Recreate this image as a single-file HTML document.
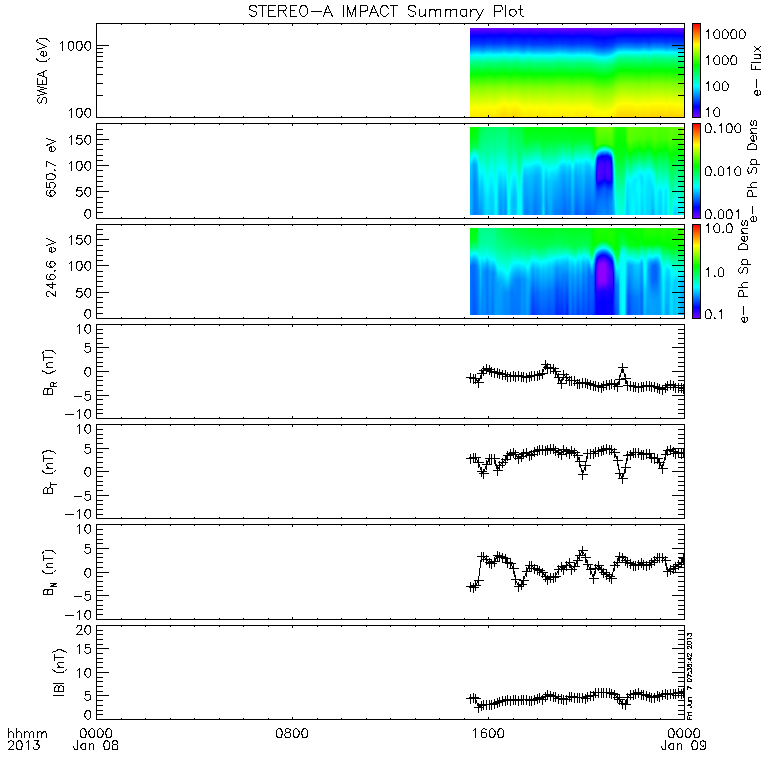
<!DOCTYPE html>
<html><head><meta charset="utf-8"><title>STEREO-A IMPACT Summary Plot</title>
<style>
html,body{margin:0;padding:0;background:#fff}
body{font-family:"Liberation Sans",sans-serif}
#c{position:relative;width:780px;height:780px;background:#fff;overflow:hidden}
#c div{position:absolute}
.cb{left:693px;width:7px;background:linear-gradient(to top,#8000ff,#0000ff 11.11%,#00ffff 33.33%,#00ff00 55.56%,#ffff00 77.78%,#ff0000)}
.h{width:1px}
svg{position:absolute;left:0;top:0}
</style></head><body><div id="c">
<div style="left:470px;width:1px;top:28px;height:89px;background:linear-gradient(#6a00ff 0.5px,#0001ff 8.5px,#0038ff 16.5px,#0093ff 22.5px,#00f9ff 27.5px,#00fff3 28.5px,#00ff7d 35.5px,#00ff05 46.5px,#10ff00 48.5px,#80ff00 59.5px,#fdff00 79.5px,#ffeb00 88.5px)"></div><div style="left:471px;width:1px;top:28px;height:89px;background:linear-gradient(#6900ff 0.5px,#0900ff 7.5px,#0003ff 8.5px,#003bff 16.5px,#0098ff 22.5px,#00feff 27.5px,#00ff79 35.5px,#00ff02 46.5px,#82ff00 59.5px,#ffff00 79.5px,#ffea00 88.5px)"></div><div style="left:472px;width:1px;top:28px;height:89px;background:linear-gradient(#6900ff 0.5px,#0600ff 7.5px,#0005ff 8.5px,#0040ff 16.5px,#009eff 22.5px,#00f0ff 26.5px,#00fffb 27.5px,#00ff82 34.5px,#02ff00 46.5px,#84ff00 59.5px,#fffe00 79.5px,#ffea00 88.5px)"></div><div style="left:473px;width:1px;top:28px;height:89px;background:linear-gradient(#6900ff 0.5px,#0500ff 7.5px,#000cff 9.5px,#0037ff 15.5px,#008fff 21.5px,#00f4ff 26.5px,#00fff7 27.5px,#00ff7f 34.5px,#00ff07 45.5px,#04ff00 46.5px,#86ff00 59.5px,#fffd00 79.5px,#ffea00 88.5px)"></div><div style="left:474px;width:1px;top:28px;height:89px;background:linear-gradient(#6a00ff 0.5px,#0500ff 7.5px,#000cff 9.5px,#0037ff 15.5px,#0090ff 21.5px,#00f6ff 26.5px,#00fff6 27.5px,#00ff7e 34.5px,#00ff06 45.5px,#04ff00 46.5px,#86ff00 59.5px,#fffe00 79.5px,#ffeb00 88.5px)"></div><div style="left:475px;width:1px;top:28px;height:89px;background:linear-gradient(#6b00ff 0.5px,#0600ff 7.5px,#000bff 9.5px,#0036ff 15.5px,#0090ff 21.5px,#00f6ff 26.5px,#00fff6 27.5px,#00ff7f 34.5px,#00ff07 45.5px,#04ff00 46.5px,#7eff00 58.5px,#ffff00 79.5px,#ffec00 88.5px)"></div><div style="left:476px;width:1px;top:28px;height:89px;background:linear-gradient(#6b00ff 0.5px,#0600ff 7.5px,#0004ff 8.5px,#0036ff 15.5px,#0090ff 21.5px,#00f5ff 26.5px,#00fff6 27.5px,#00ff7f 34.5px,#00ff07 45.5px,#03ff00 46.5px,#84ff00 59.5px,#ffff00 79.5px,#ffec00 88.5px)"></div><div style="left:477px;width:1px;top:28px;height:89px;background:linear-gradient(#6b00ff 0.5px,#0600ff 7.5px,#000bff 9.5px,#0036ff 15.5px,#0090ff 21.5px,#00f5ff 26.5px,#00fff6 27.5px,#00ff7f 34.5px,#00ff07 45.5px,#04ff00 46.5px,#85ff00 59.5px,#ffff00 79.5px,#ffec00 88.5px)"></div><div style="left:478px;width:1px;top:28px;height:89px;background:linear-gradient(#6a00ff 0.5px,#0500ff 7.5px,#000cff 9.5px,#0037ff 15.5px,#0090ff 21.5px,#00f5ff 26.5px,#00fff6 27.5px,#00ff7f 34.5px,#00ff07 45.5px,#04ff00 46.5px,#85ff00 59.5px,#fffe00 79.5px,#ffeb00 88.5px)"></div><div style="left:479px;width:1px;top:28px;height:89px;background:linear-gradient(#6900ff 0.5px,#0500ff 7.5px,#000dff 9.5px,#0037ff 15.5px,#0090ff 21.5px,#00f4ff 26.5px,#00fff7 27.5px,#00ff7f 34.5px,#00ff06 45.5px,#04ff00 46.5px,#86ff00 59.5px,#fffd00 79.5px,#ffea00 88.5px)"></div><div style="left:480px;width:1px;top:28px;height:89px;background:linear-gradient(#6900ff 0.5px,#0600ff 7.5px,#000cff 9.5px,#0036ff 15.5px,#0060ff 18.5px,#00a0ff 22.5px,#00f2ff 26.5px,#00fff9 27.5px,#00ff80 34.5px,#03ff00 46.5px,#85ff00 59.5px,#fffd00 79.5px,#ffea00 88.5px)"></div><div style="left:481px;width:1px;top:28px;height:89px;background:linear-gradient(#6a00ff 0.5px,#0800ff 7.5px,#0003ff 8.5px,#003eff 16.5px,#009cff 22.5px,#00fffc 27.5px,#00ff84 34.5px,#00ff00 46.5px,#83ff00 59.5px,#ffff00 79.5px,#ffeb00 88.5px)"></div><div style="left:482px;width:2px;top:28px;height:89px;background:linear-gradient(#6c00ff 0.5px,#0a00ff 7.5px,#0001ff 8.5px,#003bff 16.5px,#0099ff 22.5px,#00ffff 27.5px,#00ff87 34.5px,#00ff02 46.5px,#81ff00 59.5px,#fdff00 79.5px,#ffec00 88.5px)"></div><div style="left:484px;width:1px;top:28px;height:89px;background:linear-gradient(#6a00ff 0.5px,#0800ff 7.5px,#0003ff 8.5px,#003eff 16.5px,#009cff 22.5px,#00fffc 27.5px,#00ff84 34.5px,#00ff00 46.5px,#83ff00 59.5px,#ffff00 79.5px,#ffeb00 88.5px)"></div><div style="left:485px;width:1px;top:28px;height:89px;background:linear-gradient(#6900ff 0.5px,#0600ff 7.5px,#000cff 9.5px,#0036ff 15.5px,#006fff 19.5px,#00a0ff 22.5px,#00f2ff 26.5px,#00fff8 27.5px,#00ff80 34.5px,#00ff08 45.5px,#03ff00 46.5px,#85ff00 59.5px,#fffe00 79.5px,#ffea00 88.5px)"></div><div style="left:486px;width:1px;top:28px;height:89px;background:linear-gradient(#6800ff 0.5px,#0400ff 7.5px,#001cff 11.5px,#0038ff 15.5px,#0091ff 21.5px,#00f6ff 26.5px,#00fff5 27.5px,#00ff7e 34.5px,#00ff05 45.5px,#10ff00 47.5px,#87ff00 59.5px,#fffc00 79.5px,#ffe900 88.5px)"></div><div style="left:487px;width:1px;top:28px;height:89px;background:linear-gradient(#6800ff 0.5px,#0300ff 7.5px,#0039ff 15.5px,#0093ff 21.5px,#00f8ff 26.5px,#00fff3 27.5px,#00ff7c 34.5px,#00ff04 45.5px,#25ff00 49.5px,#88ff00 59.5px,#fdff00 78.5px,#ffe900 88.5px)"></div><div style="left:488px;width:1px;top:28px;height:89px;background:linear-gradient(#6700ff 0.5px,#0200ff 7.5px,#003aff 15.5px,#0094ff 21.5px,#00f9ff 26.5px,#00ffe1 28.5px,#00ff7b 34.5px,#00ff03 45.5px,#89ff00 59.5px,#fdff00 78.5px,#ffe800 88.5px)"></div><div style="left:489px;width:1px;top:28px;height:89px;background:linear-gradient(#6600ff 0.5px,#0100ff 7.5px,#003bff 15.5px,#0094ff 21.5px,#00faff 26.5px,#00ffe0 28.5px,#00ff7a 34.5px,#00ff02 45.5px,#89ff00 59.5px,#feff00 78.5px,#ffe700 88.5px)"></div><div style="left:490px;width:1px;top:28px;height:89px;background:linear-gradient(#6600ff 0.5px,#0100ff 7.5px,#003bff 15.5px,#0094ff 21.5px,#00f9ff 26.5px,#00fff2 27.5px,#00ff7b 34.5px,#00ff03 45.5px,#89ff00 59.5px,#ffff00 78.5px,#ffe700 88.5px)"></div><div style="left:491px;width:1px;top:28px;height:89px;background:linear-gradient(#6700ff 0.5px,#0300ff 7.5px,#0039ff 15.5px,#0092ff 21.5px,#00f6ff 26.5px,#00fff4 27.5px,#00ff7d 34.5px,#00ff04 45.5px,#1bff00 48.5px,#88ff00 59.5px,#fdff00 78.5px,#ffe800 88.5px)"></div><div style="left:492px;width:1px;top:28px;height:89px;background:linear-gradient(#6900ff 0.5px,#0500ff 7.5px,#000cff 9.5px,#0037ff 15.5px,#008fff 21.5px,#00f3ff 26.5px,#00fff7 27.5px,#00ff7f 34.5px,#00ff07 45.5px,#04ff00 46.5px,#86ff00 59.5px,#fffd00 79.5px,#ffe900 88.5px)"></div><div style="left:493px;width:1px;top:28px;height:89px;background:linear-gradient(#6a00ff 0.5px,#0700ff 7.5px,#0004ff 8.5px,#0035ff 15.5px,#007eff 20.5px,#00b4ff 23.5px,#00f1ff 26.5px,#00fff9 27.5px,#00ff81 34.5px,#02ff00 46.5px,#84ff00 59.5px,#ffff00 79.5px,#ffeb00 88.5px)"></div><div style="left:494px;width:1px;top:28px;height:89px;background:linear-gradient(#6b00ff 0.5px,#0700ff 7.5px,#0003ff 8.5px,#0034ff 15.5px,#008dff 21.5px,#00f1ff 26.5px,#00fffa 27.5px,#00ff82 34.5px,#01ff00 46.5px,#83ff00 59.5px,#ffff00 79.5px,#ffec00 88.5px)"></div><div style="left:495px;width:1px;top:28px;height:89px;background:linear-gradient(#6b00ff 0.5px,#0700ff 7.5px,#0004ff 8.5px,#0035ff 15.5px,#008eff 21.5px,#00f2ff 26.5px,#00fff9 27.5px,#00ff81 34.5px,#02ff00 46.5px,#84ff00 59.5px,#ffff00 79.5px,#ffeb00 88.5px)"></div><div style="left:496px;width:1px;top:28px;height:89px;background:linear-gradient(#6900ff 0.5px,#0500ff 7.5px,#000dff 9.5px,#0037ff 15.5px,#0090ff 21.5px,#00f4ff 26.5px,#00fff7 27.5px,#00ff7f 34.5px,#00ff06 45.5px,#04ff00 46.5px,#86ff00 59.5px,#fcff00 78.5px,#ffe800 88.5px)"></div><div style="left:497px;width:1px;top:28px;height:89px;background:linear-gradient(#6600ff 0.5px,#0200ff 7.5px,#0039ff 15.5px,#0092ff 21.5px,#00f6ff 26.5px,#00fff5 27.5px,#00ff7d 34.5px,#00ff04 45.5px,#1bff00 48.5px,#88ff00 59.5px,#fffe00 78.5px,#ffe400 88.5px)"></div><div style="left:498px;width:1px;top:28px;height:89px;background:linear-gradient(#6500ff 0.5px,#0100ff 7.5px,#003aff 15.5px,#0073ff 19.5px,#00a4ff 22.5px,#00f6ff 26.5px,#00fff4 27.5px,#00ff7c 34.5px,#00ff04 45.5px,#3aff00 51.5px,#89ff00 59.5px,#fdff00 77.5px,#ffe000 88.5px)"></div><div style="left:499px;width:1px;top:28px;height:89px;background:linear-gradient(#6500ff 0.5px,#0100ff 7.5px,#003aff 15.5px,#0064ff 18.5px,#00a3ff 22.5px,#00f6ff 26.5px,#00fff5 27.5px,#00ff7c 34.5px,#00ff04 45.5px,#30ff00 50.5px,#8aff00 59.5px,#ffff00 77.5px,#ffeb00 83.5px,#ffde00 88.5px)"></div><div style="left:500px;width:1px;top:28px;height:89px;background:linear-gradient(#6400ff 0.5px,#0100ff 7.5px,#003aff 15.5px,#0064ff 18.5px,#00a4ff 22.5px,#00f6ff 26.5px,#00fff5 27.5px,#00ff7c 34.5px,#00ff04 45.5px,#3aff00 51.5px,#8aff00 59.5px,#fffd00 77.5px,#ffdb00 88.5px)"></div><div style="left:501px;width:1px;top:28px;height:89px;background:linear-gradient(#6400ff 0.5px,#0000ff 7.5px,#003bff 15.5px,#0075ff 19.5px,#00a5ff 22.5px,#00f7ff 26.5px,#00fff3 27.5px,#00ff7b 34.5px,#00ff02 45.5px,#8bff00 59.5px,#feff00 76.5px,#ffd900 88.5px)"></div><div style="left:502px;width:1px;top:28px;height:89px;background:linear-gradient(#6400ff 0.5px,#0001ff 7.5px,#003dff 15.5px,#0096ff 21.5px,#00fbff 26.5px,#00ffce 29.5px,#00ff79 34.5px,#00ff01 45.5px,#8cff00 59.5px,#fffd00 76.5px,#ffd700 88.5px)"></div><div style="left:503px;width:1px;top:28px;height:89px;background:linear-gradient(#6400ff 0.5px,#0002ff 7.5px,#003eff 15.5px,#0099ff 21.5px,#00feff 26.5px,#00ff77 34.5px,#01ff00 45.5px,#8dff00 59.5px,#fcff00 75.5px,#ffd500 88.5px)"></div><div style="left:504px;width:1px;top:28px;height:89px;background:linear-gradient(#6500ff 0.5px,#0002ff 7.5px,#003eff 15.5px,#009aff 21.5px,#00fffe 26.5px,#00ff76 34.5px,#02ff00 45.5px,#86ff00 58.5px,#fdff00 75.5px,#ffd500 88.5px)"></div><div style="left:505px;width:1px;top:28px;height:89px;background:linear-gradient(#6700ff 0.5px,#0000ff 7.5px,#003dff 15.5px,#0099ff 21.5px,#00ffff 26.5px,#00ff77 34.5px,#00ff00 45.5px,#84ff00 58.5px,#fcff00 75.5px,#ffda00 87.5px,#ffd700 88.5px)"></div><div style="left:506px;width:1px;top:28px;height:89px;background:linear-gradient(#6a00ff 0.5px,#0300ff 7.5px,#003aff 15.5px,#0096ff 21.5px,#00fcff 26.5px,#00ff7a 34.5px,#00ff03 45.5px,#89ff00 59.5px,#fffe00 76.5px,#ffd900 88.5px)"></div><div style="left:507px;width:1px;top:28px;height:89px;background:linear-gradient(#6c00ff 0.5px,#0500ff 7.5px,#000bff 9.5px,#0037ff 15.5px,#0092ff 21.5px,#00f8ff 26.5px,#00fff4 27.5px,#00ff7e 34.5px,#00ff06 45.5px,#0fff00 47.5px,#86ff00 59.5px,#fdff00 76.5px,#ffdc00 88.5px)"></div><div style="left:508px;width:1px;top:28px;height:89px;background:linear-gradient(#6d00ff 0.5px,#0700ff 7.5px,#0002ff 8.5px,#0035ff 15.5px,#008fff 21.5px,#00f5ff 26.5px,#00fff7 27.5px,#00ff80 34.5px,#03ff00 46.5px,#84ff00 59.5px,#fbff00 76.5px,#fff200 81.5px,#ffdd00 88.5px)"></div><div style="left:509px;width:1px;top:28px;height:89px;background:linear-gradient(#6d00ff 0.5px,#0800ff 7.5px,#0002ff 8.5px,#0034ff 15.5px,#008eff 21.5px,#00f4ff 26.5px,#00fff8 27.5px,#00ff81 34.5px,#02ff00 46.5px,#84ff00 59.5px,#ffff00 77.5px,#ffdd00 88.5px)"></div><div style="left:510px;width:1px;top:28px;height:89px;background:linear-gradient(#6d00ff 0.5px,#0700ff 7.5px,#0002ff 8.5px,#0034ff 15.5px,#008fff 21.5px,#00f4ff 26.5px,#00fff7 27.5px,#00ff80 34.5px,#02ff00 46.5px,#84ff00 59.5px,#fbff00 76.5px,#fff200 81.5px,#ffdc00 88.5px)"></div><div style="left:511px;width:1px;top:28px;height:89px;background:linear-gradient(#6c00ff 0.5px,#0600ff 7.5px,#0003ff 8.5px,#0035ff 15.5px,#0090ff 21.5px,#00f5ff 26.5px,#00fff6 27.5px,#00ff7f 34.5px,#00ff07 45.5px,#03ff00 46.5px,#85ff00 59.5px,#fcff00 76.5px,#ffdc00 88.5px)"></div><div style="left:512px;width:1px;top:28px;height:89px;background:linear-gradient(#6b00ff 0.5px,#0500ff 7.5px,#000cff 9.5px,#0037ff 15.5px,#0092ff 21.5px,#00f8ff 26.5px,#00fff4 27.5px,#00ff7d 34.5px,#00ff05 45.5px,#0fff00 47.5px,#86ff00 59.5px,#feff00 76.5px,#ffdb00 88.5px)"></div><div style="left:513px;width:1px;top:28px;height:89px;background:linear-gradient(#6900ff 0.5px,#0200ff 7.5px,#0039ff 15.5px,#0095ff 21.5px,#00fbff 26.5px,#00ffbd 30.5px,#00ff7b 34.5px,#00ff03 45.5px,#89ff00 59.5px,#fffe00 76.5px,#ffd900 88.5px)"></div><div style="left:514px;width:1px;top:28px;height:89px;background:linear-gradient(#6700ff 0.5px,#0000ff 7.5px,#003cff 15.5px,#0097ff 21.5px,#00feff 26.5px,#00ff78 34.5px,#00ff01 45.5px,#8bff00 59.5px,#fbff00 75.5px,#fff200 79.5px,#ffd700 88.5px)"></div><div style="left:515px;width:1px;top:28px;height:89px;background:linear-gradient(#6700ff 0.5px,#0000ff 7.5px,#003cff 15.5px,#0098ff 21.5px,#00feff 26.5px,#00ff78 34.5px,#00ff00 45.5px,#85ff00 58.5px,#fcff00 75.5px,#ffe900 82.5px,#ffd700 88.5px)"></div><div style="left:516px;width:1px;top:28px;height:89px;background:linear-gradient(#6700ff 0.5px,#0000ff 7.5px,#003bff 15.5px,#0097ff 21.5px,#00feff 26.5px,#00ff78 34.5px,#00ff01 45.5px,#8bff00 59.5px,#fffd00 76.5px,#ffd800 88.5px)"></div><div style="left:517px;width:1px;top:28px;height:89px;background:linear-gradient(#6700ff 0.5px,#0100ff 7.5px,#003aff 15.5px,#0095ff 21.5px,#00fcff 26.5px,#00ff89 33.5px,#00ff64 36.5px,#00ff02 45.5px,#8aff00 59.5px,#feff00 76.5px,#ffda00 88.5px)"></div><div style="left:518px;width:1px;top:28px;height:89px;background:linear-gradient(#6800ff 0.5px,#0200ff 7.5px,#0039ff 15.5px,#0093ff 21.5px,#00f9ff 26.5px,#00fff3 27.5px,#00ff7c 34.5px,#00ff04 45.5px,#3aff00 51.5px,#89ff00 59.5px,#fffe00 77.5px,#ffdd00 88.5px)"></div><div style="left:519px;width:1px;top:28px;height:89px;background:linear-gradient(#6800ff 0.5px,#0400ff 7.5px,#001cff 11.5px,#0038ff 15.5px,#0090ff 21.5px,#00f5ff 26.5px,#00fff6 27.5px,#00ff7e 34.5px,#00ff06 45.5px,#0fff00 47.5px,#87ff00 59.5px,#feff00 77.5px,#ffdf00 88.5px)"></div><div style="left:520px;width:1px;top:28px;height:89px;background:linear-gradient(#6800ff 0.5px,#0600ff 7.5px,#000cff 9.5px,#0040ff 16.5px,#009eff 22.5px,#00f0ff 26.5px,#00fffa 27.5px,#00ff82 34.5px,#03ff00 46.5px,#86ff00 59.5px,#fffe00 78.5px,#ffe100 88.5px)"></div><div style="left:521px;width:1px;top:28px;height:89px;background:linear-gradient(#6800ff 0.5px,#0800ff 7.5px,#0004ff 8.5px,#003dff 16.5px,#0099ff 22.5px,#00ffff 27.5px,#00ff86 34.5px,#00ff00 46.5px,#84ff00 59.5px,#fdff00 78.5px,#ffe400 88.5px)"></div><div style="left:522px;width:1px;top:28px;height:89px;background:linear-gradient(#6900ff 0.5px,#0900ff 7.5px,#0003ff 8.5px,#003aff 16.5px,#0096ff 22.5px,#00fdff 27.5px,#00ff7a 35.5px,#00ff02 46.5px,#82ff00 59.5px,#fffe00 79.5px,#ffe700 88.5px)"></div><div style="left:523px;width:1px;top:28px;height:89px;background:linear-gradient(#6a00ff 0.5px,#0a00ff 7.5px,#0002ff 8.5px,#003aff 16.5px,#0096ff 22.5px,#00fcff 27.5px,#00ff7a 35.5px,#00ff03 46.5px,#81ff00 59.5px,#ffff00 79.5px,#ffea00 88.5px)"></div><div style="left:524px;width:1px;top:28px;height:89px;background:linear-gradient(#6b00ff 0.5px,#0900ff 7.5px,#0002ff 8.5px,#003bff 16.5px,#0098ff 22.5px,#00feff 27.5px,#00ff87 34.5px,#00ff02 46.5px,#82ff00 59.5px,#feff00 79.5px,#ffeb00 88.5px)"></div><div style="left:525px;width:1px;top:28px;height:89px;background:linear-gradient(#6b00ff 0.5px,#0800ff 7.5px,#0003ff 8.5px,#0034ff 15.5px,#004eff 17.5px,#009cff 22.5px,#00eeff 26.5px,#00fffc 27.5px,#00ff84 34.5px,#00ff00 46.5px,#83ff00 59.5px,#ffff00 79.5px,#ffeb00 88.5px)"></div><div style="left:526px;width:1px;top:28px;height:89px;background:linear-gradient(#6a00ff 0.5px,#0600ff 7.5px,#000bff 9.5px,#0036ff 15.5px,#008fff 21.5px,#00f3ff 26.5px,#00fff8 27.5px,#00ff80 34.5px,#00ff08 45.5px,#03ff00 46.5px,#85ff00 59.5px,#fffe00 79.5px,#ffeb00 88.5px)"></div><div style="left:527px;width:1px;top:28px;height:89px;background:linear-gradient(#6900ff 0.5px,#0400ff 7.5px,#001bff 11.5px,#0038ff 15.5px,#0092ff 21.5px,#00f7ff 26.5px,#00fff4 27.5px,#00ff7d 34.5px,#00ff05 45.5px,#10ff00 47.5px,#87ff00 59.5px,#fffd00 79.5px,#ffea00 88.5px)"></div><div style="left:528px;width:1px;top:28px;height:89px;background:linear-gradient(#6800ff 0.5px,#0300ff 7.5px,#0039ff 15.5px,#0093ff 21.5px,#00f8ff 26.5px,#00fff3 27.5px,#00ff7c 34.5px,#00ff04 45.5px,#25ff00 49.5px,#88ff00 59.5px,#fdff00 78.5px,#ffe900 88.5px)"></div><div style="left:529px;width:1px;top:28px;height:89px;background:linear-gradient(#6700ff 0.5px,#0300ff 7.5px,#0039ff 15.5px,#0092ff 21.5px,#00f7ff 26.5px,#00fff4 27.5px,#00ff7d 34.5px,#00ff04 45.5px,#1bff00 48.5px,#88ff00 59.5px,#fdff00 78.5px,#ffe800 88.5px)"></div><div style="left:530px;width:1px;top:28px;height:89px;background:linear-gradient(#6800ff 0.5px,#0500ff 7.5px,#000dff 9.5px,#0037ff 15.5px,#0061ff 18.5px,#00a1ff 22.5px,#00f3ff 26.5px,#00fff8 27.5px,#00ff7f 34.5px,#00ff07 45.5px,#04ff00 46.5px,#86ff00 59.5px,#fffc00 79.5px,#ffe900 88.5px)"></div><div style="left:531px;width:1px;top:28px;height:89px;background:linear-gradient(#6900ff 0.5px,#0700ff 7.5px,#0004ff 8.5px,#003fff 16.5px,#009cff 22.5px,#00efff 26.5px,#00fffc 27.5px,#00ff83 34.5px,#01ff00 46.5px,#84ff00 59.5px,#fffe00 79.5px,#ffea00 88.5px)"></div><div style="left:532px;width:1px;top:28px;height:89px;background:linear-gradient(#6b00ff 0.5px,#0900ff 7.5px,#0002ff 8.5px,#003cff 16.5px,#0099ff 22.5px,#00ffff 27.5px,#00ff86 34.5px,#00ff01 46.5px,#82ff00 59.5px,#feff00 79.5px,#ffeb00 88.5px)"></div><div style="left:533px;width:1px;top:28px;height:89px;background:linear-gradient(#6c00ff 0.5px,#0a00ff 7.5px,#0001ff 8.5px,#003bff 16.5px,#0098ff 22.5px,#00feff 27.5px,#00ff87 34.5px,#00ff02 46.5px,#81ff00 59.5px,#fdff00 79.5px,#ffed00 88.5px)"></div><div style="left:534px;width:1px;top:28px;height:89px;background:linear-gradient(#6c00ff 0.5px,#0a00ff 7.5px,#0001ff 8.5px,#003bff 16.5px,#0099ff 22.5px,#00ffff 27.5px,#00ff87 34.5px,#00ff02 46.5px,#81ff00 59.5px,#fdff00 79.5px,#ffed00 88.5px)"></div><div style="left:535px;width:1px;top:28px;height:89px;background:linear-gradient(#6c00ff 0.5px,#0900ff 7.5px,#0002ff 8.5px,#003dff 16.5px,#009bff 22.5px,#00fffe 27.5px,#00ff85 34.5px,#00ff01 46.5px,#82ff00 59.5px,#feff00 79.5px,#ffed00 88.5px)"></div><div style="left:536px;width:1px;top:28px;height:89px;background:linear-gradient(#6b00ff 0.5px,#0800ff 7.5px,#0003ff 8.5px,#0034ff 15.5px,#004dff 17.5px,#009cff 22.5px,#00eeff 26.5px,#00fffc 27.5px,#00ff83 34.5px,#00ff00 46.5px,#83ff00 59.5px,#ffff00 79.5px,#ffec00 88.5px)"></div><div style="left:537px;width:1px;top:28px;height:89px;background:linear-gradient(#6a00ff 0.5px,#0700ff 7.5px,#0003ff 8.5px,#003fff 16.5px,#009dff 22.5px,#00efff 26.5px,#00fffc 27.5px,#00ff83 34.5px,#01ff00 46.5px,#83ff00 59.5px,#ffff00 79.5px,#ffeb00 88.5px)"></div><div style="left:538px;width:1px;top:28px;height:89px;background:linear-gradient(#6900ff 0.5px,#0700ff 7.5px,#0004ff 8.5px,#003fff 16.5px,#009dff 22.5px,#00efff 26.5px,#00fffc 27.5px,#00ff83 34.5px,#01ff00 46.5px,#84ff00 59.5px,#fffe00 79.5px,#ffea00 88.5px)"></div><div style="left:539px;width:1px;top:28px;height:89px;background:linear-gradient(#6800ff 0.5px,#0600ff 7.5px,#000cff 9.5px,#003fff 16.5px,#009dff 22.5px,#00efff 26.5px,#00fffb 27.5px,#00ff83 34.5px,#02ff00 46.5px,#85ff00 59.5px,#fffd00 79.5px,#ffe800 88.5px)"></div><div style="left:540px;width:1px;top:28px;height:89px;background:linear-gradient(#6600ff 0.5px,#0500ff 7.5px,#000dff 9.5px,#0040ff 16.5px,#009dff 22.5px,#00efff 26.5px,#00fffb 27.5px,#00ff82 34.5px,#03ff00 46.5px,#86ff00 59.5px,#fcff00 78.5px,#ffe700 88.5px)"></div><div style="left:541px;width:1px;top:28px;height:89px;background:linear-gradient(#6600ff 0.5px,#0500ff 7.5px,#000eff 9.5px,#003fff 16.5px,#009cff 22.5px,#00fffc 27.5px,#00ff83 34.5px,#03ff00 46.5px,#86ff00 59.5px,#fcff00 78.5px,#ffe700 88.5px)"></div><div style="left:542px;width:1px;top:28px;height:89px;background:linear-gradient(#6700ff 0.5px,#0600ff 7.5px,#0006ff 8.5px,#003eff 16.5px,#009aff 22.5px,#00fffe 27.5px,#00ff77 35.5px,#01ff00 46.5px,#85ff00 59.5px,#fffd00 79.5px,#ffe800 88.5px)"></div><div style="left:543px;width:1px;top:28px;height:89px;background:linear-gradient(#6800ff 0.5px,#0700ff 7.5px,#0005ff 8.5px,#003cff 16.5px,#0099ff 22.5px,#00ffff 27.5px,#00ff78 35.5px,#00ff00 46.5px,#84ff00 59.5px,#fffe00 79.5px,#ffe800 88.5px)"></div><div style="left:544px;width:1px;top:28px;height:89px;background:linear-gradient(#6700ff 0.5px,#0700ff 7.5px,#0005ff 8.5px,#003dff 16.5px,#0099ff 22.5px,#00ffff 27.5px,#00ff78 35.5px,#00ff00 46.5px,#84ff00 59.5px,#fffd00 79.5px,#ffe800 88.5px)"></div><div style="left:545px;width:1px;top:28px;height:89px;background:linear-gradient(#6700ff 0.5px,#0600ff 7.5px,#0005ff 8.5px,#003eff 16.5px,#009aff 22.5px,#00fffd 27.5px,#00ff84 34.5px,#01ff00 46.5px,#85ff00 59.5px,#fffd00 79.5px,#ffe800 88.5px)"></div><div style="left:546px;width:1px;top:28px;height:89px;background:linear-gradient(#6800ff 0.5px,#0700ff 7.5px,#0005ff 8.5px,#003eff 16.5px,#009bff 22.5px,#00fffd 27.5px,#00ff84 34.5px,#01ff00 46.5px,#84ff00 59.5px,#fffe00 79.5px,#ffe900 88.5px)"></div><div style="left:547px;width:1px;top:28px;height:89px;background:linear-gradient(#6b00ff 0.5px,#0800ff 7.5px,#0003ff 8.5px,#003dff 16.5px,#009bff 22.5px,#00fffd 27.5px,#00ff84 34.5px,#00ff00 46.5px,#82ff00 59.5px,#feff00 79.5px,#ffec00 88.5px)"></div><div style="left:548px;width:1px;top:28px;height:89px;background:linear-gradient(#6d00ff 0.5px,#0a00ff 7.5px,#0000ff 8.5px,#0031ff 15.5px,#005bff 18.5px,#009bff 22.5px,#00fffe 27.5px,#00ff85 34.5px,#00ff02 46.5px,#81ff00 59.5px,#fcff00 79.5px,#ffee00 88.5px)"></div><div style="left:549px;width:1px;top:28px;height:89px;background:linear-gradient(#6f00ff 0.5px,#0b00ff 7.5px,#0100ff 8.5px,#0030ff 15.5px,#006aff 19.5px,#009aff 22.5px,#00fffe 27.5px,#00ff86 34.5px,#00ff03 46.5px,#7fff00 59.5px,#fbff00 79.5px,#fff600 85.5px,#fff000 88.5px)"></div><div style="left:550px;width:1px;top:28px;height:89px;background:linear-gradient(#6f00ff 0.5px,#0c00ff 7.5px,#0100ff 8.5px,#0030ff 15.5px,#0069ff 19.5px,#009aff 22.5px,#00fffe 27.5px,#00ff86 34.5px,#00ff03 46.5px,#7fff00 59.5px,#faff00 79.5px,#fff700 85.5px,#fff000 88.5px)"></div><div style="left:551px;width:1px;top:28px;height:89px;background:linear-gradient(#6f00ff 0.5px,#0b00ff 7.5px,#0100ff 8.5px,#0031ff 15.5px,#006aff 19.5px,#009bff 22.5px,#00fffe 27.5px,#00ff85 34.5px,#00ff02 46.5px,#80ff00 59.5px,#fbff00 79.5px,#ffef00 88.5px)"></div><div style="left:552px;width:1px;top:28px;height:89px;background:linear-gradient(#6d00ff 0.5px,#0900ff 7.5px,#0001ff 8.5px,#0032ff 15.5px,#005cff 18.5px,#009cff 22.5px,#00fffc 27.5px,#00ff84 34.5px,#00ff01 46.5px,#81ff00 59.5px,#fdff00 79.5px,#ffee00 88.5px)"></div><div style="left:553px;width:1px;top:28px;height:89px;background:linear-gradient(#6b00ff 0.5px,#0800ff 7.5px,#0003ff 8.5px,#0034ff 15.5px,#005eff 18.5px,#009eff 22.5px,#00f0ff 26.5px,#00fffb 27.5px,#00ff82 34.5px,#01ff00 46.5px,#83ff00 59.5px,#ffff00 79.5px,#ffec00 88.5px)"></div><div style="left:554px;width:1px;top:28px;height:89px;background:linear-gradient(#6a00ff 0.5px,#0600ff 7.5px,#0004ff 8.5px,#0036ff 15.5px,#006fff 19.5px,#00a0ff 22.5px,#00f2ff 26.5px,#00fff9 27.5px,#00ff81 34.5px,#03ff00 46.5px,#85ff00 59.5px,#fffe00 79.5px,#ffeb00 88.5px)"></div><div style="left:555px;width:1px;top:28px;height:89px;background:linear-gradient(#6a00ff 0.5px,#0600ff 7.5px,#000bff 9.5px,#0036ff 15.5px,#008fff 21.5px,#00f3ff 26.5px,#00fff7 27.5px,#00ff80 34.5px,#00ff07 45.5px,#03ff00 46.5px,#85ff00 59.5px,#fffe00 79.5px,#ffeb00 88.5px)"></div><div style="left:556px;width:1px;top:28px;height:89px;background:linear-gradient(#6b00ff 0.5px,#0600ff 7.5px,#000bff 9.5px,#0036ff 15.5px,#0090ff 21.5px,#00f5ff 26.5px,#00fff6 27.5px,#00ff7f 34.5px,#00ff07 45.5px,#04ff00 46.5px,#7eff00 58.5px,#ffff00 79.5px,#ffec00 88.5px)"></div><div style="left:557px;width:1px;top:28px;height:89px;background:linear-gradient(#6c00ff 0.5px,#0600ff 7.5px,#000bff 9.5px,#0037ff 15.5px,#0092ff 21.5px,#00f8ff 26.5px,#00fff4 27.5px,#00ff7e 34.5px,#00ff06 45.5px,#0fff00 47.5px,#7eff00 58.5px,#feff00 79.5px,#ffed00 88.5px)"></div><div style="left:558px;width:1px;top:28px;height:89px;background:linear-gradient(#6c00ff 0.5px,#0400ff 7.5px,#0013ff 10.5px,#0038ff 15.5px,#0095ff 21.5px,#00fbff 26.5px,#00ffcf 29.5px,#00ff7c 34.5px,#00ff04 45.5px,#1bff00 48.5px,#80ff00 58.5px,#ffff00 79.5px,#ffed00 88.5px)"></div><div style="left:559px;width:1px;top:28px;height:89px;background:linear-gradient(#6c00ff 0.5px,#0400ff 7.5px,#001bff 11.5px,#0039ff 15.5px,#0096ff 21.5px,#00fcff 26.5px,#00ff7b 34.5px,#00ff04 45.5px,#30ff00 50.5px,#80ff00 58.5px,#ffff00 79.5px,#ffed00 88.5px)"></div><div style="left:560px;width:1px;top:28px;height:89px;background:linear-gradient(#6c00ff 0.5px,#0500ff 7.5px,#000bff 9.5px,#0038ff 15.5px,#0094ff 21.5px,#00faff 26.5px,#00ffe1 28.5px,#00ff7d 34.5px,#00ff05 45.5px,#10ff00 47.5px,#7fff00 58.5px,#feff00 79.5px,#ffed00 88.5px)"></div><div style="left:561px;width:1px;top:28px;height:89px;background:linear-gradient(#6d00ff 0.5px,#0600ff 7.5px,#000aff 9.5px,#0036ff 15.5px,#0092ff 21.5px,#00f8ff 26.5px,#00fff4 27.5px,#00ff7e 34.5px,#00ff06 45.5px,#04ff00 46.5px,#7eff00 58.5px,#feff00 79.5px,#ffed00 88.5px)"></div><div style="left:562px;width:1px;top:28px;height:89px;background:linear-gradient(#6c00ff 0.5px,#0600ff 7.5px,#0003ff 8.5px,#0036ff 15.5px,#0090ff 21.5px,#00f6ff 26.5px,#00fff6 27.5px,#00ff7f 34.5px,#00ff07 45.5px,#04ff00 46.5px,#7eff00 58.5px,#feff00 79.5px,#ffed00 88.5px)"></div><div style="left:563px;width:1px;top:28px;height:89px;background:linear-gradient(#6b00ff 0.5px,#0600ff 7.5px,#000bff 9.5px,#0036ff 15.5px,#0090ff 21.5px,#00f5ff 26.5px,#00fff6 27.5px,#00ff7f 34.5px,#00ff07 45.5px,#04ff00 46.5px,#85ff00 59.5px,#ffff00 79.5px,#ffeb00 88.5px)"></div><div style="left:564px;width:1px;top:28px;height:89px;background:linear-gradient(#6900ff 0.5px,#0500ff 7.5px,#000cff 9.5px,#0037ff 15.5px,#0090ff 21.5px,#00f4ff 26.5px,#00fff6 27.5px,#00ff7f 34.5px,#00ff07 45.5px,#04ff00 46.5px,#86ff00 59.5px,#fffd00 79.5px,#ffea00 88.5px)"></div><div style="left:565px;width:1px;top:28px;height:89px;background:linear-gradient(#6900ff 0.5px,#0500ff 7.5px,#000dff 9.5px,#0037ff 15.5px,#008fff 21.5px,#00f4ff 26.5px,#00fff7 27.5px,#00ff7f 34.5px,#00ff07 45.5px,#04ff00 46.5px,#86ff00 59.5px,#fffd00 79.5px,#ffe900 88.5px)"></div><div style="left:566px;width:1px;top:28px;height:89px;background:linear-gradient(#6900ff 0.5px,#0500ff 7.5px,#000cff 9.5px,#0036ff 15.5px,#0060ff 18.5px,#00a0ff 22.5px,#00f2ff 26.5px,#00fff9 27.5px,#00ff80 34.5px,#00ff08 45.5px,#03ff00 46.5px,#85ff00 59.5px,#fffd00 79.5px,#ffea00 88.5px)"></div><div style="left:567px;width:1px;top:28px;height:89px;background:linear-gradient(#6a00ff 0.5px,#0700ff 7.5px,#0004ff 8.5px,#0035ff 15.5px,#004eff 17.5px,#009dff 22.5px,#00efff 26.5px,#00fffb 27.5px,#00ff83 34.5px,#01ff00 46.5px,#84ff00 59.5px,#ffff00 79.5px,#ffeb00 88.5px)"></div><div style="left:568px;width:1px;top:28px;height:89px;background:linear-gradient(#6b00ff 0.5px,#0900ff 7.5px,#0002ff 8.5px,#003cff 16.5px,#009aff 22.5px,#00fffe 27.5px,#00ff85 34.5px,#00ff01 46.5px,#82ff00 59.5px,#feff00 79.5px,#ffec00 88.5px)"></div><div style="left:569px;width:1px;top:28px;height:89px;background:linear-gradient(#6d00ff 0.5px,#0000ff 8.5px,#003bff 16.5px,#0098ff 22.5px,#00feff 27.5px,#00ff87 34.5px,#00ff03 46.5px,#80ff00 59.5px,#fcff00 79.5px,#ffed00 88.5px)"></div><div style="left:570px;width:1px;top:28px;height:89px;background:linear-gradient(#6e00ff 0.5px,#0100ff 8.5px,#0039ff 16.5px,#0097ff 22.5px,#00fdff 27.5px,#00ff89 34.5px,#00ff04 46.5px,#25ff00 50.5px,#7fff00 59.5px,#fbff00 79.5px,#fff100 87.5px,#ffef00 88.5px)"></div><div style="left:571px;width:1px;top:28px;height:89px;background:linear-gradient(#6f00ff 0.5px,#0200ff 8.5px,#0039ff 16.5px,#0096ff 22.5px,#00fcff 27.5px,#00ff89 34.5px,#00ff05 46.5px,#10ff00 48.5px,#7eff00 59.5px,#faff00 79.5px,#fff800 84.5px,#ffef00 88.5px)"></div><div style="left:572px;width:1px;top:28px;height:89px;background:linear-gradient(#6f00ff 0.5px,#0200ff 8.5px,#0039ff 16.5px,#0096ff 22.5px,#00fcff 27.5px,#00ff89 34.5px,#00ff05 46.5px,#10ff00 48.5px,#7eff00 59.5px,#faff00 79.5px,#fff800 84.5px,#fff000 88.5px)"></div><div style="left:573px;width:1px;top:28px;height:89px;background:linear-gradient(#6e00ff 0.5px,#0100ff 8.5px,#0039ff 16.5px,#0097ff 22.5px,#00fdff 27.5px,#00ff88 34.5px,#00ff04 46.5px,#1bff00 49.5px,#7fff00 59.5px,#fbff00 79.5px,#fff600 85.5px,#ffef00 88.5px)"></div><div style="left:574px;width:1px;top:28px;height:89px;background:linear-gradient(#6d00ff 0.5px,#0000ff 8.5px,#003bff 16.5px,#0099ff 22.5px,#00ffff 27.5px,#00ff87 34.5px,#00ff03 46.5px,#80ff00 59.5px,#fcff00 79.5px,#ffee00 88.5px)"></div><div style="left:575px;width:1px;top:28px;height:89px;background:linear-gradient(#6b00ff 0.5px,#0800ff 7.5px,#0002ff 8.5px,#003eff 16.5px,#009cff 22.5px,#00fffd 27.5px,#00ff84 34.5px,#00ff00 46.5px,#82ff00 59.5px,#feff00 79.5px,#ffec00 88.5px)"></div><div style="left:576px;width:1px;top:28px;height:89px;background:linear-gradient(#6900ff 0.5px,#0600ff 7.5px,#000cff 9.5px,#0036ff 15.5px,#005fff 18.5px,#009fff 22.5px,#00f1ff 26.5px,#00fff9 27.5px,#00ff81 34.5px,#03ff00 46.5px,#85ff00 59.5px,#fffd00 79.5px,#ffea00 88.5px)"></div><div style="left:577px;width:1px;top:28px;height:89px;background:linear-gradient(#6800ff 0.5px,#0400ff 7.5px,#0014ff 10.5px,#0037ff 15.5px,#0061ff 18.5px,#00a1ff 22.5px,#00f3ff 26.5px,#00fff7 27.5px,#00ff7f 34.5px,#00ff07 45.5px,#04ff00 46.5px,#86ff00 59.5px,#fffc00 79.5px,#ffe800 88.5px)"></div><div style="left:578px;width:1px;top:28px;height:89px;background:linear-gradient(#6800ff 0.5px,#0500ff 7.5px,#000dff 9.5px,#0037ff 15.5px,#0070ff 19.5px,#00a1ff 22.5px,#00f3ff 26.5px,#00fff8 27.5px,#00ff7f 34.5px,#00ff07 45.5px,#04ff00 46.5px,#86ff00 59.5px,#fffd00 79.5px,#ffe900 88.5px)"></div><div style="left:579px;width:1px;top:28px;height:89px;background:linear-gradient(#6b00ff 0.5px,#0700ff 7.5px,#0003ff 8.5px,#0035ff 15.5px,#006eff 19.5px,#009fff 22.5px,#00f1ff 26.5px,#00fffa 27.5px,#00ff81 34.5px,#02ff00 46.5px,#84ff00 59.5px,#ffff00 79.5px,#ffeb00 88.5px)"></div><div style="left:580px;width:1px;top:28px;height:89px;background:linear-gradient(#6d00ff 0.5px,#0900ff 7.5px,#0001ff 8.5px,#0032ff 15.5px,#007bff 20.5px,#00b1ff 23.5px,#00efff 26.5px,#00fffc 27.5px,#00ff84 34.5px,#00ff01 46.5px,#81ff00 59.5px,#fdff00 79.5px,#ffee00 88.5px)"></div><div style="left:581px;width:1px;top:28px;height:89px;background:linear-gradient(#6e00ff 0.5px,#0a00ff 7.5px,#0000ff 8.5px,#0031ff 15.5px,#006bff 19.5px,#009cff 22.5px,#00fffd 27.5px,#00ff85 34.5px,#00ff02 46.5px,#80ff00 59.5px,#fcff00 79.5px,#ffef00 88.5px)"></div><div style="left:582px;width:1px;top:28px;height:89px;background:linear-gradient(#6d00ff 0.5px,#0900ff 7.5px,#0001ff 8.5px,#0033ff 15.5px,#006cff 19.5px,#009cff 22.5px,#00eeff 26.5px,#00fffc 27.5px,#00ff84 34.5px,#00ff00 46.5px,#81ff00 59.5px,#fdff00 79.5px,#ffed00 88.5px)"></div><div style="left:583px;width:1px;top:28px;height:89px;background:linear-gradient(#6b00ff 0.5px,#0700ff 7.5px,#0003ff 8.5px,#0034ff 15.5px,#005eff 18.5px,#009eff 22.5px,#00f0ff 26.5px,#00fffb 27.5px,#00ff82 34.5px,#01ff00 46.5px,#83ff00 59.5px,#ffff00 79.5px,#ffeb00 88.5px)"></div><div style="left:584px;width:1px;top:28px;height:89px;background:linear-gradient(#6900ff 0.5px,#0600ff 7.5px,#0005ff 8.5px,#0035ff 15.5px,#004fff 17.5px,#009eff 22.5px,#00f0ff 26.5px,#00fffa 27.5px,#00ff82 34.5px,#02ff00 46.5px,#85ff00 59.5px,#fffe00 79.5px,#ffea00 88.5px)"></div><div style="left:585px;width:1px;top:28px;height:89px;background:linear-gradient(#6900ff 0.5px,#0600ff 7.5px,#0005ff 8.5px,#003fff 16.5px,#009dff 22.5px,#00efff 26.5px,#00fffb 27.5px,#00ff82 34.5px,#02ff00 46.5px,#85ff00 59.5px,#fffe00 79.5px,#ffe900 88.5px)"></div><div style="left:586px;width:1px;top:28px;height:89px;background:linear-gradient(#6900ff 0.5px,#0700ff 7.5px,#0004ff 8.5px,#003fff 16.5px,#009cff 22.5px,#00fffc 27.5px,#00ff83 34.5px,#01ff00 46.5px,#84ff00 59.5px,#fffe00 79.5px,#ffea00 88.5px)"></div><div style="left:587px;width:1px;top:28px;height:89px;background:linear-gradient(#6a00ff 0.5px,#0700ff 7.5px,#0004ff 8.5px,#003eff 16.5px,#009cff 22.5px,#00fffc 27.5px,#00ff84 34.5px,#01ff00 46.5px,#83ff00 59.5px,#ffff00 79.5px,#ffea00 88.5px)"></div><div style="left:588px;width:1px;top:28px;height:89px;background:linear-gradient(#6a00ff 0.5px,#0700ff 7.5px,#0004ff 8.5px,#003fff 16.5px,#009dff 22.5px,#00efff 26.5px,#00fffc 27.5px,#00ff83 34.5px,#01ff00 46.5px,#84ff00 59.5px,#fffe00 79.5px,#ffea00 88.5px)"></div><div style="left:589px;width:1px;top:28px;height:89px;background:linear-gradient(#6a00ff 0.5px,#0700ff 7.5px,#0003ff 8.5px,#0034ff 15.5px,#005dff 18.5px,#009dff 22.5px,#00efff 26.5px,#00fffc 27.5px,#00ff83 34.5px,#01ff00 46.5px,#83ff00 59.5px,#ffff00 79.5px,#ffeb00 88.5px)"></div><div style="left:590px;width:1px;top:28px;height:89px;background:linear-gradient(#6c00ff 0.5px,#0900ff 7.5px,#0001ff 8.5px,#0033ff 15.5px,#006bff 19.5px,#009bff 22.5px,#00fffe 27.5px,#00ff85 34.5px,#00ff01 46.5px,#80ff00 59.5px,#fcff00 79.5px,#ffed00 88.5px)"></div><div style="left:591px;width:1px;top:28px;height:89px;background:linear-gradient(#6d00ff 0.5px,#0c00ff 7.5px,#0100ff 8.5px,#0030ff 15.5px,#0067ff 19.5px,#0098ff 22.5px,#00fcff 27.5px,#00ff89 34.5px,#00ff04 46.5px,#1aff00 49.5px,#7dff00 59.5px,#f8ff00 79.5px,#fff800 84.5px,#fff000 88.5px)"></div><div style="left:592px;width:1px;top:28px;height:89px;background:linear-gradient(#6d00ff 0.5px,#0d00ff 7.5px,#0300ff 8.5px,#002fff 15.5px,#0055ff 18.5px,#0095ff 22.5px,#00f9ff 27.5px,#00fff3 28.5px,#00ff8c 34.5px,#00ff32 42.5px,#00ff06 46.5px,#04ff00 47.5px,#7aff00 59.5px,#f5ff00 79.5px,#fffc00 83.5px,#fff200 88.5px)"></div><div style="left:593px;width:1px;top:28px;height:89px;background:linear-gradient(#6d00ff 0.5px,#0e00ff 7.5px,#0400ff 8.5px,#0019ff 12.5px,#0038ff 16.5px,#0080ff 21.5px,#00cdff 25.5px,#00f5ff 27.5px,#00fff6 28.5px,#00ff8f 34.5px,#00ff5f 38.5px,#02ff00 47.5px,#77ff00 59.5px,#d5ff00 74.5px,#f6ff00 80.5px,#fffa00 84.5px,#fff200 88.5px)"></div><div style="left:594px;width:1px;top:28px;height:89px;background:linear-gradient(#6c00ff 0.5px,#1c00ff 6.5px,#0500ff 8.5px,#000aff 10.5px,#0036ff 16.5px,#005eff 19.5px,#009fff 23.5px,#00f0ff 27.5px,#00fffb 28.5px,#00ff84 35.5px,#00ff01 47.5px,#7cff00 60.5px,#f3ff00 80.5px,#fffb00 84.5px,#fff400 88.5px)"></div><div style="left:595px;width:1px;top:28px;height:89px;background:linear-gradient(#6d00ff 0.5px,#2a00ff 5.5px,#0002ff 9.5px,#0033ff 16.5px,#0049ff 18.5px,#0099ff 23.5px,#00feff 28.5px,#00ff89 35.5px,#00ff5a 39.5px,#00ff05 47.5px,#10ff00 49.5px,#81ff00 61.5px,#f5ff00 81.5px,#fffd00 84.5px,#fff500 88.5px)"></div><div style="left:596px;width:1px;top:28px;height:89px;background:linear-gradient(#6d00ff 0.5px,#3700ff 4.5px,#0000ff 9.5px,#0038ff 17.5px,#0093ff 23.5px,#00f9ff 28.5px,#00fff3 29.5px,#00ff7d 36.5px,#03ff00 48.5px,#7eff00 61.5px,#fdff00 83.5px,#fff700 88.5px)"></div><div style="left:597px;width:1px;top:28px;height:89px;background:linear-gradient(#6c00ff 0.5px,#3700ff 4.5px,#0000ff 9.5px,#0036ff 17.5px,#0090ff 23.5px,#00f5ff 28.5px,#00fff6 29.5px,#00ff7f 36.5px,#01ff00 48.5px,#84ff00 62.5px,#fcff00 83.5px,#fff700 88.5px)"></div><div style="left:598px;width:1px;top:28px;height:89px;background:linear-gradient(#6a00ff 0.5px,#3500ff 4.5px,#0001ff 9.5px,#0037ff 17.5px,#0070ff 21.5px,#00a1ff 24.5px,#00f5ff 28.5px,#00fff6 29.5px,#00ff7e 36.5px,#01ff00 48.5px,#84ff00 62.5px,#feff00 83.5px,#fff600 88.5px)"></div><div style="left:599px;width:1px;top:28px;height:89px;background:linear-gradient(#6800ff 0.5px,#3400ff 4.5px,#0002ff 9.5px,#0037ff 17.5px,#0051ff 19.5px,#00a0ff 24.5px,#00f4ff 28.5px,#00fff7 29.5px,#00ff7e 36.5px,#01ff00 48.5px,#85ff00 62.5px,#ffff00 83.5px,#fff500 88.5px)"></div><div style="left:600px;width:1px;top:28px;height:89px;background:linear-gradient(#6900ff 0.5px,#3500ff 4.5px,#0000ff 9.5px,#003fff 18.5px,#009dff 24.5px,#00f1ff 28.5px,#00fff9 29.5px,#00ff81 36.5px,#00ff00 48.5px,#83ff00 62.5px,#feff00 83.5px,#fff500 88.5px)"></div><div style="left:601px;width:1px;top:28px;height:89px;background:linear-gradient(#6b00ff 0.5px,#3800ff 4.5px,#0200ff 9.5px,#003cff 18.5px,#0099ff 24.5px,#00fffd 29.5px,#00ff84 36.5px,#00ff04 48.5px,#36ff00 54.5px,#81ff00 62.5px,#ffff00 84.5px,#fff800 88.5px)"></div><div style="left:602px;width:1px;top:28px;height:89px;background:linear-gradient(#6e00ff 0.5px,#3a00ff 4.5px,#0500ff 9.5px,#0009ff 11.5px,#0039ff 18.5px,#0097ff 24.5px,#00ffff 29.5px,#00ff87 36.5px,#00ff06 48.5px,#0dff00 50.5px,#7eff00 62.5px,#fdff00 84.5px,#fffa00 88.5px)"></div><div style="left:603px;width:1px;top:28px;height:89px;background:linear-gradient(#6f00ff 0.5px,#3b00ff 4.5px,#0500ff 9.5px,#0008ff 11.5px,#0039ff 18.5px,#0097ff 24.5px,#00ffff 29.5px,#00ff87 36.5px,#00ff06 48.5px,#03ff00 49.5px,#7eff00 62.5px,#fcff00 84.5px,#fffb00 88.5px)"></div><div style="left:604px;width:1px;top:28px;height:89px;background:linear-gradient(#6e00ff 0.5px,#3a00ff 4.5px,#0400ff 9.5px,#0010ff 12.5px,#0031ff 17.5px,#004aff 19.5px,#0099ff 24.5px,#00fffd 29.5px,#00ff85 36.5px,#00ff05 48.5px,#0eff00 50.5px,#7fff00 62.5px,#fdff00 84.5px,#fffa00 88.5px)"></div><div style="left:605px;width:1px;top:28px;height:89px;background:linear-gradient(#6d00ff 0.5px,#3800ff 4.5px,#0200ff 9.5px,#0033ff 17.5px,#005cff 20.5px,#009cff 24.5px,#00f0ff 28.5px,#00fffb 29.5px,#00ff82 36.5px,#00ff03 48.5px,#81ff00 62.5px,#feff00 84.5px,#fff900 88.5px)"></div><div style="left:606px;width:1px;top:28px;height:89px;background:linear-gradient(#6c00ff 0.5px,#3700ff 4.5px,#0100ff 9.5px,#0034ff 17.5px,#008dff 23.5px,#00f3ff 28.5px,#00fff8 29.5px,#00ff80 36.5px,#00ff01 48.5px,#82ff00 62.5px,#ffff00 84.5px,#fff800 88.5px)"></div><div style="left:607px;width:1px;top:28px;height:89px;background:linear-gradient(#6a00ff 0.5px,#3500ff 4.5px,#0001ff 9.5px,#0036ff 17.5px,#008fff 23.5px,#00f6ff 28.5px,#00fff5 29.5px,#00ff7e 36.5px,#01ff00 48.5px,#84ff00 62.5px,#fdff00 83.5px,#fff700 88.5px)"></div><div style="left:608px;width:1px;top:28px;height:89px;background:linear-gradient(#6900ff 0.5px,#3400ff 4.5px,#0002ff 9.5px,#0038ff 17.5px,#0092ff 23.5px,#00f9ff 28.5px,#00fff3 29.5px,#00ff7c 36.5px,#00ff07 47.5px,#03ff00 48.5px,#85ff00 62.5px,#feff00 83.5px,#fff600 88.5px)"></div><div style="left:609px;width:1px;top:28px;height:89px;background:linear-gradient(#6900ff 0.5px,#3400ff 4.5px,#0003ff 9.5px,#0039ff 17.5px,#0094ff 23.5px,#00fcff 28.5px,#00ff7a 36.5px,#00ff05 47.5px,#0eff00 49.5px,#87ff00 62.5px,#ffff00 83.5px,#fff500 88.5px)"></div><div style="left:610px;width:1px;top:28px;height:89px;background:linear-gradient(#6a00ff 0.5px,#3400ff 4.5px,#0700ff 8.5px,#0003ff 9.5px,#003cff 17.5px,#0099ff 23.5px,#00fffe 28.5px,#00ff78 36.5px,#00ff03 47.5px,#53ff00 56.5px,#88ff00 62.5px,#fffe00 83.5px,#fff400 88.5px)"></div><div style="left:611px;width:1px;top:28px;height:89px;background:linear-gradient(#6c00ff 0.5px,#2a00ff 5.5px,#0002ff 9.5px,#003fff 17.5px,#007dff 21.5px,#00b3ff 24.5px,#00f1ff 27.5px,#00fff9 28.5px,#00ff94 34.5px,#00ff75 36.5px,#00ff01 47.5px,#82ff00 61.5px,#f6ff00 81.5px,#fffe00 83.5px,#fff200 88.5px)"></div><div style="left:612px;width:1px;top:28px;height:89px;background:linear-gradient(#6e00ff 0.5px,#1e00ff 6.5px,#0002ff 9.5px,#0031ff 15.5px,#0050ff 18.5px,#00bbff 24.5px,#00f8ff 27.5px,#00fff2 28.5px,#00ffad 32.5px,#00ff70 36.5px,#00ff07 46.5px,#03ff00 47.5px,#73ff00 59.5px,#97ff00 64.5px,#f3ff00 80.5px,#fffc00 83.5px,#ffef00 88.5px)"></div><div style="left:613px;width:1px;top:28px;height:89px;background:linear-gradient(#6e00ff 0.5px,#1000ff 7.5px,#0004ff 9.5px,#0034ff 15.5px,#0056ff 18.5px,#009eff 22.5px,#00fffc 27.5px,#00ffb3 31.5px,#00ff5f 37.5px,#00ff01 46.5px,#70ff00 58.5px,#9cff00 64.5px,#edff00 78.5px,#fffe00 82.5px,#ffeb00 88.5px)"></div><div style="left:614px;width:1px;top:28px;height:89px;background:linear-gradient(#6d00ff 0.5px,#0c00ff 7.5px,#0200ff 8.5px,#002eff 14.5px,#005fff 18.5px,#0095ff 21.5px,#00faff 26.5px,#00ffdc 28.5px,#00ffa6 31.5px,#00ff57 37.5px,#00ff03 45.5px,#77ff00 58.5px,#aeff00 66.5px,#efff00 77.5px,#fffd00 81.5px,#ffe600 88.5px)"></div><div style="left:615px;width:1px;top:28px;height:89px;background:linear-gradient(#6b00ff 0.5px,#0700ff 7.5px,#0002ff 8.5px,#0033ff 14.5px,#0078ff 19.5px,#00f4ff 25.5px,#00fff7 26.5px,#00ff99 31.5px,#00ff43 38.5px,#00ff04 44.5px,#2eff00 49.5px,#77ff00 57.5px,#c1ff00 68.5px,#f6ff00 77.5px,#fffb00 80.5px,#ffe000 88.5px)"></div><div style="left:616px;width:1px;top:28px;height:89px;background:linear-gradient(#6a00ff 0.5px,#0300ff 7.5px,#0038ff 14.5px,#0080ff 19.5px,#00edff 24.5px,#00fffd 25.5px,#00ff8d 31.5px,#00ff25 40.5px,#00ff05 43.5px,#0fff00 45.5px,#7fff00 57.5px,#f9ff00 76.5px,#fffa00 79.5px,#ffda00 88.5px)"></div><div style="left:617px;width:1px;top:28px;height:89px;background:linear-gradient(#6a00ff 0.5px,#0100ff 7.5px,#003bff 14.5px,#0087ff 19.5px,#00f8ff 24.5px,#00fff2 25.5px,#00ff83 31.5px,#02ff00 43.5px,#7eff00 56.5px,#feff00 76.5px,#ffd600 88.5px)"></div><div style="left:618px;width:1px;top:28px;height:89px;background:linear-gradient(#6a00ff 0.5px,#0000ff 7.5px,#003dff 14.5px,#008bff 19.5px,#00ffff 24.5px,#00ff8d 30.5px,#00ff67 33.5px,#00ff05 42.5px,#0fff00 44.5px,#81ff00 56.5px,#fffe00 76.5px,#ffd500 88.5px)"></div><div style="left:619px;width:1px;top:28px;height:89px;background:linear-gradient(#6b00ff 0.5px,#0001ff 7.5px,#003eff 14.5px,#008dff 19.5px,#00fffd 24.5px,#00ff8a 30.5px,#00ff65 33.5px,#00ff03 42.5px,#66ff00 53.5px,#88ff00 57.5px,#fffd00 76.5px,#ffd500 88.5px)"></div><div style="left:620px;width:1px;top:28px;height:89px;background:linear-gradient(#6b00ff 0.5px,#0001ff 7.5px,#003fff 14.5px,#008eff 19.5px,#00ecff 23.5px,#00fffb 24.5px,#00ff89 30.5px,#00ff4f 35.5px,#00ff02 42.5px,#83ff00 56.5px,#fcff00 75.5px,#ffd400 88.5px)"></div><div style="left:621px;width:1px;top:28px;height:89px;background:linear-gradient(#6a00ff 0.5px,#0002ff 7.5px,#0034ff 13.5px,#0080ff 18.5px,#00a5ff 20.5px,#00eeff 23.5px,#00fff9 24.5px,#00ff87 30.5px,#00ff01 42.5px,#83ff00 56.5px,#fdff00 75.5px,#ffd400 88.5px)"></div><div style="left:622px;width:1px;top:28px;height:89px;background:linear-gradient(#6a00ff 0.5px,#0002ff 7.5px,#0035ff 13.5px,#0091ff 19.5px,#00efff 23.5px,#00fff8 24.5px,#00ff86 30.5px,#00ff01 42.5px,#84ff00 56.5px,#feff00 75.5px,#ffd400 88.5px)"></div><div style="left:623px;width:1px;top:28px;height:89px;background:linear-gradient(#6900ff 0.5px,#0b00ff 6.5px,#0003ff 7.5px,#0036ff 13.5px,#0092ff 19.5px,#00f0ff 23.5px,#00fff7 24.5px,#00ff85 30.5px,#00ff00 42.5px,#85ff00 56.5px,#feff00 75.5px,#ffd300 88.5px)"></div><div style="left:624px;width:1px;top:28px;height:89px;background:linear-gradient(#6900ff 0.5px,#0b00ff 6.5px,#0004ff 7.5px,#0036ff 13.5px,#0092ff 19.5px,#00f1ff 23.5px,#00fff7 24.5px,#00ff85 30.5px,#01ff00 42.5px,#85ff00 56.5px,#ffff00 75.5px,#ffd200 88.5px)"></div><div style="left:625px;width:1px;top:28px;height:89px;background:linear-gradient(#6800ff 0.5px,#0a00ff 6.5px,#0004ff 7.5px,#0037ff 13.5px,#0093ff 19.5px,#00f1ff 23.5px,#00fff6 24.5px,#00ff84 30.5px,#01ff00 42.5px,#86ff00 56.5px,#ffff00 75.5px,#ffd200 88.5px)"></div><div style="left:626px;width:1px;top:28px;height:89px;background:linear-gradient(#6800ff 0.5px,#0a00ff 6.5px,#0004ff 7.5px,#0037ff 13.5px,#0092ff 19.5px,#00f1ff 23.5px,#00fff6 24.5px,#00ff84 30.5px,#01ff00 42.5px,#86ff00 56.5px,#ffff00 75.5px,#ffd200 88.5px)"></div><div style="left:627px;width:1px;top:28px;height:89px;background:linear-gradient(#6800ff 0.5px,#0b00ff 6.5px,#0004ff 7.5px,#0036ff 13.5px,#0092ff 19.5px,#00f1ff 23.5px,#00fff7 24.5px,#00ff85 30.5px,#01ff00 42.5px,#85ff00 56.5px,#ffff00 75.5px,#ffd200 88.5px)"></div><div style="left:628px;width:1px;top:28px;height:89px;background:linear-gradient(#6900ff 0.5px,#0c00ff 6.5px,#0003ff 7.5px,#0035ff 13.5px,#0091ff 19.5px,#00f0ff 23.5px,#00fff8 24.5px,#00ff86 30.5px,#00ff00 42.5px,#85ff00 56.5px,#feff00 75.5px,#ffd300 88.5px)"></div><div style="left:629px;width:1px;top:28px;height:89px;background:linear-gradient(#6a00ff 0.5px,#0002ff 7.5px,#0034ff 13.5px,#0090ff 19.5px,#00efff 23.5px,#00fff9 24.5px,#00ff87 30.5px,#00ff01 42.5px,#84ff00 56.5px,#fdff00 75.5px,#ffd400 88.5px)"></div><div style="left:630px;width:1px;top:28px;height:89px;background:linear-gradient(#6b00ff 0.5px,#0002ff 7.5px,#0034ff 13.5px,#0090ff 19.5px,#00eeff 23.5px,#00fff9 24.5px,#00ff87 30.5px,#00ff01 42.5px,#83ff00 56.5px,#fdff00 75.5px,#ffd400 88.5px)"></div><div style="left:631px;width:1px;top:28px;height:89px;background:linear-gradient(#6a00ff 0.5px,#0002ff 7.5px,#0034ff 13.5px,#0090ff 19.5px,#00eeff 23.5px,#00fff9 24.5px,#00ff87 30.5px,#00ff01 42.5px,#83ff00 56.5px,#fdff00 75.5px,#ffd400 88.5px)"></div><div style="left:632px;width:1px;top:28px;height:89px;background:linear-gradient(#6a00ff 0.5px,#0002ff 7.5px,#0034ff 13.5px,#0080ff 18.5px,#00a5ff 20.5px,#00eeff 23.5px,#00fffa 24.5px,#00ff87 30.5px,#00ff0c 41.5px,#00ff01 42.5px,#83ff00 56.5px,#fdff00 75.5px,#ffd400 88.5px)"></div><div style="left:633px;width:1px;top:28px;height:89px;background:linear-gradient(#6b00ff 0.5px,#0001ff 7.5px,#003fff 14.5px,#008eff 19.5px,#00ecff 23.5px,#00fffb 24.5px,#00ff89 30.5px,#00ff4f 35.5px,#00ff03 42.5px,#82ff00 56.5px,#fcff00 75.5px,#ffd500 88.5px)"></div><div style="left:634px;width:1px;top:28px;height:89px;background:linear-gradient(#6d00ff 0.5px,#0100ff 7.5px,#003dff 14.5px,#008cff 19.5px,#00fffe 24.5px,#00ff8b 30.5px,#00ff5c 34.5px,#00ff05 42.5px,#0fff00 44.5px,#80ff00 56.5px,#ffff00 76.5px,#ffd700 88.5px)"></div><div style="left:635px;width:1px;top:28px;height:89px;background:linear-gradient(#6e00ff 0.5px,#0300ff 7.5px,#0030ff 13.5px,#005bff 16.5px,#008aff 19.5px,#00ffff 24.5px,#00ff8d 30.5px,#00ff5d 34.5px,#00ff06 42.5px,#04ff00 43.5px,#7fff00 56.5px,#fdff00 76.5px,#ffd800 88.5px)"></div><div style="left:636px;width:1px;top:28px;height:89px;background:linear-gradient(#6f00ff 0.5px,#0300ff 7.5px,#002fff 13.5px,#005bff 16.5px,#008aff 19.5px,#00ffff 24.5px,#00ff8d 30.5px,#00ff53 35.5px,#00ff06 42.5px,#04ff00 43.5px,#7fff00 56.5px,#fdff00 76.5px,#ffd800 88.5px)"></div><div style="left:637px;width:1px;top:28px;height:89px;background:linear-gradient(#6e00ff 0.5px,#0300ff 7.5px,#0030ff 13.5px,#006bff 17.5px,#008bff 19.5px,#00fffe 24.5px,#00ff8c 30.5px,#00ff47 36.5px,#00ff06 42.5px,#04ff00 43.5px,#7fff00 56.5px,#fdff00 76.5px,#ffd800 88.5px)"></div><div style="left:638px;width:1px;top:28px;height:89px;background:linear-gradient(#6f00ff 0.5px,#0300ff 7.5px,#0030ff 13.5px,#006bff 17.5px,#008bff 19.5px,#00fffe 24.5px,#00ff8c 30.5px,#00ff27 39.5px,#00ff06 42.5px,#0eff00 44.5px,#7fff00 56.5px,#fdff00 76.5px,#ffd800 88.5px)"></div><div style="left:639px;width:1px;top:28px;height:89px;background:linear-gradient(#6f00ff 0.5px,#0300ff 7.5px,#0030ff 13.5px,#007bff 18.5px,#00a1ff 20.5px,#00fffe 24.5px,#00ff8c 30.5px,#00ff06 42.5px,#0eff00 44.5px,#7fff00 56.5px,#fdff00 76.5px,#ffd800 88.5px)"></div><div style="left:640px;width:1px;top:28px;height:89px;background:linear-gradient(#6f00ff 0.5px,#0200ff 7.5px,#0030ff 13.5px,#008cff 19.5px,#00fffd 24.5px,#00ff8b 30.5px,#00ff05 42.5px,#0eff00 44.5px,#7fff00 56.5px,#fdff00 76.5px,#ffd800 88.5px)"></div><div style="left:641px;width:1px;top:28px;height:89px;background:linear-gradient(#6e00ff 0.5px,#0100ff 7.5px,#0031ff 13.5px,#008eff 19.5px,#00edff 23.5px,#00fffb 24.5px,#00ff89 30.5px,#00ff04 42.5px,#23ff00 46.5px,#80ff00 56.5px,#feff00 76.5px,#ffd800 88.5px)"></div><div style="left:642px;width:1px;top:28px;height:89px;background:linear-gradient(#6d00ff 0.5px,#0000ff 7.5px,#0033ff 13.5px,#0091ff 19.5px,#00f1ff 23.5px,#00fff8 24.5px,#00ff86 30.5px,#00ff02 42.5px,#82ff00 56.5px,#ffff00 76.5px,#ffd700 88.5px)"></div><div style="left:643px;width:1px;top:28px;height:89px;background:linear-gradient(#6c00ff 0.5px,#0001ff 7.5px,#0035ff 13.5px,#0094ff 19.5px,#00f4ff 23.5px,#00fff5 24.5px,#00ff84 30.5px,#00ff00 42.5px,#83ff00 56.5px,#fdff00 75.5px,#ffd600 88.5px)"></div><div style="left:644px;width:1px;top:28px;height:89px;background:linear-gradient(#6c00ff 0.5px,#0c00ff 6.5px,#0001ff 7.5px,#0035ff 13.5px,#0095ff 19.5px,#00f5ff 23.5px,#00fff4 24.5px,#00ff83 30.5px,#00ff00 42.5px,#84ff00 56.5px,#fdff00 75.5px,#ffd600 88.5px)"></div><div style="left:645px;width:1px;top:28px;height:89px;background:linear-gradient(#6d00ff 0.5px,#0001ff 7.5px,#0035ff 13.5px,#0094ff 19.5px,#00f4ff 23.5px,#00fff5 24.5px,#00ff84 30.5px,#00ff00 42.5px,#83ff00 56.5px,#fdff00 75.5px,#ffd600 88.5px)"></div><div style="left:646px;width:1px;top:28px;height:89px;background:linear-gradient(#6d00ff 0.5px,#0000ff 7.5px,#0033ff 13.5px,#0091ff 19.5px,#00f1ff 23.5px,#00fff8 24.5px,#00ff86 30.5px,#00ff02 42.5px,#82ff00 56.5px,#ffff00 76.5px,#ffd700 88.5px)"></div><div style="left:647px;width:1px;top:28px;height:89px;background:linear-gradient(#6e00ff 0.5px,#0200ff 7.5px,#0030ff 13.5px,#008cff 19.5px,#00fffd 24.5px,#00ff8b 30.5px,#00ff05 42.5px,#0eff00 44.5px,#80ff00 56.5px,#feff00 76.5px,#ffd800 88.5px)"></div><div style="left:648px;width:1px;top:28px;height:89px;background:linear-gradient(#6f00ff 0.5px,#0400ff 7.5px,#002fff 13.5px,#0049ff 15.5px,#0089ff 19.5px,#00fdff 24.5px,#00ff7f 31.5px,#00ff07 42.5px,#03ff00 43.5px,#7eff00 56.5px,#fdff00 76.5px,#ffd800 88.5px)"></div><div style="left:649px;width:1px;top:28px;height:89px;background:linear-gradient(#6d00ff 0.5px,#0300ff 7.5px,#0039ff 14.5px,#009cff 20.5px,#00fcff 24.5px,#00ff7f 31.5px,#00ff07 42.5px,#03ff00 43.5px,#7fff00 56.5px,#feff00 76.5px,#ffd700 88.5px)"></div><div style="left:650px;width:1px;top:28px;height:89px;background:linear-gradient(#6a00ff 0.5px,#0000ff 7.5px,#003cff 14.5px,#009fff 20.5px,#00ffff 24.5px,#00ff7c 31.5px,#00ff04 42.5px,#19ff00 45.5px,#82ff00 56.5px,#fffd00 76.5px,#ffd400 88.5px)"></div><div style="left:651px;width:1px;top:28px;height:89px;background:linear-gradient(#6700ff 0.5px,#0b00ff 6.5px,#0004ff 7.5px,#0041ff 14.5px,#0090ff 19.5px,#00edff 23.5px,#00fffa 24.5px,#00ff87 30.5px,#00ff6d 32.5px,#00ff00 42.5px,#85ff00 56.5px,#ffff00 75.5px,#ffd100 88.5px)"></div><div style="left:652px;width:1px;top:28px;height:89px;background:linear-gradient(#6600ff 0.5px,#0900ff 6.5px,#0006ff 7.5px,#0039ff 13.5px,#0095ff 19.5px,#00f3ff 23.5px,#00fff5 24.5px,#00ff83 30.5px,#00ff08 41.5px,#03ff00 42.5px,#88ff00 56.5px,#fffd00 75.5px,#ffd000 88.5px)"></div><div style="left:653px;width:1px;top:28px;height:89px;background:linear-gradient(#6700ff 0.5px,#0800ff 6.5px,#0006ff 7.5px,#0039ff 13.5px,#0097ff 19.5px,#00f7ff 23.5px,#00fff2 24.5px,#00ff80 30.5px,#00ff07 41.5px,#04ff00 42.5px,#88ff00 56.5px,#fffd00 75.5px,#ffd100 88.5px)"></div><div style="left:654px;width:1px;top:28px;height:89px;background:linear-gradient(#6900ff 0.5px,#0900ff 6.5px,#0005ff 7.5px,#0038ff 13.5px,#0098ff 19.5px,#00f9ff 23.5px,#00fff1 24.5px,#00ff7f 30.5px,#00ff07 41.5px,#04ff00 42.5px,#87ff00 56.5px,#fffe00 75.5px,#ffd300 88.5px)"></div><div style="left:655px;width:1px;top:28px;height:89px;background:linear-gradient(#6a00ff 0.5px,#0a00ff 6.5px,#0004ff 7.5px,#0038ff 13.5px,#0098ff 19.5px,#00f8ff 23.5px,#00fff1 24.5px,#00ff80 30.5px,#00ff07 41.5px,#03ff00 42.5px,#86ff00 56.5px,#ffff00 75.5px,#ffd400 88.5px)"></div><div style="left:656px;width:1px;top:28px;height:89px;background:linear-gradient(#6a00ff 0.5px,#0a00ff 6.5px,#0004ff 7.5px,#0038ff 13.5px,#0097ff 19.5px,#00f8ff 23.5px,#00fff2 24.5px,#00ff80 30.5px,#00ff08 41.5px,#03ff00 42.5px,#86ff00 56.5px,#fffe00 75.5px,#ffd300 88.5px)"></div><div style="left:657px;width:1px;top:28px;height:89px;background:linear-gradient(#6900ff 0.5px,#0900ff 6.5px,#0004ff 7.5px,#0038ff 13.5px,#0097ff 19.5px,#00f7ff 23.5px,#00fff2 24.5px,#00ff81 30.5px,#00ff08 41.5px,#03ff00 42.5px,#87ff00 56.5px,#fffe00 75.5px,#ffd300 88.5px)"></div><div style="left:658px;width:1px;top:28px;height:89px;background:linear-gradient(#6900ff 0.5px,#0900ff 6.5px,#0004ff 7.5px,#0038ff 13.5px,#0096ff 19.5px,#00f6ff 23.5px,#00fff3 24.5px,#00ff81 30.5px,#03ff00 42.5px,#87ff00 56.5px,#fffe00 75.5px,#ffd200 88.5px)"></div><div style="left:659px;width:1px;top:28px;height:89px;background:linear-gradient(#6900ff 0.5px,#0a00ff 6.5px,#0004ff 7.5px,#0038ff 13.5px,#0096ff 19.5px,#00f6ff 23.5px,#00fff3 24.5px,#00ff81 30.5px,#03ff00 42.5px,#87ff00 56.5px,#fffe00 75.5px,#ffd300 88.5px)"></div><div style="left:660px;width:1px;top:28px;height:89px;background:linear-gradient(#6800ff 0.5px,#0900ff 6.5px,#0005ff 7.5px,#0038ff 13.5px,#0097ff 19.5px,#00f6ff 23.5px,#00fff2 24.5px,#00ff81 30.5px,#00ff07 41.5px,#03ff00 42.5px,#87ff00 56.5px,#fffe00 75.5px,#ffd200 88.5px)"></div><div style="left:661px;width:1px;top:28px;height:89px;background:linear-gradient(#6700ff 0.5px,#0800ff 6.5px,#0006ff 7.5px,#0039ff 13.5px,#0097ff 19.5px,#00f7ff 23.5px,#00fff2 24.5px,#00ff80 30.5px,#00ff07 41.5px,#04ff00 42.5px,#88ff00 56.5px,#fffd00 75.5px,#ffd100 88.5px)"></div><div style="left:662px;width:1px;top:28px;height:89px;background:linear-gradient(#6700ff 0.5px,#0900ff 6.5px,#0005ff 7.5px,#0038ff 13.5px,#0096ff 19.5px,#00f5ff 23.5px,#00fff3 24.5px,#00ff82 30.5px,#00ff08 41.5px,#03ff00 42.5px,#87ff00 56.5px,#fffd00 75.5px,#ffd100 88.5px)"></div><div style="left:663px;width:1px;top:28px;height:89px;background:linear-gradient(#6900ff 0.5px,#0b00ff 6.5px,#0003ff 7.5px,#0036ff 13.5px,#0092ff 19.5px,#00f0ff 23.5px,#00fff7 24.5px,#00ff85 30.5px,#00ff00 42.5px,#85ff00 56.5px,#ffff00 75.5px,#ffd300 88.5px)"></div><div style="left:664px;width:1px;top:28px;height:89px;background:linear-gradient(#6b00ff 0.5px,#0001ff 7.5px,#003eff 14.5px,#008dff 19.5px,#00fffc 24.5px,#00ff8a 30.5px,#00ff65 33.5px,#00ff03 42.5px,#82ff00 56.5px,#fcff00 75.5px,#ffd500 88.5px)"></div><div style="left:665px;width:1px;top:28px;height:89px;background:linear-gradient(#6c00ff 0.5px,#0100ff 7.5px,#003bff 14.5px,#008aff 19.5px,#00cfff 22.5px,#00feff 24.5px,#00ff7d 31.5px,#00ff06 42.5px,#0eff00 44.5px,#80ff00 56.5px,#ffff00 76.5px,#ffd600 88.5px)"></div><div style="left:666px;width:1px;top:28px;height:89px;background:linear-gradient(#6c00ff 0.5px,#0200ff 7.5px,#003aff 14.5px,#009dff 20.5px,#00fdff 24.5px,#00ff7e 31.5px,#00ff06 42.5px,#04ff00 43.5px,#80ff00 56.5px,#ffff00 76.5px,#ffd600 88.5px)"></div><div style="left:667px;width:1px;top:28px;height:89px;background:linear-gradient(#6a00ff 0.5px,#0000ff 7.5px,#003cff 14.5px,#008bff 19.5px,#00b7ff 21.5px,#00ffff 24.5px,#00ff7c 31.5px,#00ff05 42.5px,#0fff00 44.5px,#81ff00 56.5px,#fffd00 76.5px,#ffd400 88.5px)"></div><div style="left:668px;width:1px;top:28px;height:89px;background:linear-gradient(#6900ff 0.5px,#0002ff 7.5px,#003fff 14.5px,#008eff 19.5px,#00d3ff 22.5px,#00fffc 24.5px,#00ff7a 31.5px,#00ff02 42.5px,#84ff00 56.5px,#fdff00 75.5px,#ffd200 88.5px)"></div><div style="left:669px;width:1px;top:28px;height:89px;background:linear-gradient(#6700ff 0.5px,#0b00ff 6.5px,#0004ff 7.5px,#0042ff 14.5px,#0091ff 19.5px,#00eeff 23.5px,#00fff9 24.5px,#00ff86 30.5px,#00ff62 33.5px,#00ff00 42.5px,#86ff00 56.5px,#ffff00 75.5px,#ffd100 88.5px)"></div><div style="left:670px;width:1px;top:28px;height:89px;background:linear-gradient(#6700ff 0.5px,#0a00ff 6.5px,#0005ff 7.5px,#0042ff 14.5px,#0092ff 19.5px,#00efff 23.5px,#00fff8 24.5px,#00ff85 30.5px,#00ff56 34.5px,#01ff00 42.5px,#86ff00 56.5px,#fffe00 75.5px,#ffd100 88.5px)"></div><div style="left:671px;width:1px;top:28px;height:89px;background:linear-gradient(#6800ff 0.5px,#0b00ff 6.5px,#0004ff 7.5px,#0041ff 14.5px,#0090ff 19.5px,#00eeff 23.5px,#00fff9 24.5px,#00ff87 30.5px,#00ff62 33.5px,#00ff00 42.5px,#85ff00 56.5px,#ffff00 75.5px,#ffd100 88.5px)"></div><div style="left:672px;width:1px;top:28px;height:89px;background:linear-gradient(#6900ff 0.5px,#0002ff 7.5px,#003fff 14.5px,#008eff 19.5px,#00d2ff 22.5px,#00fffc 24.5px,#00ff7a 31.5px,#00ff02 42.5px,#83ff00 56.5px,#fdff00 75.5px,#ffd300 88.5px)"></div><div style="left:673px;width:1px;top:28px;height:89px;background:linear-gradient(#6a00ff 0.5px,#0000ff 7.5px,#003cff 14.5px,#009eff 20.5px,#00ffff 24.5px,#00ff7c 31.5px,#00ff04 42.5px,#19ff00 45.5px,#82ff00 56.5px,#fffd00 76.5px,#ffd400 88.5px)"></div><div style="left:674px;width:1px;top:28px;height:89px;background:linear-gradient(#6a00ff 0.5px,#0000ff 7.5px,#003aff 14.5px,#009cff 20.5px,#00fdff 24.5px,#00ff7d 31.5px,#00ff05 42.5px,#0fff00 44.5px,#88ff00 57.5px,#fffd00 76.5px,#ffd400 88.5px)"></div><div style="left:675px;width:1px;top:28px;height:89px;background:linear-gradient(#6a00ff 0.5px,#0000ff 7.5px,#003aff 14.5px,#009bff 20.5px,#00fcff 24.5px,#00ff7d 31.5px,#00ff06 42.5px,#0eff00 44.5px,#88ff00 57.5px,#fffd00 76.5px,#ffd400 88.5px)"></div><div style="left:676px;width:1px;top:28px;height:89px;background:linear-gradient(#6a00ff 0.5px,#0100ff 7.5px,#003aff 14.5px,#009cff 20.5px,#00fcff 24.5px,#00ff7d 31.5px,#00ff06 42.5px,#0eff00 44.5px,#87ff00 57.5px,#fffe00 76.5px,#ffd400 88.5px)"></div><div style="left:677px;width:1px;top:28px;height:89px;background:linear-gradient(#6c00ff 0.5px,#0200ff 7.5px,#003aff 14.5px,#009cff 20.5px,#00fdff 24.5px,#00ff7e 31.5px,#00ff06 42.5px,#04ff00 43.5px,#80ff00 56.5px,#ffff00 76.5px,#ffd500 88.5px)"></div><div style="left:678px;width:1px;top:28px;height:89px;background:linear-gradient(#6d00ff 0.5px,#0300ff 7.5px,#0039ff 14.5px,#0088ff 19.5px,#00b4ff 21.5px,#00fcff 24.5px,#00ff7f 31.5px,#00ff07 42.5px,#03ff00 43.5px,#7fff00 56.5px,#feff00 76.5px,#ffd700 88.5px)"></div><div style="left:679px;width:1px;top:28px;height:89px;background:linear-gradient(#6e00ff 0.5px,#0400ff 7.5px,#001eff 11.5px,#0038ff 14.5px,#0088ff 19.5px,#00b4ff 21.5px,#00fbff 24.5px,#00ff90 30.5px,#00ff75 32.5px,#02ff00 43.5px,#7eff00 56.5px,#fdff00 76.5px,#ffd800 88.5px)"></div><div style="left:680px;width:1px;top:28px;height:89px;background:linear-gradient(#6f00ff 0.5px,#0500ff 7.5px,#000dff 9.5px,#0037ff 14.5px,#0099ff 20.5px,#00faff 24.5px,#00ffde 26.5px,#00ff81 31.5px,#01ff00 43.5px,#7dff00 56.5px,#fcff00 76.5px,#ffd800 88.5px)"></div><div style="left:681px;width:1px;top:28px;height:89px;background:linear-gradient(#6e00ff 0.5px,#0500ff 7.5px,#000cff 9.5px,#0036ff 14.5px,#0097ff 20.5px,#00f7ff 24.5px,#00fff3 25.5px,#00ff82 31.5px,#00ff00 43.5px,#83ff00 57.5px,#fcff00 76.5px,#ffd800 88.5px)"></div><div style="left:682px;width:1px;top:28px;height:89px;background:linear-gradient(#6c00ff 0.5px,#0400ff 7.5px,#0015ff 10.5px,#0035ff 14.5px,#0094ff 20.5px,#00f4ff 24.5px,#00fff5 25.5px,#00ff83 31.5px,#00ff00 43.5px,#84ff00 57.5px,#feff00 76.5px,#ffd600 88.5px)"></div><div style="left:683px;width:1px;top:28px;height:89px;background:linear-gradient(#6a00ff 0.5px,#0300ff 7.5px,#0036ff 14.5px,#0093ff 20.5px,#00f3ff 24.5px,#00fff6 25.5px,#00ff84 31.5px,#01ff00 43.5px,#85ff00 57.5px,#ffff00 76.5px,#ffd400 88.5px)"></div>
<div style="left:470px;width:1px;top:127px;height:88px;background:linear-gradient(#0cff00 0.5px,#00ff03 6.5px,#00ff17 14.5px,#00ff4e 22.5px,#00ffdf 29.5px,#00fffc 32.5px,#00c7ff 39.5px,#00b3ff 57.5px,#00b1ff 87.5px)"></div><div style="left:471px;width:1px;top:127px;height:88px;background:linear-gradient(#0cff00 0.5px,#00ff03 6.5px,#00ff16 13.5px,#00ff4b 21.5px,#00ffdb 28.5px,#00fffa 31.5px,#00f1ff 33.5px,#00c9ff 38.5px,#00b3ff 56.5px,#00aeff 87.5px)"></div><div style="left:472px;width:1px;top:127px;height:88px;background:linear-gradient(#08ff00 0.5px,#00ff03 4.5px,#00ff1d 13.5px,#00ff4d 20.5px,#00ff5c 21.5px,#00ffdd 27.5px,#00fff7 29.5px,#00fdff 30.5px,#00beff 37.5px,#00b5ff 42.5px,#00a4ff 55.5px,#009cff 87.5px)"></div><div style="left:473px;width:1px;top:127px;height:88px;background:linear-gradient(#04ff00 0.5px,#00ff1d 12.5px,#00ff57 20.5px,#00fff0 27.5px,#00fffc 28.5px,#00abff 37.5px,#0092ff 54.5px,#0087ff 87.5px)"></div><div style="left:474px;width:1px;top:127px;height:88px;background:linear-gradient(#02ff00 0.5px,#00ff1f 12.5px,#00ff5b 20.5px,#00fff7 27.5px,#00fdff 28.5px,#00a5ff 37.5px,#008bff 54.5px,#007dff 87.5px)"></div><div style="left:475px;width:1px;top:127px;height:88px;background:linear-gradient(#03ff00 0.5px,#00ff1e 12.5px,#00ff58 20.5px,#00fff2 27.5px,#00fffd 28.5px,#00aaff 37.5px,#008fff 55.5px,#007dff 87.5px)"></div><div style="left:476px;width:1px;top:127px;height:88px;background:linear-gradient(#02ff00 0.5px,#00ff1f 12.5px,#00ff56 20.5px,#00ffe7 27.5px,#00fffd 29.5px,#00b6ff 37.5px,#0097ff 56.5px,#007fff 87.5px)"></div><div style="left:477px;width:1px;top:127px;height:88px;background:linear-gradient(#00ff0c 0.5px,#00ff33 13.5px,#00ff5d 20.5px,#00ffd7 27.5px,#00fffc 31.5px,#00d1ff 37.5px,#00a6ff 57.5px,#0081ff 87.5px)"></div><div style="left:478px;width:1px;top:127px;height:88px;background:linear-gradient(#00ff26 0.5px,#00ff50 14.5px,#00ff6b 20.5px,#00ffbd 27.5px,#00fdff 37.5px,#00e0ff 46.5px,#00bcff 59.5px,#0088ff 87.5px)"></div><div style="left:479px;width:1px;top:127px;height:88px;background:linear-gradient(#00ff3d 0.5px,#00ff79 20.5px,#00ffc2 32.5px,#00fffe 44.5px,#00eaff 51.5px,#00d0ff 59.5px,#0091ff 87.5px)"></div><div style="left:480px;width:1px;top:127px;height:88px;background:linear-gradient(#00ff46 0.5px,#00ff83 21.5px,#00fffe 44.5px,#00deff 54.5px,#00c3ff 65.5px,#0094ff 87.5px)"></div><div style="left:481px;width:1px;top:127px;height:88px;background:linear-gradient(#00ff4a 0.5px,#00ff83 20.5px,#00fdff 43.5px,#00c9ff 59.5px,#0096ff 87.5px)"></div><div style="left:482px;width:1px;top:127px;height:88px;background:linear-gradient(#00ff51 0.5px,#00ff88 20.5px,#00fcff 43.5px,#00ccff 59.5px,#00a1ff 87.5px)"></div><div style="left:483px;width:1px;top:127px;height:88px;background:linear-gradient(#00ff59 0.5px,#00ff91 21.5px,#00fffd 44.5px,#00d3ff 62.5px,#00bbff 79.5px,#00b3ff 87.5px)"></div><div style="left:484px;width:1px;top:127px;height:88px;background:linear-gradient(#00ff60 0.5px,#00ff98 22.5px,#00fff5 45.5px,#00fcff 50.5px,#00d3ff 69.5px,#00c5ff 87.5px)"></div><div style="left:485px;width:1px;top:127px;height:88px;background:linear-gradient(#00ff60 0.5px,#00ff98 23.5px,#00ffee 46.5px,#00fdff 54.5px,#00dcff 71.5px,#00d0ff 87.5px)"></div><div style="left:486px;width:1px;top:127px;height:88px;background:linear-gradient(#00ff5f 0.5px,#00ff96 24.5px,#00ffea 48.5px,#00fdff 57.5px,#00e1ff 73.5px,#00d6ff 87.5px)"></div><div style="left:487px;width:1px;top:127px;height:88px;background:linear-gradient(#00ff5f 0.5px,#00ff93 24.5px,#00ffeb 49.5px,#00fdff 58.5px,#00e3ff 73.5px,#00d8ff 87.5px)"></div><div style="left:488px;width:1px;top:127px;height:88px;background:linear-gradient(#00ff61 0.5px,#00ff95 23.5px,#00ffee 47.5px,#00fdff 55.5px,#00deff 72.5px,#00d5ff 87.5px)"></div><div style="left:489px;width:1px;top:127px;height:88px;background:linear-gradient(#00ff63 0.5px,#00ff99 22.5px,#00fff4 45.5px,#00fcff 51.5px,#00d8ff 71.5px,#00d0ff 87.5px)"></div><div style="left:490px;width:1px;top:127px;height:88px;background:linear-gradient(#00ff64 0.5px,#00ff9d 22.5px,#00fff7 44.5px,#00fcff 48.5px,#00d4ff 69.5px,#00cbff 87.5px)"></div><div style="left:491px;width:1px;top:127px;height:88px;background:linear-gradient(#00ff64 0.5px,#00ff9e 22.5px,#00fff8 44.5px,#00f9ff 49.5px,#00d1ff 70.5px,#00c7ff 87.5px)"></div><div style="left:492px;width:1px;top:127px;height:88px;background:linear-gradient(#00ff63 0.5px,#00ff9d 22.5px,#00fff6 44.5px,#00fcff 49.5px,#00d3ff 69.5px,#00c7ff 87.5px)"></div><div style="left:493px;width:1px;top:127px;height:88px;background:linear-gradient(#00ff61 0.5px,#00ff9b 22.5px,#00ffee 44.5px,#00fdff 52.5px,#00dcff 70.5px,#00d1ff 87.5px)"></div><div style="left:494px;width:1px;top:127px;height:88px;background:linear-gradient(#00ff5e 0.5px,#00ff99 22.5px,#00ffe6 45.5px,#00fdff 58.5px,#00ebff 70.5px,#00e2ff 87.5px)"></div><div style="left:495px;width:1px;top:127px;height:88px;background:linear-gradient(#00ff5d 0.5px,#00ff98 22.5px,#00ffe0 44.5px,#00fdff 66.5px,#00f4ff 87.5px)"></div><div style="left:496px;width:1px;top:127px;height:88px;background:linear-gradient(#00ff62 0.5px,#00ff98 21.5px,#00ffee 44.5px,#00fdff 64.5px,#00f5ff 87.5px)"></div><div style="left:497px;width:1px;top:127px;height:88px;background:linear-gradient(#00ff67 0.5px,#00ff99 20.5px,#00fffe 43.5px,#00e1ff 67.5px,#00daff 87.5px)"></div><div style="left:498px;width:1px;top:127px;height:88px;background:linear-gradient(#00ff6b 0.5px,#00ff9c 20.5px,#00fffe 41.5px,#00e2ff 50.5px,#00bfff 68.5px,#00b5ff 87.5px)"></div><div style="left:499px;width:1px;top:127px;height:88px;background:linear-gradient(#00ff6c 0.5px,#00ff9c 20.5px,#00feff 41.5px,#00d9ff 51.5px,#00b0ff 67.5px,#00a2ff 79.5px,#009cff 87.5px)"></div><div style="left:500px;width:1px;top:127px;height:88px;background:linear-gradient(#00ff6c 0.5px,#00ff99 19.5px,#00feff 41.5px,#00d1ff 53.5px,#00a3ff 70.5px,#0090ff 87.5px)"></div><div style="left:501px;width:1px;top:127px;height:88px;background:linear-gradient(#00ff6b 0.5px,#00ff9c 20.5px,#00fffd 41.5px,#00beff 60.5px,#00a3ff 73.5px,#0094ff 87.5px)"></div><div style="left:502px;width:1px;top:127px;height:88px;background:linear-gradient(#00ff69 0.5px,#00ff9c 20.5px,#00fffe 42.5px,#00c0ff 62.5px,#00acff 72.5px,#009fff 87.5px)"></div><div style="left:503px;width:1px;top:127px;height:88px;background:linear-gradient(#00ff68 0.5px,#00ff9c 20.5px,#00feff 43.5px,#00c3ff 62.5px,#00b0ff 72.5px,#00a3ff 87.5px)"></div><div style="left:504px;width:1px;top:127px;height:88px;background:linear-gradient(#00ff69 0.5px,#00ff9c 20.5px,#00fcff 43.5px,#00beff 62.5px,#00a9ff 72.5px,#0098ff 87.5px)"></div><div style="left:505px;width:1px;top:127px;height:88px;background:linear-gradient(#00ff69 0.5px,#00ff9a 20.5px,#00fdff 43.5px,#00b9ff 63.5px,#00a1ff 73.5px,#008fff 87.5px)"></div><div style="left:506px;width:1px;top:127px;height:88px;background:linear-gradient(#00ff67 0.5px,#00ff98 21.5px,#00fdff 46.5px,#00c3ff 65.5px,#00b0ff 75.5px,#00a1ff 87.5px)"></div><div style="left:507px;width:1px;top:127px;height:88px;background:linear-gradient(#00ff62 0.5px,#00ff94 23.5px,#00fff0 48.5px,#00fbff 57.5px,#00e1ff 75.5px,#00d8ff 87.5px)"></div><div style="left:508px;width:1px;top:127px;height:88px;background:linear-gradient(#00ff58 0.5px,#00ff8b 24.5px,#00ffd5 45.5px,#00ffe6 59.5px,#00fff3 83.5px,#00fff4 87.5px)"></div><div style="left:509px;width:1px;top:127px;height:88px;background:linear-gradient(#00ff49 0.5px,#00ff81 24.5px,#00ffcb 44.5px,#00ffe0 51.5px,#00ffff 70.5px,#00fcff 83.5px,#00fdff 87.5px)"></div><div style="left:510px;width:1px;top:127px;height:88px;background:linear-gradient(#00ff40 0.5px,#00ff7d 23.5px,#00ffd1 44.5px,#00fff0 52.5px,#00fcff 58.5px,#00dcff 74.5px,#00deff 87.5px)"></div><div style="left:511px;width:1px;top:127px;height:88px;background:linear-gradient(#00ff40 0.5px,#00ff7e 22.5px,#00ffe2 45.5px,#00fffd 52.5px,#00d4ff 68.5px,#00caff 74.5px,#00cbff 87.5px)"></div><div style="left:512px;width:1px;top:127px;height:88px;background:linear-gradient(#00ff42 0.5px,#00ff80 21.5px,#00feff 49.5px,#00d2ff 64.5px,#00c0ff 73.5px,#00c2ff 87.5px)"></div><div style="left:513px;width:1px;top:127px;height:88px;background:linear-gradient(#00ff45 0.5px,#00ff85 21.5px,#00fffe 46.5px,#00ccff 63.5px,#00b9ff 73.5px,#00bdff 87.5px)"></div><div style="left:514px;width:1px;top:127px;height:88px;background:linear-gradient(#00ff46 0.5px,#00ff85 21.5px,#00fdff 46.5px,#00ceff 61.5px,#00b9ff 73.5px,#00bfff 87.5px)"></div><div style="left:515px;width:1px;top:127px;height:88px;background:linear-gradient(#00ff46 0.5px,#00ff81 21.5px,#00fdff 47.5px,#00d1ff 63.5px,#00c0ff 74.5px,#00c8ff 87.5px)"></div><div style="left:516px;width:1px;top:127px;height:88px;background:linear-gradient(#00ff44 0.5px,#00ff7f 22.5px,#00fffd 49.5px,#00d8ff 66.5px,#00cdff 75.5px,#00d7ff 87.5px)"></div><div style="left:517px;width:1px;top:127px;height:88px;background:linear-gradient(#00ff3e 0.5px,#00ff7c 24.5px,#00ffd3 45.5px,#00ffee 52.5px,#00fcff 60.5px,#00e4ff 75.5px,#00eeff 87.5px)"></div><div style="left:518px;width:1px;top:127px;height:88px;background:linear-gradient(#00ff37 0.5px,#00ff66 20.5px,#00ffa9 42.5px,#00ffcf 51.5px,#00fff3 66.5px,#00ffff 75.5px,#00fff7 87.5px)"></div><div style="left:519px;width:1px;top:127px;height:88px;background:linear-gradient(#00ff34 0.5px,#00ff5f 18.5px,#00ff70 26.5px,#00ffa2 43.5px,#00ffc4 51.5px,#00ffe8 66.5px,#00fff3 75.5px,#00ffec 87.5px)"></div><div style="left:520px;width:1px;top:127px;height:88px;background:linear-gradient(#00ff39 0.5px,#00ff77 25.5px,#00ffbc 44.5px,#00ffd9 51.5px,#00fff8 66.5px,#00ffff 76.5px,#00fff9 87.5px)"></div><div style="left:521px;width:1px;top:127px;height:88px;background:linear-gradient(#00ff3c 0.5px,#00ff77 22.5px,#00fff7 50.5px,#00fbff 57.5px,#00efff 66.5px,#00f2ff 82.5px,#00f4ff 87.5px)"></div><div style="left:522px;width:1px;top:127px;height:88px;background:linear-gradient(#00ff32 0.5px,#00ff59 15.5px,#00ff8a 25.5px,#00fff9 43.5px,#00f7ff 46.5px,#00e4ff 51.5px,#00d3ff 66.5px,#00d5ff 87.5px)"></div><div style="left:523px;width:1px;top:127px;height:88px;background:linear-gradient(#00ff1d 0.5px,#00ff3f 14.5px,#00ff88 25.5px,#00ffff 39.5px,#00e4ff 43.5px,#00c4ff 51.5px,#00b1ff 68.5px,#00a9ff 87.5px)"></div><div style="left:524px;width:1px;top:127px;height:88px;background:linear-gradient(#00ff0e 0.5px,#00ff30 14.5px,#00ff85 25.5px,#00fffe 37.5px,#00d6ff 42.5px,#00b3ff 51.5px,#0098ff 74.5px,#008cff 87.5px)"></div><div style="left:525px;width:1px;top:127px;height:88px;background:linear-gradient(#00ff0a 0.5px,#00ff2d 14.5px,#00ff83 25.5px,#00fffe 37.5px,#00d7ff 42.5px,#00b3ff 51.5px,#0086ff 84.5px,#0083ff 87.5px)"></div><div style="left:526px;width:1px;top:127px;height:88px;background:linear-gradient(#00ff08 0.5px,#00ff2c 14.5px,#00ff82 25.5px,#00fffa 37.5px,#00f3ff 39.5px,#00d7ff 43.5px,#00b8ff 51.5px,#0083ff 84.5px,#007fff 87.5px)"></div><div style="left:527px;width:1px;top:127px;height:88px;background:linear-gradient(#00ff07 0.5px,#00ff2d 14.5px,#00ff79 24.5px,#00fff9 37.5px,#00fdff 38.5px,#00dfff 42.5px,#00bcff 51.5px,#0087ff 82.5px,#007fff 87.5px)"></div><div style="left:528px;width:1px;top:127px;height:88px;background:linear-gradient(#00ff06 0.5px,#00ff29 13.5px,#00ff7c 24.5px,#00fffb 37.5px,#00ebff 40.5px,#00bfff 50.5px,#0093ff 78.5px,#0087ff 87.5px)"></div><div style="left:529px;width:1px;top:127px;height:88px;background:linear-gradient(#00ff06 0.5px,#00ff26 12.5px,#00ff77 23.5px,#00fffe 37.5px,#00e2ff 41.5px,#00c2ff 49.5px,#009cff 76.5px,#008fff 87.5px)"></div><div style="left:530px;width:1px;top:127px;height:88px;background:linear-gradient(#00ff06 0.5px,#00ff27 12.5px,#00ff7a 23.5px,#00fff9 36.5px,#00fdff 37.5px,#00e0ff 41.5px,#00c1ff 49.5px,#009fff 75.5px,#0092ff 87.5px)"></div><div style="left:531px;width:1px;top:127px;height:88px;background:linear-gradient(#00ff06 0.5px,#00ff28 12.5px,#00ff7d 23.5px,#00fffb 36.5px,#00deff 41.5px,#00bfff 49.5px,#009dff 75.5px,#0090ff 87.5px)"></div><div style="left:532px;width:1px;top:127px;height:88px;background:linear-gradient(#00ff07 0.5px,#00ff29 12.5px,#00ff7e 23.5px,#00fffe 36.5px,#00dcff 41.5px,#00bdff 49.5px,#0098ff 75.5px,#008cff 87.5px)"></div><div style="left:533px;width:1px;top:127px;height:88px;background:linear-gradient(#00ff08 0.5px,#00ff2a 12.5px,#00ff7f 23.5px,#00fff8 35.5px,#00fdff 36.5px,#00dcff 40.5px,#00b8ff 49.5px,#0090ff 75.5px,#0082ff 87.5px)"></div><div style="left:534px;width:1px;top:127px;height:88px;background:linear-gradient(#00ff09 0.5px,#00ff2a 12.5px,#00ff80 23.5px,#00fffb 35.5px,#00eaff 38.5px,#00d4ff 41.5px,#00b3ff 49.5px,#0087ff 75.5px,#0076ff 87.5px)"></div><div style="left:535px;width:1px;top:127px;height:88px;background:linear-gradient(#00ff0a 0.5px,#00ff2b 12.5px,#00ff81 23.5px,#00fffd 35.5px,#00d0ff 41.5px,#00afff 49.5px,#0082ff 75.5px,#0071ff 87.5px)"></div><div style="left:536px;width:1px;top:127px;height:88px;background:linear-gradient(#00ff0b 0.5px,#00ff2c 12.5px,#00ff82 23.5px,#00ffff 35.5px,#00d3ff 40.5px,#00aeff 49.5px,#0086ff 75.5px,#0078ff 87.5px)"></div><div style="left:537px;width:1px;top:127px;height:88px;background:linear-gradient(#00ff0b 0.5px,#00ff2c 12.5px,#00ff84 23.5px,#00fdff 35.5px,#00d2ff 40.5px,#00aeff 49.5px,#008dff 75.5px,#0082ff 87.5px)"></div><div style="left:538px;width:1px;top:127px;height:88px;background:linear-gradient(#00ff0a 0.5px,#00ff2d 12.5px,#00ff85 23.5px,#00feff 35.5px,#00d4ff 40.5px,#00b2ff 48.5px,#0092ff 75.5px,#0087ff 87.5px)"></div><div style="left:539px;width:1px;top:127px;height:88px;background:linear-gradient(#00ff08 0.5px,#00ff2e 12.5px,#00ff7c 22.5px,#00fffe 35.5px,#00d9ff 40.5px,#00b9ff 48.5px,#0095ff 74.5px,#0089ff 87.5px)"></div><div style="left:540px;width:1px;top:127px;height:88px;background:linear-gradient(#00ff07 0.5px,#00ff2c 12.5px,#00ff79 22.5px,#00fff8 35.5px,#00fdff 36.5px,#00e0ff 40.5px,#00c2ff 48.5px,#009bff 74.5px,#008eff 87.5px)"></div><div style="left:541px;width:1px;top:127px;height:88px;background:linear-gradient(#00ff06 0.5px,#00ff26 12.5px,#00ff63 21.5px,#00ffd7 33.5px,#00fffd 37.5px,#00e5ff 42.5px,#00cdff 50.5px,#00aaff 74.5px,#00a7ff 87.5px)"></div><div style="left:542px;width:1px;top:127px;height:88px;background:linear-gradient(#00ff07 0.5px,#00ff28 14.5px,#00ff3f 19.5px,#00ffaa 31.5px,#00fff6 38.5px,#00fcff 40.5px,#00e1ff 52.5px,#00c3ff 74.5px,#00d1ff 87.5px)"></div><div style="left:543px;width:1px;top:127px;height:88px;background:linear-gradient(#00ff08 0.5px,#00ff2b 17.5px,#00ff3a 20.5px,#00ffb0 33.5px,#00fff5 39.5px,#00fcff 44.5px,#00cfff 74.5px,#00e9ff 87.5px)"></div><div style="left:544px;width:1px;top:127px;height:88px;background:linear-gradient(#00ff0a 0.5px,#00ff2b 15.5px,#00ff44 20.5px,#00ffb8 33.5px,#00fff8 39.5px,#00faff 42.5px,#00d7ff 55.5px,#00bbff 75.5px,#00c8ff 87.5px)"></div><div style="left:545px;width:1px;top:127px;height:88px;background:linear-gradient(#00ff0b 0.5px,#00ff2e 14.5px,#00ff5b 21.5px,#00ffb2 31.5px,#00fffd 39.5px,#00d7ff 47.5px,#00bdff 55.5px,#009eff 75.5px,#0099ff 87.5px)"></div><div style="left:546px;width:1px;top:127px;height:88px;background:linear-gradient(#00ff0b 0.5px,#00ff2b 13.5px,#00ff80 25.5px,#00fffb 39.5px,#00e1ff 44.5px,#00b7ff 54.5px,#0096ff 74.5px,#0087ff 87.5px)"></div><div style="left:547px;width:1px;top:127px;height:88px;background:linear-gradient(#00ff08 0.5px,#00ff29 13.5px,#00ff83 26.5px,#00ffff 41.5px,#00dcff 47.5px,#00c0ff 54.5px,#00a1ff 74.5px,#0092ff 87.5px)"></div><div style="left:548px;width:1px;top:127px;height:88px;background:linear-gradient(#00ff05 0.5px,#00ff2c 14.5px,#00ff7e 26.5px,#00fff5 41.5px,#00fcff 43.5px,#00e2ff 48.5px,#00caff 55.5px,#00aeff 75.5px,#00a1ff 87.5px)"></div><div style="left:549px;width:1px;top:127px;height:88px;background:linear-gradient(#00ff05 0.5px,#00ff28 13.5px,#00ff78 25.5px,#00ffef 40.5px,#00fcff 43.5px,#00dbff 50.5px,#00ccff 55.5px,#00b2ff 75.5px,#00a7ff 87.5px)"></div><div style="left:550px;width:1px;top:127px;height:88px;background:linear-gradient(#00ff05 0.5px,#00ff26 12.5px,#00ff7f 25.5px,#00fff4 40.5px,#00fdff 42.5px,#00dfff 48.5px,#00cbff 54.5px,#00b2ff 74.5px,#00a7ff 87.5px)"></div><div style="left:551px;width:1px;top:127px;height:88px;background:linear-gradient(#00ff06 0.5px,#00ff28 12.5px,#00ff82 25.5px,#00fff2 39.5px,#00ffff 41.5px,#00dfff 47.5px,#00caff 53.5px,#00afff 73.5px,#00a2ff 87.5px)"></div><div style="left:552px;width:1px;top:127px;height:88px;background:linear-gradient(#00ff07 0.5px,#00ff2c 13.5px,#00ff7f 25.5px,#00fff8 40.5px,#00ffff 41.5px,#00ddff 47.5px,#00c4ff 54.5px,#00a5ff 74.5px,#0097ff 87.5px)"></div><div style="left:553px;width:1px;top:127px;height:88px;background:linear-gradient(#00ff08 0.5px,#00ff29 13.5px,#00ff83 26.5px,#00fffe 41.5px,#00dcff 47.5px,#00bdff 55.5px,#009aff 76.5px,#008aff 87.5px)"></div><div style="left:554px;width:1px;top:127px;height:88px;background:linear-gradient(#00ff08 0.5px,#00ff2e 14.5px,#00ff83 26.5px,#00ffff 41.5px,#00dbff 47.5px,#00baff 55.5px,#0093ff 76.5px,#0082ff 87.5px)"></div><div style="left:555px;width:1px;top:127px;height:88px;background:linear-gradient(#00ff08 0.5px,#00ff2a 13.5px,#00ff7e 25.5px,#00fffc 40.5px,#00d4ff 48.5px,#00baff 54.5px,#0093ff 74.5px,#007dff 87.5px)"></div><div style="left:556px;width:1px;top:127px;height:88px;background:linear-gradient(#00ff08 0.5px,#00ff2c 13.5px,#00ff82 25.5px,#00feff 40.5px,#00daff 46.5px,#00b9ff 54.5px,#0091ff 74.5px,#007bff 87.5px)"></div><div style="left:557px;width:1px;top:127px;height:88px;background:linear-gradient(#00ff08 0.5px,#00ff2c 13.5px,#00ff85 25.5px,#00feff 39.5px,#00d5ff 46.5px,#00b7ff 54.5px,#008dff 76.5px,#007bff 87.5px)"></div><div style="left:558px;width:1px;top:127px;height:88px;background:linear-gradient(#00ff08 0.5px,#00ff2a 13.5px,#00ff8a 25.5px,#00fffa 37.5px,#00f2ff 39.5px,#00c4ff 48.5px,#00a2ff 62.5px,#007bff 87.5px)"></div><div style="left:559px;width:1px;top:127px;height:88px;background:linear-gradient(#00ff07 0.5px,#00ff2a 13.5px,#00ff86 24.5px,#00fffd 36.5px,#00ddff 40.5px,#00b8ff 49.5px,#008fff 72.5px,#0079ff 87.5px)"></div><div style="left:560px;width:1px;top:127px;height:88px;background:linear-gradient(#00ff08 0.5px,#00ff2e 13.5px,#00ff8d 24.5px,#00fffd 35.5px,#00d5ff 40.5px,#00b2ff 49.5px,#0089ff 74.5px,#0078ff 87.5px)"></div><div style="left:561px;width:1px;top:127px;height:88px;background:linear-gradient(#00ff09 0.5px,#00ff2a 12.5px,#00ff89 23.5px,#00fffa 34.5px,#00f0ff 36.5px,#00d4ff 39.5px,#00aeff 48.5px,#0088ff 73.5px,#0077ff 87.5px)"></div><div style="left:562px;width:1px;top:127px;height:88px;background:linear-gradient(#00ff0a 0.5px,#00ff2b 12.5px,#00ff8c 23.5px,#00fffe 34.5px,#00d0ff 39.5px,#00aaff 48.5px,#0084ff 73.5px,#0073ff 87.5px)"></div><div style="left:563px;width:1px;top:127px;height:88px;background:linear-gradient(#00ff0b 0.5px,#00ff2b 12.5px,#00ff8a 23.5px,#00fffe 34.5px,#00c9ff 40.5px,#00a8ff 48.5px,#007eff 73.5px,#006cff 87.5px)"></div><div style="left:564px;width:1px;top:127px;height:88px;background:linear-gradient(#00ff0b 0.5px,#00ff30 13.5px,#00ff88 23.5px,#00fffc 34.5px,#00caff 40.5px,#00a5ff 49.5px,#0078ff 75.5px,#0066ff 87.5px)"></div><div style="left:565px;width:1px;top:127px;height:88px;background:linear-gradient(#00ff0a 0.5px,#00ff2e 13.5px,#00ff8f 24.5px,#00fdff 35.5px,#00ceff 40.5px,#00aaff 49.5px,#007bff 75.5px,#0068ff 87.5px)"></div><div style="left:566px;width:1px;top:127px;height:88px;background:linear-gradient(#00ff09 0.5px,#00ff2d 13.5px,#00ff8c 24.5px,#00fffc 35.5px,#00d4ff 40.5px,#00b0ff 49.5px,#0081ff 75.5px,#006eff 87.5px)"></div><div style="left:567px;width:1px;top:127px;height:88px;background:linear-gradient(#00ff08 0.5px,#00ff2d 13.5px,#00ff8c 24.5px,#00fffb 35.5px,#00e7ff 38.5px,#00d2ff 41.5px,#00b3ff 49.5px,#0084ff 75.5px,#0072ff 87.5px)"></div><div style="left:568px;width:1px;top:127px;height:88px;background:linear-gradient(#00ff09 0.5px,#00ff2e 13.5px,#00ff8f 24.5px,#00feff 35.5px,#00d1ff 40.5px,#00aeff 49.5px,#0081ff 75.5px,#0070ff 87.5px)"></div><div style="left:569px;width:1px;top:127px;height:88px;background:linear-gradient(#00ff0b 0.5px,#00ff30 13.5px,#00ff87 23.5px,#00fffa 34.5px,#00f0ff 36.5px,#00cdff 40.5px,#00abff 48.5px,#007fff 75.5px,#006fff 87.5px)"></div><div style="left:570px;width:1px;top:127px;height:88px;background:linear-gradient(#00ff0b 0.5px,#00ff2e 13.5px,#00ff63 20.5px,#00ffde 32.5px,#00fffe 35.5px,#00d5ff 40.5px,#00b6ff 47.5px,#0087ff 76.5px,#0078ff 87.5px)"></div><div style="left:571px;width:1px;top:127px;height:88px;background:linear-gradient(#00ff09 0.5px,#00ff27 13.5px,#00ff41 18.5px,#00ffb6 30.5px,#00fff7 36.5px,#00ffff 37.5px,#00d8ff 43.5px,#00c9ff 47.5px,#008bff 87.5px)"></div><div style="left:572px;width:1px;top:127px;height:88px;background:linear-gradient(#00ff07 0.5px,#00ff29 15.5px,#00ff35 18.5px,#00ffa8 30.5px,#00ffea 36.5px,#00ffff 39.5px,#00dcff 45.5px,#0098ff 87.5px)"></div><div style="left:573px;width:1px;top:127px;height:88px;background:linear-gradient(#00ff05 0.5px,#00ff28 14.5px,#00ff3a 18.5px,#00ffbe 31.5px,#00fff4 36.5px,#00fcff 38.5px,#00d5ff 45.5px,#008fff 87.5px)"></div><div style="left:574px;width:1px;top:127px;height:88px;background:linear-gradient(#00ff03 0.5px,#00ff29 13.5px,#00ff55 19.5px,#00fff7 34.5px,#00fdff 35.5px,#00dfff 39.5px,#00bfff 46.5px,#0076ff 87.5px)"></div><div style="left:575px;width:1px;top:127px;height:88px;background:linear-gradient(#00ff01 0.5px,#00ff2d 13.5px,#00ff76 21.5px,#00fff7 32.5px,#00feff 33.5px,#00d1ff 38.5px,#00aaff 48.5px,#0060ff 87.5px)"></div><div style="left:576px;width:1px;top:127px;height:88px;background:linear-gradient(#01ff00 0.5px,#00ff2b 13.5px,#00ff80 22.5px,#00feff 33.5px,#00ccff 39.5px,#00a8ff 49.5px,#005cff 87.5px)"></div><div style="left:577px;width:1px;top:127px;height:88px;background:linear-gradient(#02ff00 0.5px,#00ff2e 14.5px,#00ff86 23.5px,#00fff9 33.5px,#00f3ff 35.5px,#00d2ff 39.5px,#00aeff 49.5px,#005fff 87.5px)"></div><div style="left:578px;width:1px;top:127px;height:88px;background:linear-gradient(#03ff00 0.5px,#00ff2e 14.5px,#00ff85 23.5px,#00fff7 33.5px,#00feff 34.5px,#00d5ff 39.5px,#00b1ff 49.5px,#0064ff 87.5px)"></div><div style="left:579px;width:1px;top:127px;height:88px;background:linear-gradient(#03ff00 0.5px,#00ff2a 13.5px,#00ff7e 22.5px,#00fffa 33.5px,#00f2ff 35.5px,#00d4ff 39.5px,#00b1ff 49.5px,#006bff 87.5px)"></div><div style="left:580px;width:1px;top:127px;height:88px;background:linear-gradient(#03ff00 0.5px,#00ff1c 9.5px,#00ff2d 13.5px,#00ff84 22.5px,#00fff5 32.5px,#00fffe 33.5px,#00d7ff 38.5px,#00b4ff 48.5px,#0071ff 87.5px)"></div><div style="left:581px;width:1px;top:127px;height:88px;background:linear-gradient(#05ff00 0.5px,#00ff0d 5.5px,#00ff26 12.5px,#00ff7a 21.5px,#00fff4 32.5px,#00f9ff 34.5px,#00dbff 38.5px,#00b9ff 48.5px,#0077ff 87.5px)"></div><div style="left:582px;width:1px;top:127px;height:88px;background:linear-gradient(#07ff00 0.5px,#00ff04 3.5px,#00ff25 12.5px,#00ff85 22.5px,#00fff1 32.5px,#00fdff 34.5px,#00e5ff 37.5px,#00c0ff 48.5px,#007bff 87.5px)"></div><div style="left:583px;width:1px;top:127px;height:88px;background:linear-gradient(#07ff00 0.5px,#00ff04 3.5px,#00ff25 12.5px,#00ff85 22.5px,#00fff0 32.5px,#00fdff 34.5px,#00e6ff 37.5px,#00c2ff 48.5px,#007aff 87.5px)"></div><div style="left:584px;width:1px;top:127px;height:88px;background:linear-gradient(#05ff00 0.5px,#00ff0a 4.5px,#00ff27 12.5px,#00ff7c 21.5px,#00fff5 32.5px,#00fffe 33.5px,#00dfff 37.5px,#00baff 48.5px,#006eff 87.5px)"></div><div style="left:585px;width:1px;top:127px;height:88px;background:linear-gradient(#02ff00 0.5px,#00ff29 12.5px,#00ff7d 21.5px,#00fffb 32.5px,#00e0ff 36.5px,#00ceff 39.5px,#00aeff 48.5px,#0061ff 87.5px)"></div><div style="left:586px;width:1px;top:127px;height:88px;background:linear-gradient(#00ff00 0.5px,#00ff30 13.5px,#00ff89 22.5px,#00fffe 32.5px,#00ccff 38.5px,#00a7ff 48.5px,#005aff 87.5px)"></div><div style="left:587px;width:1px;top:127px;height:88px;background:linear-gradient(#00ff01 0.5px,#00ff2f 13.5px,#00ff87 22.5px,#00fffe 32.5px,#00caff 38.5px,#00a4ff 48.5px,#005aff 87.5px)"></div><div style="left:588px;width:1px;top:127px;height:88px;background:linear-gradient(#00ff01 0.5px,#00ff2d 13.5px,#00ff85 22.5px,#00fffc 32.5px,#00cbff 38.5px,#00a4ff 48.5px,#005bff 87.5px)"></div><div style="left:589px;width:1px;top:127px;height:88px;background:linear-gradient(#00ff00 0.5px,#00ff2b 13.5px,#00ff74 21.5px,#00feff 33.5px,#00caff 39.5px,#00a5ff 49.5px,#005bff 87.5px)"></div><div style="left:590px;width:1px;top:127px;height:88px;background:linear-gradient(#00ff00 0.5px,#00ff2b 14.5px,#00ff60 20.5px,#00ffb8 28.5px,#00fffd 34.5px,#00ceff 40.5px,#00a8ff 50.5px,#005dff 87.5px)"></div><div style="left:591px;width:1px;top:127px;height:88px;background:linear-gradient(#01ff00 0.5px,#00ff28 15.5px,#00ff47 19.5px,#00ff8e 26.5px,#00fff7 35.5px,#00fdff 36.5px,#00cdff 42.5px,#00a9ff 52.5px,#0061ff 87.5px)"></div><div style="left:592px;width:1px;top:127px;height:88px;background:linear-gradient(#04ff00 0.5px,#00ff17 12.5px,#00ff27 17.5px,#00ff5b 23.5px,#00fff6 36.5px,#00fdff 37.5px,#00ccff 43.5px,#00a8ff 53.5px,#0071ff 81.5px,#0064ff 87.5px)"></div><div style="left:593px;width:1px;top:127px;height:88px;background:linear-gradient(#0fff00 0.5px,#00ff03 10.5px,#00ff14 17.5px,#00ff2d 21.5px,#00ff44 23.5px,#00ffb1 30.5px,#00fff4 35.5px,#00fffe 36.5px,#00c1ff 44.5px,#00a3ff 52.5px,#0072ff 80.5px,#0063ff 87.5px)"></div><div style="left:594px;width:1px;top:127px;height:88px;background:linear-gradient(#24ff00 0.5px,#06ff00 17.5px,#00ff06 20.5px,#00ff0d 21.5px,#00ff1d 22.5px,#00ffab 28.5px,#00fff3 32.5px,#00fbff 33.5px,#00deff 36.5px,#00a8ff 44.5px,#0094ff 49.5px,#0071ff 78.5px,#0061ff 87.5px)"></div><div style="left:595px;width:1px;top:127px;height:88px;background:linear-gradient(#3cff00 0.5px,#1cff00 17.5px,#11ff00 20.5px,#00ff01 21.5px,#00ffa9 26.5px,#00fff8 29.5px,#00edff 30.5px,#00bfff 32.5px,#00a9ff 34.5px,#007aff 41.5px,#005eff 47.5px,#005dff 55.5px,#006dff 62.5px,#0072ff 70.5px,#0065ff 87.5px)"></div><div style="left:596px;width:1px;top:127px;height:88px;background:linear-gradient(#53ff00 0.5px,#30ff00 16.5px,#25ff00 19.5px,#13ff00 20.5px,#00ff18 21.5px,#00ff9f 24.5px,#00ffee 26.5px,#00eeff 27.5px,#006cff 31.5px,#005bff 32.5px,#0022ff 39.5px,#0008ff 47.5px,#000dff 53.5px,#001cff 55.5px,#0037ff 58.5px,#0061ff 66.5px,#0070ff 77.5px,#006fff 87.5px)"></div><div style="left:597px;width:1px;top:127px;height:88px;background:linear-gradient(#65ff00 0.5px,#3eff00 15.5px,#33ff00 18.5px,#28ff00 19.5px,#00ff07 20.5px,#00ffab 23.5px,#00ffdb 24.5px,#00f6ff 25.5px,#002cff 30.5px,#0013ff 31.5px,#0200ff 33.5px,#2e00ff 38.5px,#4300ff 46.5px,#3200ff 53.5px,#0500ff 56.5px,#0014ff 58.5px,#0051ff 65.5px,#0071ff 76.5px,#0079ff 87.5px)"></div><div style="left:598px;width:1px;top:127px;height:88px;background:linear-gradient(#6bff00 0.5px,#44ff00 14.5px,#32ff00 18.5px,#10ff00 19.5px,#00ff2a 20.5px,#00ff9e 22.5px,#00fdff 24.5px,#0028ff 29.5px,#0005ff 30.5px,#1200ff 32.5px,#4000ff 37.5px,#5500ff 45.5px,#4500ff 52.5px,#3a00ff 53.5px,#0600ff 56.5px,#0007ff 57.5px,#004cff 64.5px,#0073ff 75.5px,#007eff 87.5px)"></div><div style="left:599px;width:1px;top:127px;height:88px;background:linear-gradient(#6cff00 0.5px,#43ff00 14.5px,#37ff00 17.5px,#27ff00 18.5px,#00ff0f 19.5px,#00ff85 21.5px,#00ffec 23.5px,#00e5ff 24.5px,#0012ff 29.5px,#0400ff 30.5px,#4300ff 37.5px,#5400ff 45.5px,#4500ff 51.5px,#3f00ff 52.5px,#0c00ff 55.5px,#0004ff 56.5px,#0052ff 64.5px,#0076ff 75.5px,#0080ff 87.5px)"></div><div style="left:600px;width:1px;top:127px;height:88px;background:linear-gradient(#6cff00 0.5px,#45ff00 13.5px,#36ff00 17.5px,#10ff00 18.5px,#00ff2a 19.5px,#00ff9e 21.5px,#00fdff 23.5px,#0028ff 28.5px,#0004ff 29.5px,#1a00ff 32.5px,#3f00ff 36.5px,#5100ff 45.5px,#4300ff 51.5px,#2600ff 53.5px,#0300ff 55.5px,#004fff 63.5px,#0076ff 74.5px,#0081ff 87.5px)"></div><div style="left:601px;width:1px;top:127px;height:88px;background:linear-gradient(#6cff00 0.5px,#44ff00 13.5px,#31ff00 17.5px,#00ff05 18.5px,#00ffb1 21.5px,#00ffe3 22.5px,#00edff 23.5px,#001aff 28.5px,#0100ff 29.5px,#4000ff 36.5px,#5000ff 44.5px,#3e00ff 51.5px,#0c00ff 54.5px,#0005ff 55.5px,#0054ff 63.5px,#0077ff 74.5px,#0083ff 87.5px)"></div><div style="left:602px;width:1px;top:127px;height:88px;background:linear-gradient(#6dff00 0.5px,#43ff00 13.5px,#38ff00 16.5px,#27ff00 17.5px,#00ff14 18.5px,#00ff89 20.5px,#00ffef 22.5px,#00e3ff 23.5px,#0014ff 28.5px,#0100ff 29.5px,#3b00ff 36.5px,#4a00ff 44.5px,#3a00ff 50.5px,#3300ff 51.5px,#0300ff 54.5px,#0051ff 62.5px,#0061ff 66.5px,#0078ff 74.5px,#0086ff 87.5px)"></div><div style="left:603px;width:1px;top:127px;height:88px;background:linear-gradient(#6dff00 0.5px,#43ff00 13.5px,#38ff00 16.5px,#1eff00 17.5px,#00ff1d 18.5px,#00ff93 20.5px,#00fff7 22.5px,#00deff 23.5px,#0014ff 28.5px,#0001ff 29.5px,#3300ff 36.5px,#3e00ff 41.5px,#3c00ff 45.5px,#2e00ff 50.5px,#0700ff 53.5px,#0007ff 54.5px,#0052ff 61.5px,#0064ff 66.5px,#007cff 77.5px,#008aff 87.5px)"></div><div style="left:604px;width:1px;top:127px;height:88px;background:linear-gradient(#6eff00 0.5px,#43ff00 13.5px,#38ff00 16.5px,#1aff00 17.5px,#00ff21 18.5px,#00ff96 20.5px,#00fffa 22.5px,#00b5ff 24.5px,#0017ff 28.5px,#0002ff 29.5px,#3200ff 37.5px,#3a00ff 43.5px,#2b00ff 49.5px,#1a00ff 51.5px,#0000ff 53.5px,#0050ff 60.5px,#005eff 63.5px,#008bff 86.5px,#008cff 87.5px)"></div><div style="left:605px;width:1px;top:127px;height:88px;background:linear-gradient(#6dff00 0.5px,#42ff00 13.5px,#37ff00 16.5px,#1bff00 17.5px,#00ff20 18.5px,#00ff96 20.5px,#00fffa 22.5px,#00b4ff 24.5px,#0013ff 28.5px,#0100ff 29.5px,#3700ff 37.5px,#4000ff 43.5px,#2d00ff 50.5px,#0700ff 53.5px,#0007ff 54.5px,#0051ff 61.5px,#0072ff 73.5px,#0087ff 87.5px)"></div><div style="left:606px;width:1px;top:127px;height:88px;background:linear-gradient(#6bff00 0.5px,#41ff00 13.5px,#36ff00 16.5px,#20ff00 17.5px,#00ff1a 18.5px,#00ff90 20.5px,#00fff6 22.5px,#00ddff 23.5px,#000fff 28.5px,#0500ff 29.5px,#3e00ff 36.5px,#4d00ff 44.5px,#3c00ff 50.5px,#3400ff 51.5px,#0600ff 54.5px,#0013ff 56.5px,#0045ff 61.5px,#0055ff 64.5px,#0071ff 75.5px,#0080ff 87.5px)"></div><div style="left:607px;width:1px;top:127px;height:88px;background:linear-gradient(#6bff00 0.5px,#42ff00 13.5px,#36ff00 16.5px,#2bff00 17.5px,#00ff0e 18.5px,#00ff84 20.5px,#00ffeb 22.5px,#00e5ff 23.5px,#0012ff 28.5px,#0600ff 29.5px,#4500ff 36.5px,#5600ff 44.5px,#4200ff 51.5px,#0000ff 55.5px,#004eff 63.5px,#0071ff 74.5px,#007cff 87.5px)"></div><div style="left:608px;width:1px;top:127px;height:88px;background:linear-gradient(#6cff00 0.5px,#44ff00 13.5px,#34ff00 17.5px,#08ff00 18.5px,#00ff33 19.5px,#00ffa6 21.5px,#00ffd8 22.5px,#00f6ff 23.5px,#0022ff 28.5px,#0002ff 29.5px,#3f00ff 36.5px,#5100ff 44.5px,#4100ff 51.5px,#0001ff 55.5px,#0052ff 63.5px,#0078ff 74.5px,#0082ff 87.5px)"></div><div style="left:609px;width:1px;top:127px;height:88px;background:linear-gradient(#6eff00 0.5px,#44ff00 14.5px,#39ff00 17.5px,#21ff00 18.5px,#00ff17 19.5px,#00ff8c 21.5px,#00fff1 23.5px,#00e2ff 24.5px,#0011ff 29.5px,#0001ff 30.5px,#3b00ff 37.5px,#4900ff 45.5px,#3a00ff 51.5px,#3200ff 52.5px,#0002ff 55.5px,#001bff 57.5px,#005eff 64.5px,#0080ff 75.5px,#008bff 87.5px)"></div><div style="left:610px;width:1px;top:127px;height:88px;background:linear-gradient(#6fff00 0.5px,#47ff00 14.5px,#3cff00 17.5px,#34ff00 18.5px,#08ff00 19.5px,#00ff32 20.5px,#00ffa3 22.5px,#00ffd5 23.5px,#00fbff 24.5px,#0029ff 29.5px,#000cff 30.5px,#0001ff 31.5px,#3400ff 37.5px,#4200ff 46.5px,#3300ff 52.5px,#0200ff 55.5px,#0024ff 58.5px,#005fff 64.5px,#0084ff 75.5px,#008fff 87.5px)"></div><div style="left:611px;width:1px;top:127px;height:88px;background:linear-gradient(#6aff00 0.5px,#42ff00 15.5px,#38ff00 18.5px,#24ff00 19.5px,#00ff0f 20.5px,#00ff7c 22.5px,#00ffdb 24.5px,#00faff 25.5px,#0037ff 30.5px,#0024ff 31.5px,#0100ff 35.5px,#1800ff 38.5px,#2800ff 46.5px,#1d00ff 52.5px,#1600ff 53.5px,#0700ff 54.5px,#0008ff 55.5px,#0026ff 57.5px,#006bff 65.5px,#008aff 76.5px,#0091ff 87.5px)"></div><div style="left:612px;width:1px;top:127px;height:88px;background:linear-gradient(#58ff00 0.5px,#2eff00 18.5px,#28ff00 19.5px,#0fff00 20.5px,#00ff19 21.5px,#00ff90 24.5px,#00fff3 27.5px,#00ebff 28.5px,#00afff 30.5px,#0096ff 31.5px,#005bff 37.5px,#004aff 41.5px,#003aff 48.5px,#003bff 53.5px,#0066ff 58.5px,#008eff 66.5px,#009bff 77.5px,#009aff 87.5px)"></div><div style="left:613px;width:1px;top:127px;height:88px;background:linear-gradient(#41ff00 0.5px,#1eff00 19.5px,#18ff00 20.5px,#04ff00 21.5px,#00ff49 24.5px,#00ffba 29.5px,#00ffe1 31.5px,#00fffb 33.5px,#00e1ff 36.5px,#00cbff 40.5px,#00a4ff 51.5px,#00a5ff 55.5px,#00b3ff 62.5px,#00b6ff 71.5px,#00a7ff 87.5px)"></div><div style="left:614px;width:1px;top:127px;height:88px;background:linear-gradient(#30ff00 0.5px,#11ff00 20.5px,#0cff00 21.5px,#00ff00 22.5px,#00ff73 30.5px,#00ffbd 37.5px,#00fdff 52.5px,#00c1ff 87.5px)"></div><div style="left:615px;width:1px;top:127px;height:88px;background:linear-gradient(#24ff00 0.5px,#0bff00 19.5px,#03ff00 22.5px,#00ff1c 26.5px,#00ff7c 39.5px,#00ffc2 55.5px,#00fff0 70.5px,#00fdff 78.5px,#00e8ff 87.5px)"></div><div style="left:616px;width:1px;top:127px;height:88px;background:linear-gradient(#1bff00 0.5px,#05ff00 18.5px,#00ff06 23.5px,#00ff2e 34.5px,#00ff84 52.5px,#00ffca 69.5px,#00fff5 87.5px)"></div><div style="left:617px;width:1px;top:127px;height:88px;background:linear-gradient(#17ff00 0.5px,#00ff03 19.5px,#00ff23 32.5px,#00ff97 57.5px,#00ffc5 68.5px,#00fff1 87.5px)"></div><div style="left:618px;width:1px;top:127px;height:88px;background:linear-gradient(#16ff00 0.5px,#00ff02 17.5px,#00ff23 30.5px,#00ff93 54.5px,#00ffc5 66.5px,#00fff1 87.5px)"></div><div style="left:619px;width:1px;top:127px;height:88px;background:linear-gradient(#18ff00 0.5px,#00ff03 17.5px,#00ff1f 29.5px,#00ffa0 57.5px,#00ffc0 65.5px,#00ffe9 87.5px)"></div><div style="left:620px;width:1px;top:127px;height:88px;background:linear-gradient(#1aff00 0.5px,#00ff03 18.5px,#00ff17 28.5px,#00ffb6 64.5px,#00ffe1 87.5px)"></div><div style="left:621px;width:1px;top:127px;height:88px;background:linear-gradient(#1bff00 0.5px,#00ff02 18.5px,#00ff14 28.5px,#00ffb2 64.5px,#00ffdd 87.5px)"></div><div style="left:622px;width:1px;top:127px;height:88px;background:linear-gradient(#1bff00 0.5px,#00ff02 18.5px,#00ff14 28.5px,#00ffb2 64.5px,#00ffdc 87.5px)"></div><div style="left:623px;width:1px;top:127px;height:88px;background:linear-gradient(#1aff00 0.5px,#00ff02 17.5px,#00ff18 28.5px,#00ffb7 64.5px,#00ffe2 87.5px)"></div><div style="left:624px;width:1px;top:127px;height:88px;background:linear-gradient(#19ff00 0.5px,#00ff02 16.5px,#00ff23 28.5px,#00ff93 50.5px,#00ffcd 64.5px,#00fff7 87.5px)"></div><div style="left:625px;width:1px;top:127px;height:88px;background:linear-gradient(#23ff00 0.5px,#0bff00 14.5px,#00ff02 18.5px,#00ff31 28.5px,#00ffa6 46.5px,#00ffcf 54.5px,#00fff2 64.5px,#00fcff 74.5px,#00e7ff 87.5px)"></div><div style="left:626px;width:1px;top:127px;height:88px;background:linear-gradient(#3bff00 0.5px,#2cff00 12.5px,#00ff02 21.5px,#00ff58 32.5px,#00ffcb 46.5px,#00fff4 52.5px,#00fbff 56.5px,#00e7ff 66.5px,#00ceff 87.5px)"></div><div style="left:627px;width:1px;top:127px;height:88px;background:linear-gradient(#55ff00 0.5px,#45ff00 13.5px,#0bff00 22.5px,#02ff00 23.5px,#00fffb 50.5px,#00f0ff 53.5px,#00e0ff 59.5px,#00cbff 87.5px)"></div><div style="left:628px;width:1px;top:127px;height:88px;background:linear-gradient(#5fff00 0.5px,#53ff00 13.5px,#11ff00 23.5px,#00ff02 25.5px,#00fff9 51.5px,#00fcff 52.5px,#00e8ff 59.5px,#00d7ff 87.5px)"></div><div style="left:629px;width:1px;top:127px;height:88px;background:linear-gradient(#60ff00 0.5px,#52ff00 14.5px,#17ff00 23.5px,#04ff00 25.5px,#00ff21 29.5px,#00fffa 52.5px,#00fbff 54.5px,#00eeff 60.5px,#00e2ff 87.5px)"></div><div style="left:630px;width:1px;top:127px;height:88px;background:linear-gradient(#60ff00 0.5px,#52ff00 14.5px,#17ff00 23.5px,#04ff00 25.5px,#00ff18 28.5px,#00fff9 52.5px,#00fcff 54.5px,#00efff 60.5px,#00eaff 87.5px)"></div><div style="left:631px;width:1px;top:127px;height:88px;background:linear-gradient(#5fff00 0.5px,#50ff00 14.5px,#14ff00 23.5px,#01ff00 25.5px,#00fffd 52.5px,#00efff 60.5px,#00f0ff 87.5px)"></div><div style="left:632px;width:1px;top:127px;height:88px;background:linear-gradient(#5eff00 0.5px,#4fff00 13.5px,#13ff00 22.5px,#00ff00 24.5px,#00fff7 50.5px,#00ffff 51.5px,#00eeff 57.5px,#00f6ff 87.5px)"></div><div style="left:633px;width:1px;top:127px;height:88px;background:linear-gradient(#5dff00 0.5px,#4fff00 12.5px,#13ff00 21.5px,#00ff00 23.5px,#00fffb 49.5px,#00f3ff 52.5px,#00ebff 58.5px,#00faff 87.5px)"></div><div style="left:634px;width:1px;top:127px;height:88px;background:linear-gradient(#5cff00 0.5px,#51ff00 11.5px,#0fff00 21.5px,#00ff05 23.5px,#00fffb 48.5px,#00f2ff 51.5px,#00ebff 57.5px,#00f6ff 87.5px)"></div><div style="left:635px;width:1px;top:127px;height:88px;background:linear-gradient(#5cff00 0.5px,#51ff00 11.5px,#1aff00 20.5px,#00ff03 23.5px,#00ffaf 40.5px,#00fff5 47.5px,#00fffd 48.5px,#00f2ff 52.5px,#00f1ff 59.5px,#00eaff 87.5px)"></div><div style="left:636px;width:1px;top:127px;height:88px;background:linear-gradient(#5cff00 0.5px,#4fff00 11.5px,#1aff00 20.5px,#00ff03 23.5px,#00ff87 36.5px,#00ffe7 45.5px,#00ffff 48.5px,#00f3ff 52.5px,#00f5ff 63.5px,#00e1ff 87.5px)"></div><div style="left:637px;width:1px;top:127px;height:88px;background:linear-gradient(#5bff00 0.5px,#4fff00 10.5px,#1cff00 19.5px,#00ff01 22.5px,#00ff87 35.5px,#00ffe3 43.5px,#00fffc 46.5px,#00f4ff 52.5px,#00fdff 60.5px,#00e4ff 87.5px)"></div><div style="left:638px;width:1px;top:127px;height:88px;background:linear-gradient(#5aff00 0.5px,#4cff00 10.5px,#1bff00 18.5px,#00ff02 21.5px,#00ff7e 33.5px,#00ffe7 42.5px,#00feff 45.5px,#00f4ff 50.5px,#00fffb 58.5px,#00efff 84.5px,#00eeff 87.5px)"></div><div style="left:639px;width:1px;top:127px;height:88px;background:linear-gradient(#59ff00 0.5px,#4fff00 9.5px,#18ff00 18.5px,#04ff00 20.5px,#00ff1a 23.5px,#00ff83 33.5px,#00ffec 42.5px,#00fffe 44.5px,#00f3ff 48.5px,#00f6ff 52.5px,#00fffc 57.5px,#00f3ff 83.5px,#00f1ff 87.5px)"></div><div style="left:640px;width:1px;top:127px;height:88px;background:linear-gradient(#57ff00 0.5px,#4bff00 10.5px,#18ff00 19.5px,#05ff00 21.5px,#00ff10 23.5px,#00ff85 34.5px,#00fff2 43.5px,#00faff 45.5px,#00ecff 48.5px,#00ebff 53.5px,#00f7ff 60.5px,#00e4ff 87.5px)"></div><div style="left:641px;width:1px;top:127px;height:88px;background:linear-gradient(#54ff00 0.5px,#46ff00 12.5px,#1aff00 20.5px,#00ff02 23.5px,#00ff90 36.5px,#00fffe 45.5px,#00e3ff 49.5px,#00dfff 54.5px,#00ecff 61.5px,#00d4ff 87.5px)"></div><div style="left:642px;width:1px;top:127px;height:88px;background:linear-gradient(#53ff00 0.5px,#47ff00 12.5px,#18ff00 21.5px,#04ff00 23.5px,#00ff31 28.5px,#00ff93 37.5px,#00fff6 45.5px,#00feff 46.5px,#00e6ff 49.5px,#00e0ff 55.5px,#00e8ff 62.5px,#00d2ff 87.5px)"></div><div style="left:643px;width:1px;top:127px;height:88px;background:linear-gradient(#54ff00 0.5px,#47ff00 12.5px,#16ff00 21.5px,#02ff00 23.5px,#00ff8f 37.5px,#00fff9 46.5px,#00f4ff 48.5px,#00e9ff 55.5px,#00ecff 64.5px,#00dcff 87.5px)"></div><div style="left:644px;width:1px;top:127px;height:88px;background:linear-gradient(#55ff00 0.5px,#49ff00 11.5px,#19ff00 20.5px,#00ff03 23.5px,#00ff84 36.5px,#00fff7 46.5px,#00ffff 47.5px,#00f2ff 55.5px,#00e9ff 82.5px,#00e7ff 87.5px)"></div><div style="left:645px;width:1px;top:127px;height:88px;background:linear-gradient(#55ff00 0.5px,#46ff00 11.5px,#1aff00 19.5px,#00ff02 22.5px,#00ff8b 36.5px,#00fffc 46.5px,#00f3ff 53.5px,#00e4ff 87.5px)"></div><div style="left:646px;width:1px;top:127px;height:88px;background:linear-gradient(#53ff00 0.5px,#46ff00 10.5px,#10ff00 19.5px,#00ff03 21.5px,#00ff8b 35.5px,#00fffe 45.5px,#00e9ff 57.5px,#00dcff 87.5px)"></div><div style="left:647px;width:1px;top:127px;height:88px;background:linear-gradient(#51ff00 0.5px,#43ff00 10.5px,#13ff00 18.5px,#00ff00 20.5px,#00ff95 35.5px,#00feff 44.5px,#00f3ff 47.5px,#00e3ff 57.5px,#00d6ff 87.5px)"></div><div style="left:648px;width:1px;top:127px;height:88px;background:linear-gradient(#51ff00 0.5px,#43ff00 10.5px,#13ff00 18.5px,#00ff01 20.5px,#00ff97 35.5px,#00fcff 44.5px,#00f3ff 46.5px,#00e1ff 57.5px,#00d7ff 87.5px)"></div><div style="left:649px;width:1px;top:127px;height:88px;background:linear-gradient(#51ff00 0.5px,#44ff00 10.5px,#15ff00 18.5px,#02ff00 20.5px,#00ff94 35.5px,#00ffff 44.5px,#00f4ff 46.5px,#00e1ff 57.5px,#00d8ff 87.5px)"></div><div style="left:650px;width:1px;top:127px;height:88px;background:linear-gradient(#52ff00 0.5px,#46ff00 10.5px,#11ff00 19.5px,#00ff02 21.5px,#00ff97 36.5px,#00feff 45.5px,#00e8ff 53.5px,#00d6ff 74.5px,#00cfff 87.5px)"></div><div style="left:651px;width:1px;top:127px;height:88px;background:linear-gradient(#53ff00 0.5px,#45ff00 11.5px,#12ff00 20.5px,#00ff01 22.5px,#00ff88 36.5px,#00fffb 46.5px,#00f6ff 50.5px,#00e0ff 59.5px,#00bcff 87.5px)"></div><div style="left:652px;width:1px;top:127px;height:88px;background:linear-gradient(#55ff00 0.5px,#49ff00 11.5px,#1bff00 20.5px,#00ff01 23.5px,#00ff85 37.5px,#00fff6 47.5px,#00fdff 50.5px,#00e0ff 60.5px,#00aeff 87.5px)"></div><div style="left:653px;width:1px;top:127px;height:88px;background:linear-gradient(#56ff00 0.5px,#49ff00 12.5px,#19ff00 21.5px,#00ff02 24.5px,#00ff84 38.5px,#00ffe9 47.5px,#00fff7 50.5px,#00fcff 53.5px,#00e3ff 62.5px,#00b6ff 87.5px)"></div><div style="left:654px;width:1px;top:127px;height:88px;background:linear-gradient(#57ff00 0.5px,#4bff00 12.5px,#1fff00 21.5px,#05ff00 24.5px,#00ff0d 26.5px,#00ff80 39.5px,#00ffdb 48.5px,#00fdff 58.5px,#00e6ff 69.5px,#00cdff 87.5px)"></div><div style="left:655px;width:1px;top:127px;height:88px;background:linear-gradient(#57ff00 0.5px,#4cff00 12.5px,#18ff00 22.5px,#00ff00 25.5px,#00ffb5 47.5px,#00ffcc 51.5px,#00fffe 63.5px,#00f2ff 72.5px,#00e1ff 87.5px)"></div><div style="left:656px;width:1px;top:127px;height:88px;background:linear-gradient(#55ff00 0.5px,#49ff00 12.5px,#13ff00 22.5px,#00ff04 25.5px,#00ff51 35.5px,#00ffbb 51.5px,#00fdff 64.5px,#00e6ff 87.5px)"></div><div style="left:657px;width:1px;top:127px;height:88px;background:linear-gradient(#53ff00 0.5px,#45ff00 12.5px,#15ff00 21.5px,#00ff03 24.5px,#00ff50 34.5px,#00fffc 62.5px,#00f5ff 65.5px,#00e0ff 87.5px)"></div><div style="left:658px;width:1px;top:127px;height:88px;background:linear-gradient(#50ff00 0.5px,#42ff00 12.5px,#10ff00 21.5px,#00ff00 23.5px,#00ff58 34.5px,#00ffff 61.5px,#00ecff 64.5px,#00d7ff 87.5px)"></div><div style="left:659px;width:1px;top:127px;height:88px;background:linear-gradient(#4dff00 0.5px,#40ff00 12.5px,#0dff00 21.5px,#00ff04 23.5px,#00ff60 34.5px,#00ffcb 51.5px,#00fffd 59.5px,#00e0ff 65.5px,#00d0ff 87.5px)"></div><div style="left:660px;width:1px;top:127px;height:88px;background:linear-gradient(#4bff00 0.5px,#3fff00 12.5px,#0bff00 21.5px,#03ff00 22.5px,#00ff6c 35.5px,#00ffba 47.5px,#00fcff 59.5px,#00dbff 65.5px,#00cdff 87.5px)"></div><div style="left:661px;width:1px;top:127px;height:88px;background:linear-gradient(#4eff00 0.5px,#3fff00 12.5px,#0cff00 21.5px,#00ff05 23.5px,#00ff5f 34.5px,#00ffee 57.5px,#00feff 60.5px,#00e7ff 64.5px,#00d7ff 87.5px)"></div><div style="left:662px;width:1px;top:127px;height:88px;background:linear-gradient(#53ff00 0.5px,#45ff00 11.5px,#14ff00 20.5px,#00ff03 23.5px,#00ff4f 33.5px,#00ffff 62.5px,#00f6ff 68.5px,#00e8ff 87.5px)"></div><div style="left:663px;width:1px;top:127px;height:88px;background:linear-gradient(#56ff00 0.5px,#4bff00 10.5px,#12ff00 20.5px,#00ff04 23.5px,#00ff46 32.5px,#00ffda 57.5px,#00fff9 62.5px,#00fbff 73.5px,#00f0ff 87.5px)"></div><div style="left:664px;width:1px;top:127px;height:88px;background:linear-gradient(#53ff00 0.5px,#47ff00 10.5px,#14ff00 19.5px,#00ff04 22.5px,#00ff4f 32.5px,#00feff 61.5px,#00f8ff 64.5px,#00e5ff 87.5px)"></div><div style="left:665px;width:1px;top:127px;height:88px;background:linear-gradient(#4fff00 0.5px,#44ff00 10.5px,#0fff00 19.5px,#00ff02 21.5px,#00ff5a 32.5px,#00fdff 59.5px,#00ebff 62.5px,#00d8ff 87.5px)"></div><div style="left:666px;width:1px;top:127px;height:88px;background:linear-gradient(#4fff00 0.5px,#3fff00 11.5px,#0aff00 20.5px,#02ff00 21.5px,#00ff5e 33.5px,#00ffff 59.5px,#00ebff 63.5px,#00dbff 87.5px)"></div><div style="left:667px;width:1px;top:127px;height:88px;background:linear-gradient(#51ff00 0.5px,#46ff00 11.5px,#0fff00 21.5px,#00ff01 23.5px,#00ff56 34.5px,#00fffc 62.5px,#00f7ff 68.5px,#00efff 87.5px)"></div><div style="left:668px;width:1px;top:127px;height:88px;background:linear-gradient(#55ff00 0.5px,#49ff00 12.5px,#14ff00 22.5px,#00ff03 25.5px,#00ff4b 35.5px,#00fff2 65.5px,#00fff7 87.5px)"></div><div style="left:669px;width:1px;top:127px;height:88px;background:linear-gradient(#59ff00 0.5px,#4dff00 12.5px,#1cff00 22.5px,#00ff01 26.5px,#00ff3e 35.5px,#00ffdd 65.5px,#00ffdf 87.5px)"></div><div style="left:670px;width:1px;top:127px;height:88px;background:linear-gradient(#5eff00 0.5px,#50ff00 12.5px,#19ff00 23.5px,#00ff01 27.5px,#00ff31 35.5px,#00ffbf 64.5px,#00ffcb 86.5px,#00ffcb 87.5px)"></div><div style="left:671px;width:1px;top:127px;height:88px;background:linear-gradient(#63ff00 0.5px,#50ff00 12.5px,#15ff00 24.5px,#00ff02 28.5px,#00ff30 37.5px,#00ffa7 64.5px,#00ffc8 83.5px,#00ffc9 87.5px)"></div><div style="left:672px;width:1px;top:127px;height:88px;background:linear-gradient(#63ff00 0.5px,#4cff00 12.5px,#00ff00 27.5px,#00ff36 38.5px,#00ffbb 69.5px,#00ffe7 82.5px,#00ffef 87.5px)"></div><div style="left:673px;width:1px;top:127px;height:88px;background:linear-gradient(#62ff00 0.5px,#48ff00 12.5px,#00ff02 26.5px,#00ff3f 38.5px,#00ffc7 67.5px,#00ffff 78.5px,#00eaff 84.5px,#00e3ff 87.5px)"></div><div style="left:674px;width:1px;top:127px;height:88px;background:linear-gradient(#5fff00 0.5px,#46ff00 12.5px,#00ff00 25.5px,#00ff47 38.5px,#00ffcf 66.5px,#00feff 75.5px,#00dbff 82.5px,#00cdff 87.5px)"></div><div style="left:675px;width:1px;top:127px;height:88px;background:linear-gradient(#5cff00 0.5px,#42ff00 13.5px,#00ff01 25.5px,#00ff4d 38.5px,#00ffe5 70.5px,#00ffff 75.5px,#00dcff 82.5px,#00cfff 87.5px)"></div><div style="left:676px;width:1px;top:127px;height:88px;background:linear-gradient(#5aff00 0.5px,#42ff00 13.5px,#00ff02 25.5px,#00ff57 39.5px,#00ff8b 50.5px,#00ffe7 71.5px,#00feff 76.5px,#00e2ff 82.5px,#00d7ff 87.5px)"></div><div style="left:677px;width:1px;top:127px;height:88px;background:linear-gradient(#59ff00 0.5px,#3eff00 13.5px,#00ff02 24.5px,#00ff59 38.5px,#00ff86 47.5px,#00ffe4 70.5px,#00feff 76.5px,#00e5ff 82.5px,#00dbff 87.5px)"></div><div style="left:678px;width:1px;top:127px;height:88px;background:linear-gradient(#58ff00 0.5px,#3dff00 12.5px,#00ff03 23.5px,#00ff5a 37.5px,#00ff88 46.5px,#00ffe4 69.5px,#00fcff 76.5px,#00e7ff 82.5px,#00dfff 87.5px)"></div><div style="left:679px;width:1px;top:127px;height:88px;background:linear-gradient(#5aff00 0.5px,#40ff00 11.5px,#01ff00 22.5px,#00ff55 36.5px,#00ff83 45.5px,#00ffdd 68.5px,#00fffe 76.5px,#00eeff 82.5px,#00e7ff 87.5px)"></div><div style="left:680px;width:1px;top:127px;height:88px;background:linear-gradient(#64ff00 0.5px,#47ff00 11.5px,#02ff00 23.5px,#00ff56 39.5px,#00ff84 50.5px,#00ffd0 69.5px,#00fffe 81.5px,#00f7ff 87.5px)"></div><div style="left:681px;width:1px;top:127px;height:88px;background:linear-gradient(#81ff00 0.5px,#57ff00 11.5px,#00ff02 26.5px,#00ff32 35.5px,#00ff7c 53.5px,#00ffed 81.5px,#00fff6 87.5px)"></div><div style="left:682px;width:1px;top:127px;height:88px;background:linear-gradient(#aeff00 0.5px,#5eff00 13.5px,#03ff00 27.5px,#00ff2a 35.5px,#00ffba 70.5px,#00ffe8 81.5px,#00fff2 87.5px)"></div><div style="left:683px;width:1px;top:127px;height:88px;background:linear-gradient(#d3ff00 0.5px,#0fff00 26.5px,#00ff00 28.5px,#00ff26 34.5px,#00ff81 56.5px,#00ffed 81.5px,#00fff8 87.5px)"></div>
<div style="left:470px;width:1px;top:228px;height:87px;background:linear-gradient(#00ff0a 0.5px,#00ff1f 12.5px,#00ff7b 20.5px,#00fffa 26.5px,#00e7ff 28.5px,#00b2ff 32.5px,#0076ff 38.5px,#0075ff 66.5px,#0077ff 86.5px)"></div><div style="left:471px;width:1px;top:228px;height:87px;background:linear-gradient(#00ff0c 0.5px,#00ff23 12.5px,#00ff82 20.5px,#00fcff 26.5px,#00aaff 32.5px,#006dff 38.5px,#006bff 86.5px)"></div><div style="left:472px;width:1px;top:228px;height:87px;background:linear-gradient(#00ff0c 0.5px,#00ff21 11.5px,#00ff40 14.5px,#00ff7c 19.5px,#00ffb9 22.5px,#00fff9 25.5px,#00e4ff 27.5px,#00adff 31.5px,#006eff 37.5px,#0069ff 40.5px,#0061ff 86.5px)"></div><div style="left:473px;width:1px;top:228px;height:87px;background:linear-gradient(#00ff0c 0.5px,#00ff22 11.5px,#00ff83 19.5px,#00ffee 24.5px,#00fcff 25.5px,#00b4ff 30.5px,#006cff 37.5px,#005aff 86.5px)"></div><div style="left:474px;width:1px;top:228px;height:87px;background:linear-gradient(#00ff0b 0.5px,#00ff22 11.5px,#00ff84 19.5px,#00fff0 24.5px,#00fbff 25.5px,#00b5ff 30.5px,#0070ff 37.5px,#0058ff 86.5px)"></div><div style="left:475px;width:1px;top:228px;height:87px;background:linear-gradient(#00ff09 0.5px,#00ff20 11.5px,#00ff80 19.5px,#00fffd 25.5px,#00b1ff 31.5px,#0077ff 37.5px,#005cff 86.5px)"></div><div style="left:476px;width:1px;top:228px;height:87px;background:linear-gradient(#00ff0f 0.5px,#00ff24 11.5px,#00ff7c 19.5px,#00fff5 25.5px,#00fbff 26.5px,#00bcff 31.5px,#0081ff 37.5px,#0062ff 86.5px)"></div><div style="left:477px;width:1px;top:228px;height:87px;background:linear-gradient(#00ff2d 0.5px,#00ff41 11.5px,#00ff88 19.5px,#00ffeb 25.5px,#00fbff 27.5px,#00c2ff 32.5px,#0092ff 37.5px,#0084ff 45.5px,#006cff 86.5px)"></div><div style="left:478px;width:1px;top:228px;height:87px;background:linear-gradient(#00ff5e 0.5px,#00ff74 12.5px,#00ff8f 17.5px,#00ffb2 21.5px,#00fffc 28.5px,#00acff 37.5px,#0092ff 43.5px,#007cff 86.5px)"></div><div style="left:479px;width:1px;top:228px;height:87px;background:linear-gradient(#00ff7d 0.5px,#00ff96 15.5px,#00ffce 24.5px,#00fdff 30.5px,#00c6ff 37.5px,#00aaff 43.5px,#008bff 86.5px)"></div><div style="left:480px;width:1px;top:228px;height:87px;background:linear-gradient(#00ff84 0.5px,#00ff9c 15.5px,#00ffd0 24.5px,#00fffe 30.5px,#00c5ff 40.5px,#0091ff 85.5px,#0091ff 86.5px)"></div><div style="left:481px;width:1px;top:228px;height:87px;background:linear-gradient(#00ff84 0.5px,#00ff9e 15.5px,#00ffd4 24.5px,#00fffc 29.5px,#00c3ff 38.5px,#00b3ff 42.5px,#0087ff 86.5px)"></div><div style="left:482px;width:1px;top:228px;height:87px;background:linear-gradient(#00ff85 0.5px,#00ff9e 15.5px,#00ffcc 23.5px,#00fffe 29.5px,#00c7ff 35.5px,#009dff 42.5px,#0081ff 86.5px)"></div><div style="left:483px;width:1px;top:228px;height:87px;background:linear-gradient(#00ff85 0.5px,#00ff9f 16.5px,#00ffce 24.5px,#00fff9 29.5px,#00fbff 30.5px,#00bfff 36.5px,#0094ff 43.5px,#0087ff 86.5px)"></div><div style="left:484px;width:1px;top:228px;height:87px;background:linear-gradient(#00ff87 0.5px,#00ff9d 16.5px,#00ffd3 25.5px,#00ffff 30.5px,#00b8ff 37.5px,#0091ff 43.5px,#008cff 86.5px)"></div><div style="left:485px;width:1px;top:228px;height:87px;background:linear-gradient(#00ff88 0.5px,#00ffa0 16.5px,#00ffd9 25.5px,#00fffd 29.5px,#00afff 37.5px,#0089ff 43.5px,#0084ff 86.5px)"></div><div style="left:486px;width:1px;top:228px;height:87px;background:linear-gradient(#00ff8a 0.5px,#00ffa1 15.5px,#00ffdb 24.5px,#00feff 28.5px,#00aaff 36.5px,#0083ff 42.5px,#0077ff 86.5px)"></div><div style="left:487px;width:1px;top:228px;height:87px;background:linear-gradient(#00ff8a 0.5px,#00ffa2 15.5px,#00ffdf 24.5px,#00fffb 27.5px,#00f0ff 29.5px,#00aeff 35.5px,#0080ff 42.5px,#0070ff 86.5px)"></div><div style="left:488px;width:1px;top:228px;height:87px;background:linear-gradient(#00ff87 0.5px,#00ffa2 16.5px,#00ffd4 24.5px,#00fdff 29.5px,#00b5ff 36.5px,#008eff 42.5px,#007bff 86.5px)"></div><div style="left:489px;width:1px;top:228px;height:87px;background:linear-gradient(#00ff84 0.5px,#00ff9b 16.5px,#00ffcf 25.5px,#00fffa 30.5px,#00efff 32.5px,#00c0ff 37.5px,#0099ff 43.5px,#0088ff 86.5px)"></div><div style="left:490px;width:1px;top:228px;height:87px;background:linear-gradient(#00ff84 0.5px,#00ff9c 17.5px,#00ffc9 25.5px,#00fffc 31.5px,#00c0ff 38.5px,#009bff 44.5px,#0088ff 86.5px)"></div><div style="left:491px;width:1px;top:228px;height:87px;background:linear-gradient(#00ff86 0.5px,#00ff9c 17.5px,#00ffd2 26.5px,#00fffd 31.5px,#00baff 38.5px,#0094ff 44.5px,#007dff 86.5px)"></div><div style="left:492px;width:1px;top:228px;height:87px;background:linear-gradient(#00ff88 0.5px,#00ffa1 18.5px,#00ffd3 26.5px,#00feff 31.5px,#00b5ff 38.5px,#0089ff 45.5px,#0075ff 86.5px)"></div><div style="left:493px;width:1px;top:228px;height:87px;background:linear-gradient(#00ff88 0.5px,#00ffa0 18.5px,#00ffda 27.5px,#00fffe 31.5px,#00b7ff 38.5px,#008bff 45.5px,#007eff 86.5px)"></div><div style="left:494px;width:1px;top:228px;height:87px;background:linear-gradient(#00ff85 0.5px,#00ff9d 18.5px,#00ffd5 27.5px,#00feff 32.5px,#00c0ff 38.5px,#0094ff 45.5px,#008fff 86.5px)"></div><div style="left:495px;width:1px;top:228px;height:87px;background:linear-gradient(#00ff7d 0.5px,#00ff97 18.5px,#00ffcb 27.5px,#00fffd 33.5px,#00cbff 39.5px,#00a4ff 45.5px,#0099ff 58.5px,#009cff 86.5px)"></div><div style="left:496px;width:1px;top:228px;height:87px;background:linear-gradient(#00ff72 0.5px,#00ff8e 18.5px,#00ffc3 28.5px,#00fcff 36.5px,#00baff 45.5px,#009cff 56.5px,#009dff 86.5px)"></div><div style="left:497px;width:1px;top:228px;height:87px;background:linear-gradient(#00ff67 0.5px,#00ff8b 19.5px,#00ffbb 29.5px,#00fcff 39.5px,#00c2ff 47.5px,#00a0ff 55.5px,#0099ff 86.5px)"></div><div style="left:498px;width:1px;top:228px;height:87px;background:linear-gradient(#00ff5f 0.5px,#00ff88 19.5px,#00ffb6 29.5px,#00ffff 40.5px,#00c6ff 48.5px,#00a4ff 55.5px,#0098ff 86.5px)"></div><div style="left:499px;width:1px;top:228px;height:87px;background:linear-gradient(#00ff5a 0.5px,#00ff87 18.5px,#00ffb4 28.5px,#00feff 40.5px,#00bcff 50.5px,#00abff 54.5px,#009eff 69.5px,#0098ff 86.5px)"></div><div style="left:500px;width:1px;top:228px;height:87px;background:linear-gradient(#00ff56 0.5px,#00ff82 16.5px,#00ffb2 27.5px,#00fcff 40.5px,#00b7ff 51.5px,#00a1ff 63.5px,#0097ff 86.5px)"></div><div style="left:501px;width:1px;top:228px;height:87px;background:linear-gradient(#00ff54 0.5px,#00ff80 16.5px,#00ffb1 27.5px,#00ffff 40.5px,#00b5ff 52.5px,#009eff 63.5px,#0095ff 86.5px)"></div><div style="left:502px;width:1px;top:228px;height:87px;background:linear-gradient(#00ff52 0.5px,#00ff7f 17.5px,#00ffb8 29.5px,#00fdff 41.5px,#00b4ff 53.5px,#0097ff 64.5px,#0090ff 86.5px)"></div><div style="left:503px;width:1px;top:228px;height:87px;background:linear-gradient(#00ff51 0.5px,#00ff7f 18.5px,#00ffbf 31.5px,#00fcff 42.5px,#00afff 55.5px,#0092ff 64.5px,#008cff 86.5px)"></div><div style="left:504px;width:1px;top:228px;height:87px;background:linear-gradient(#00ff4e 0.5px,#00ff7b 18.5px,#00ffc1 32.5px,#00fcff 43.5px,#00afff 56.5px,#0090ff 65.5px,#0088ff 86.5px)"></div><div style="left:505px;width:1px;top:228px;height:87px;background:linear-gradient(#00ff4a 0.5px,#00ff78 18.5px,#00ffc2 33.5px,#00fdff 44.5px,#00afff 57.5px,#008eff 65.5px,#0085ff 86.5px)"></div><div style="left:506px;width:1px;top:228px;height:87px;background:linear-gradient(#00ff47 0.5px,#00ff76 18.5px,#00ffca 35.5px,#00feff 45.5px,#00adff 58.5px,#0090ff 64.5px,#0085ff 86.5px)"></div><div style="left:507px;width:1px;top:228px;height:87px;background:linear-gradient(#00ff43 0.5px,#00ff76 18.5px,#00ffce 36.5px,#00fffe 45.5px,#00cdff 53.5px,#0091ff 64.5px,#0087ff 86.5px)"></div><div style="left:508px;width:1px;top:228px;height:87px;background:linear-gradient(#00ff41 0.5px,#00ff70 17.5px,#00ffc3 33.5px,#00ffff 44.5px,#00abff 58.5px,#0090ff 64.5px,#0089ff 86.5px)"></div><div style="left:509px;width:1px;top:228px;height:87px;background:linear-gradient(#00ff40 0.5px,#00ff70 17.5px,#00ffc0 31.5px,#00fffe 41.5px,#00a6ff 57.5px,#0089ff 64.5px,#0084ff 86.5px)"></div><div style="left:510px;width:1px;top:228px;height:87px;background:linear-gradient(#00ff3f 0.5px,#00ff6f 17.5px,#00ffba 29.5px,#00fffd 38.5px,#00a5ff 54.5px,#0080ff 64.5px,#007dff 86.5px)"></div><div style="left:511px;width:1px;top:228px;height:87px;background:linear-gradient(#00ff3e 0.5px,#00ff6e 17.5px,#00ffb8 28.5px,#00fffc 36.5px,#009dff 53.5px,#007aff 64.5px,#0077ff 86.5px)"></div><div style="left:512px;width:1px;top:228px;height:87px;background:linear-gradient(#00ff3a 0.5px,#00ff68 16.5px,#00ffb3 27.5px,#00fffb 35.5px,#00dfff 40.5px,#0099ff 52.5px,#007bff 64.5px,#0075ff 86.5px)"></div><div style="left:513px;width:1px;top:228px;height:87px;background:linear-gradient(#00ff36 0.5px,#00ff66 16.5px,#00ffab 26.5px,#00fdff 35.5px,#00beff 44.5px,#0097ff 51.5px,#007dff 64.5px,#0074ff 86.5px)"></div><div style="left:514px;width:1px;top:228px;height:87px;background:linear-gradient(#00ff32 0.5px,#00ff63 16.5px,#00ffab 26.5px,#00fffd 34.5px,#00b7ff 44.5px,#0091ff 51.5px,#007dff 66.5px,#0074ff 86.5px)"></div><div style="left:515px;width:1px;top:228px;height:87px;background:linear-gradient(#00ff30 0.5px,#00ff5e 16.5px,#00ffa6 26.5px,#00fffd 34.5px,#00b1ff 44.5px,#008aff 51.5px,#0079ff 76.5px,#0075ff 86.5px)"></div><div style="left:516px;width:1px;top:228px;height:87px;background:linear-gradient(#00ff2f 0.5px,#00ff60 17.5px,#00ffac 27.5px,#00fffb 34.5px,#00d5ff 39.5px,#00a3ff 46.5px,#0083ff 52.5px,#0076ff 86.5px)"></div><div style="left:517px;width:1px;top:228px;height:87px;background:linear-gradient(#00ff2f 0.5px,#00ff5e 17.5px,#00ffaa 27.5px,#00fffb 34.5px,#00e4ff 37.5px,#00a8ff 45.5px,#0082ff 52.5px,#0076ff 86.5px)"></div><div style="left:518px;width:1px;top:228px;height:87px;background:linear-gradient(#00ff2f 0.5px,#00ff5e 17.5px,#00ffaa 27.5px,#00fffb 34.5px,#00e4ff 37.5px,#00a7ff 45.5px,#0081ff 52.5px,#0076ff 86.5px)"></div><div style="left:519px;width:1px;top:228px;height:87px;background:linear-gradient(#00ff2f 0.5px,#00ff5e 17.5px,#00ffaa 27.5px,#00fffa 34.5px,#00eeff 36.5px,#00a9ff 45.5px,#0083ff 52.5px,#0079ff 86.5px)"></div><div style="left:520px;width:1px;top:228px;height:87px;background:linear-gradient(#00ff2d 0.5px,#00ff5e 17.5px,#00ffa8 27.5px,#00fcff 35.5px,#00b4ff 44.5px,#008aff 52.5px,#0083ff 86.5px)"></div><div style="left:521px;width:1px;top:228px;height:87px;background:linear-gradient(#00ff2b 0.5px,#00ff57 16.5px,#00ff9d 26.5px,#00ffff 35.5px,#00baff 44.5px,#0093ff 51.5px,#008dff 86.5px)"></div><div style="left:522px;width:1px;top:228px;height:87px;background:linear-gradient(#00ff2a 0.5px,#00ff57 16.5px,#00ff9b 26.5px,#00fffd 35.5px,#00b6ff 45.5px,#0096ff 51.5px,#0090ff 86.5px)"></div><div style="left:523px;width:1px;top:228px;height:87px;background:linear-gradient(#00ff2b 0.5px,#00ff57 16.5px,#00ffa6 27.5px,#00fffd 35.5px,#00b6ff 45.5px,#0095ff 51.5px,#008cff 86.5px)"></div><div style="left:524px;width:1px;top:228px;height:87px;background:linear-gradient(#00ff2b 0.5px,#00ff5c 17.5px,#00ffa4 27.5px,#00fffb 35.5px,#00daff 40.5px,#00b0ff 46.5px,#0093ff 52.5px,#0089ff 86.5px)"></div><div style="left:525px;width:1px;top:228px;height:87px;background:linear-gradient(#00ff29 0.5px,#00ff59 17.5px,#00ff9e 27.5px,#00fffc 36.5px,#00b9ff 46.5px,#009aff 52.5px,#008eff 86.5px)"></div><div style="left:526px;width:1px;top:228px;height:87px;background:linear-gradient(#00ff26 0.5px,#00ff55 17.5px,#00ff96 27.5px,#00fff0 36.5px,#00ffff 38.5px,#00cbff 45.5px,#00a6ff 52.5px,#0097ff 86.5px)"></div><div style="left:527px;width:1px;top:228px;height:87px;background:linear-gradient(#00ff23 0.5px,#00ff52 17.5px,#00ff92 27.5px,#00ffea 36.5px,#00feff 39.5px,#00d3ff 45.5px,#00aeff 52.5px,#009bff 86.5px)"></div><div style="left:528px;width:1px;top:228px;height:87px;background:linear-gradient(#00ff21 0.5px,#00ff52 17.5px,#00ff8f 26.5px,#00ffe8 35.5px,#00fffe 38.5px,#00ccff 46.5px,#00b0ff 52.5px,#0091ff 86.5px)"></div><div style="left:529px;width:1px;top:228px;height:87px;background:linear-gradient(#00ff1e 0.5px,#00ff4a 16.5px,#00ff91 25.5px,#00ffdd 32.5px,#00fffd 36.5px,#00cbff 45.5px,#00adff 52.5px,#0092ff 67.5px,#007cff 86.5px)"></div><div style="left:530px;width:1px;top:228px;height:87px;background:linear-gradient(#00ff1e 0.5px,#00ff49 16.5px,#00ff9a 25.5px,#00fff0 32.5px,#00feff 34.5px,#00d2ff 40.5px,#009cff 54.5px,#0083ff 64.5px,#0062ff 86.5px)"></div><div style="left:531px;width:1px;top:228px;height:87px;background:linear-gradient(#00ff21 0.5px,#00ff50 17.5px,#00ffa1 25.5px,#00fdff 32.5px,#00bcff 40.5px,#006fff 63.5px,#0048ff 86.5px)"></div><div style="left:532px;width:1px;top:228px;height:87px;background:linear-gradient(#00ff25 0.5px,#00ff51 17.5px,#00ff6e 20.5px,#00ffb0 26.5px,#00fffa 31.5px,#00e9ff 33.5px,#00a9ff 41.5px,#005eff 64.5px,#0039ff 86.5px)"></div><div style="left:533px;width:1px;top:228px;height:87px;background:linear-gradient(#00ff24 0.5px,#00ff50 17.5px,#00ff6c 20.5px,#00ffae 26.5px,#00fff8 31.5px,#00f8ff 32.5px,#00c9ff 37.5px,#00abff 41.5px,#005eff 64.5px,#0037ff 86.5px)"></div><div style="left:534px;width:1px;top:228px;height:87px;background:linear-gradient(#00ff21 0.5px,#00ff4e 17.5px,#00ffab 26.5px,#00fdff 32.5px,#00baff 40.5px,#0067ff 64.5px,#003dff 86.5px)"></div><div style="left:535px;width:1px;top:228px;height:87px;background:linear-gradient(#00ff1f 0.5px,#00ff4c 17.5px,#00ffa8 26.5px,#00fffc 32.5px,#00bcff 41.5px,#006dff 64.5px,#0042ff 86.5px)"></div><div style="left:536px;width:1px;top:228px;height:87px;background:linear-gradient(#00ff20 0.5px,#00ff4c 17.5px,#00ff66 20.5px,#00ffa5 26.5px,#00fffa 32.5px,#00f0ff 34.5px,#00baff 41.5px,#006cff 64.5px,#0044ff 86.5px)"></div><div style="left:537px;width:1px;top:228px;height:87px;background:linear-gradient(#00ff22 0.5px,#00ff50 18.5px,#00ffa3 26.5px,#00fff9 32.5px,#00f8ff 33.5px,#00b6ff 41.5px,#006bff 64.5px,#0046ff 86.5px)"></div><div style="left:538px;width:1px;top:228px;height:87px;background:linear-gradient(#00ff21 0.5px,#00ff4e 18.5px,#00ffac 27.5px,#00fcff 33.5px,#00b9ff 41.5px,#006eff 64.5px,#004aff 86.5px)"></div><div style="left:539px;width:1px;top:228px;height:87px;background:linear-gradient(#00ff1f 0.5px,#00ff4b 18.5px,#00ffa5 27.5px,#00fffa 33.5px,#00f2ff 35.5px,#00bdff 42.5px,#0074ff 65.5px,#0051ff 86.5px)"></div><div style="left:540px;width:1px;top:228px;height:87px;background:linear-gradient(#00ff1d 0.5px,#00ff48 18.5px,#00ffa0 27.5px,#00fff3 33.5px,#00fffd 34.5px,#00c6ff 42.5px,#007bff 65.5px,#0057ff 86.5px)"></div><div style="left:541px;width:1px;top:228px;height:87px;background:linear-gradient(#00ff1d 0.5px,#00ff48 18.5px,#00ffa2 27.5px,#00fff4 33.5px,#00fffd 34.5px,#00c6ff 42.5px,#007dff 65.5px,#0059ff 86.5px)"></div><div style="left:542px;width:1px;top:228px;height:87px;background:linear-gradient(#00ff1d 0.5px,#00ff4b 18.5px,#00ff9b 26.5px,#00fff9 33.5px,#00f5ff 35.5px,#00c7ff 41.5px,#007dff 64.5px,#005aff 86.5px)"></div><div style="left:543px;width:1px;top:228px;height:87px;background:linear-gradient(#00ff1d 0.5px,#00ff48 17.5px,#00ff94 25.5px,#00fffd 33.5px,#00c5ff 41.5px,#007cff 64.5px,#0059ff 86.5px)"></div><div style="left:544px;width:1px;top:228px;height:87px;background:linear-gradient(#00ff1c 0.5px,#00ff48 17.5px,#00ffa1 26.5px,#00fff3 32.5px,#00fbff 34.5px,#00c8ff 41.5px,#007eff 64.5px,#0059ff 86.5px)"></div><div style="left:545px;width:1px;top:228px;height:87px;background:linear-gradient(#00ff1b 0.5px,#00ff49 17.5px,#00ff96 25.5px,#00fff3 32.5px,#00fcff 34.5px,#00cfff 40.5px,#0081ff 63.5px,#0058ff 86.5px)"></div><div style="left:546px;width:1px;top:228px;height:87px;background:linear-gradient(#00ff1b 0.5px,#00ff47 16.5px,#00ff9d 25.5px,#00ffed 31.5px,#00ffff 33.5px,#00cdff 40.5px,#007fff 63.5px,#0056ff 86.5px)"></div><div style="left:547px;width:1px;top:228px;height:87px;background:linear-gradient(#00ff1c 0.5px,#00ff4c 16.5px,#00ff9a 24.5px,#00fff7 31.5px,#00ffff 32.5px,#00ccff 39.5px,#007cff 62.5px,#0051ff 86.5px)"></div><div style="left:548px;width:1px;top:228px;height:87px;background:linear-gradient(#00ff1d 0.5px,#00ff49 15.5px,#00ffa3 24.5px,#00fff5 30.5px,#00fffd 31.5px,#00c7ff 39.5px,#0078ff 62.5px,#004cff 86.5px)"></div><div style="left:549px;width:1px;top:228px;height:87px;background:linear-gradient(#00ff1d 0.5px,#00ff4a 15.5px,#00ff98 23.5px,#00fff7 30.5px,#00ffff 31.5px,#00caff 38.5px,#0078ff 62.5px,#004cff 86.5px)"></div><div style="left:550px;width:1px;top:228px;height:87px;background:linear-gradient(#00ff1c 0.5px,#00ff49 15.5px,#00ff97 23.5px,#00fff5 30.5px,#00faff 32.5px,#00cdff 38.5px,#007aff 62.5px,#004fff 86.5px)"></div><div style="left:551px;width:1px;top:228px;height:87px;background:linear-gradient(#00ff1c 0.5px,#00ff48 15.5px,#00ff95 23.5px,#00fff4 30.5px,#00faff 32.5px,#00cdff 38.5px,#007bff 62.5px,#0051ff 86.5px)"></div><div style="left:552px;width:1px;top:228px;height:87px;background:linear-gradient(#00ff1d 0.5px,#00ff49 15.5px,#00ff97 23.5px,#00fff7 30.5px,#00feff 31.5px,#00c8ff 38.5px,#0079ff 62.5px,#0054ff 86.5px)"></div><div style="left:553px;width:1px;top:228px;height:87px;background:linear-gradient(#00ff1f 0.5px,#00ff4b 15.5px,#00ffa7 24.5px,#00fffb 30.5px,#00e1ff 34.5px,#00bdff 39.5px,#0075ff 62.5px,#0054ff 86.5px)"></div><div style="left:554px;width:1px;top:228px;height:87px;background:linear-gradient(#00ff22 0.5px,#00ff4d 15.5px,#00ff69 18.5px,#00ffa9 24.5px,#00feff 30.5px,#00b8ff 38.5px,#0075ff 58.5px,#0062ff 68.5px,#004bff 86.5px)"></div><div style="left:555px;width:1px;top:228px;height:87px;background:linear-gradient(#00ff26 0.5px,#00ff54 16.5px,#00ffab 24.5px,#00fff5 29.5px,#00faff 30.5px,#00e2ff 32.5px,#00a6ff 39.5px,#005cff 62.5px,#0038ff 86.5px)"></div><div style="left:556px;width:1px;top:228px;height:87px;background:linear-gradient(#00ff28 0.5px,#00ff55 16.5px,#00ffbc 25.5px,#00fff9 29.5px,#00f6ff 30.5px,#00dcff 32.5px,#009dff 39.5px,#004dff 63.5px,#0028ff 86.5px)"></div><div style="left:557px;width:1px;top:228px;height:87px;background:linear-gradient(#00ff28 0.5px,#00ff56 16.5px,#00ffb0 24.5px,#00fffb 29.5px,#00dbff 32.5px,#009dff 39.5px,#004dff 63.5px,#0027ff 86.5px)"></div><div style="left:558px;width:1px;top:228px;height:87px;background:linear-gradient(#00ff26 0.5px,#00ff51 15.5px,#00ff6e 18.5px,#00ffb1 24.5px,#00fffc 29.5px,#00deff 32.5px,#00a3ff 39.5px,#0056ff 62.5px,#002eff 86.5px)"></div><div style="left:559px;width:1px;top:228px;height:87px;background:linear-gradient(#00ff24 0.5px,#00ff50 15.5px,#00ffb2 24.5px,#00fffb 29.5px,#00c7ff 35.5px,#00a8ff 39.5px,#005bff 62.5px,#0032ff 86.5px)"></div><div style="left:560px;width:1px;top:228px;height:87px;background:linear-gradient(#00ff23 0.5px,#00ff54 16.5px,#00ffb1 24.5px,#00fffb 29.5px,#00d0ff 34.5px,#00aaff 39.5px,#005cff 62.5px,#0030ff 86.5px)"></div><div style="left:561px;width:1px;top:228px;height:87px;background:linear-gradient(#00ff23 0.5px,#00ff50 16.5px,#00ffa5 23.5px,#00fff4 28.5px,#00feff 29.5px,#00d5ff 33.5px,#00a9ff 39.5px,#0077ff 53.5px,#0055ff 65.5px,#002cff 86.5px)"></div><div style="left:562px;width:1px;top:228px;height:87px;background:linear-gradient(#00ff22 0.5px,#00ff4e 16.5px,#00ff63 18.5px,#00ffa6 23.5px,#00fffc 28.5px,#00b8ff 36.5px,#0089ff 46.5px,#0057ff 65.5px,#002fff 86.5px)"></div><div style="left:563px;width:1px;top:228px;height:87px;background:linear-gradient(#00ff22 0.5px,#00ff4d 16.5px,#00ff53 17.5px,#00ffa6 23.5px,#00feff 28.5px,#00b6ff 36.5px,#0086ff 47.5px,#0058ff 67.5px,#0038ff 86.5px)"></div><div style="left:564px;width:1px;top:228px;height:87px;background:linear-gradient(#00ff21 0.5px,#00ff51 17.5px,#00ffa5 23.5px,#00ffff 28.5px,#00b7ff 36.5px,#0087ff 47.5px,#005cff 67.5px,#003dff 86.5px)"></div><div style="left:565px;width:1px;top:228px;height:87px;background:linear-gradient(#00ff22 0.5px,#00ff4d 16.5px,#00ff53 17.5px,#00ffa7 23.5px,#00fcff 28.5px,#00b5ff 36.5px,#0085ff 47.5px,#0055ff 67.5px,#0033ff 86.5px)"></div><div style="left:566px;width:1px;top:228px;height:87px;background:linear-gradient(#00ff22 0.5px,#00ff4e 16.5px,#00ff65 18.5px,#00ffac 23.5px,#00fff5 27.5px,#00f7ff 28.5px,#00b2ff 36.5px,#0082ff 47.5px,#004bff 67.5px,#0022ff 86.5px)"></div><div style="left:567px;width:1px;top:228px;height:87px;background:linear-gradient(#00ff22 0.5px,#00ff4e 16.5px,#00ff9d 22.5px,#00fff6 27.5px,#00f8ff 28.5px,#00b4ff 36.5px,#0087ff 46.5px,#004bff 67.5px,#0020ff 86.5px)"></div><div style="left:568px;width:1px;top:228px;height:87px;background:linear-gradient(#00ff1e 0.5px,#00ff49 16.5px,#00ff6d 19.5px,#00ffa5 23.5px,#00fffc 28.5px,#00c1ff 36.5px,#0095ff 46.5px,#0062ff 67.5px,#003fff 86.5px)"></div><div style="left:569px;width:1px;top:228px;height:87px;background:linear-gradient(#00ff1a 0.5px,#00ff45 16.5px,#00ff59 18.5px,#00ff9b 23.5px,#00fff0 28.5px,#00fdff 30.5px,#00d0ff 36.5px,#00a2ff 47.5px,#007cff 67.5px,#0062ff 86.5px)"></div><div style="left:570px;width:1px;top:228px;height:87px;background:linear-gradient(#00ff1a 0.5px,#00ff47 17.5px,#00ff93 23.5px,#00ffe8 28.5px,#00fffb 30.5px,#00dcff 35.5px,#00a6ff 47.5px,#0083ff 68.5px,#006eff 86.5px)"></div><div style="left:571px;width:1px;top:228px;height:87px;background:linear-gradient(#00ff1c 0.5px,#00ff47 17.5px,#00ff5b 19.5px,#00ff9e 24.5px,#00fff3 29.5px,#00fffd 30.5px,#00cbff 37.5px,#009fff 47.5px,#0079ff 68.5px,#0061ff 86.5px)"></div><div style="left:572px;width:1px;top:228px;height:87px;background:linear-gradient(#00ff1e 0.5px,#00ff4b 18.5px,#00ff98 24.5px,#00fffe 30.5px,#00c1ff 38.5px,#0095ff 48.5px,#006cff 69.5px,#0052ff 86.5px)"></div><div style="left:573px;width:1px;top:228px;height:87px;background:linear-gradient(#00ff1d 0.5px,#00ff48 18.5px,#00ff5c 20.5px,#00ffa0 25.5px,#00fff7 30.5px,#00feff 31.5px,#00c6ff 38.5px,#0097ff 49.5px,#006fff 69.5px,#0054ff 86.5px)"></div><div style="left:574px;width:1px;top:228px;height:87px;background:linear-gradient(#00ff1b 0.5px,#00ff49 19.5px,#00ff97 25.5px,#00ffed 30.5px,#00feff 32.5px,#00cbff 39.5px,#00a0ff 49.5px,#0078ff 69.5px,#005cff 86.5px)"></div><div style="left:575px;width:1px;top:228px;height:87px;background:linear-gradient(#00ff1a 0.5px,#00ff48 19.5px,#00ff96 25.5px,#00ffeb 30.5px,#00fffd 32.5px,#00ceff 39.5px,#00a3ff 49.5px,#007aff 69.5px,#005fff 86.5px)"></div><div style="left:576px;width:1px;top:228px;height:87px;background:linear-gradient(#00ff1c 0.5px,#00ff49 18.5px,#00ff95 24.5px,#00ffea 29.5px,#00fdff 31.5px,#00c8ff 38.5px,#009cff 48.5px,#006fff 69.5px,#0052ff 86.5px)"></div><div style="left:577px;width:1px;top:228px;height:87px;background:linear-gradient(#00ff1e 0.5px,#00ff4a 17.5px,#00ff97 23.5px,#00fffc 29.5px,#00c1ff 37.5px,#0092ff 48.5px,#0064ff 68.5px,#0043ff 86.5px)"></div><div style="left:578px;width:1px;top:228px;height:87px;background:linear-gradient(#00ff1e 0.5px,#00ff4d 17.5px,#00ff9d 23.5px,#00fff5 28.5px,#00feff 29.5px,#00c4ff 36.5px,#0095ff 47.5px,#0064ff 67.5px,#0041ff 86.5px)"></div><div style="left:579px;width:1px;top:228px;height:87px;background:linear-gradient(#00ff1b 0.5px,#00ff4a 17.5px,#00ff99 23.5px,#00ffef 28.5px,#00fdff 30.5px,#00ceff 36.5px,#009fff 47.5px,#006fff 67.5px,#004cff 86.5px)"></div><div style="left:580px;width:1px;top:228px;height:87px;background:linear-gradient(#00ff19 0.5px,#00ff49 17.5px,#00ff96 23.5px,#00ffeb 28.5px,#00fffc 30.5px,#00d1ff 37.5px,#00a7ff 47.5px,#0078ff 67.5px,#0057ff 86.5px)"></div><div style="left:581px;width:1px;top:228px;height:87px;background:linear-gradient(#00ff1c 0.5px,#00ff46 16.5px,#00ff5c 18.5px,#00ff9f 23.5px,#00fff4 28.5px,#00fffd 29.5px,#00cbff 36.5px,#009dff 47.5px,#0072ff 67.5px,#0054ff 86.5px)"></div><div style="left:582px;width:1px;top:228px;height:87px;background:linear-gradient(#00ff20 0.5px,#00ff4c 16.5px,#00ff9b 22.5px,#00fff3 27.5px,#00fcff 28.5px,#00baff 36.5px,#008eff 46.5px,#0065ff 67.5px,#004bff 86.5px)"></div><div style="left:583px;width:1px;top:228px;height:87px;background:linear-gradient(#00ff22 0.5px,#00ff4f 16.5px,#00ffa1 22.5px,#00fffc 27.5px,#00b6ff 35.5px,#0084ff 46.5px,#005fff 66.5px,#0046ff 86.5px)"></div><div style="left:584px;width:1px;top:228px;height:87px;background:linear-gradient(#00ff20 0.5px,#00ff4d 16.5px,#00ff9e 22.5px,#00fff8 27.5px,#00f8ff 28.5px,#00b6ff 36.5px,#008aff 46.5px,#0063ff 67.5px,#004bff 86.5px)"></div><div style="left:585px;width:1px;top:228px;height:87px;background:linear-gradient(#00ff1d 0.5px,#00ff49 16.5px,#00ff98 22.5px,#00ffff 28.5px,#00bbff 36.5px,#0090ff 46.5px,#0069ff 67.5px,#0050ff 86.5px)"></div><div style="left:586px;width:1px;top:228px;height:87px;background:linear-gradient(#00ff1c 0.5px,#00ff46 16.5px,#00ff4d 17.5px,#00ffa3 23.5px,#00fffb 28.5px,#00e4ff 31.5px,#00b7ff 36.5px,#0095ff 43.5px,#0083ff 50.5px,#0060ff 72.5px,#004eff 86.5px)"></div><div style="left:587px;width:1px;top:228px;height:87px;background:linear-gradient(#00ff1d 0.5px,#00ff49 17.5px,#00ff60 19.5px,#00ffc1 25.5px,#00fff8 28.5px,#00f6ff 29.5px,#00acff 36.5px,#008bff 41.5px,#0075ff 49.5px,#004aff 81.5px,#0044ff 86.5px)"></div><div style="left:588px;width:1px;top:228px;height:87px;background:linear-gradient(#00ff1d 0.5px,#00ff47 17.5px,#00ff4b 18.5px,#00ff65 20.5px,#00ffcb 26.5px,#00fcff 29.5px,#00b0ff 35.5px,#008cff 39.5px,#0076ff 43.5px,#0063ff 53.5px,#003dff 86.5px)"></div><div style="left:589px;width:1px;top:228px;height:87px;background:linear-gradient(#00ff1a 0.5px,#00ff40 17.5px,#00ff48 19.5px,#00ff5f 21.5px,#00ff9e 25.5px,#00fff9 30.5px,#00f5ff 31.5px,#00a8ff 37.5px,#007dff 42.5px,#006bff 47.5px,#0042ff 86.5px)"></div><div style="left:590px;width:1px;top:228px;height:87px;background:linear-gradient(#00ff16 0.5px,#00ff35 17.5px,#00ff44 21.5px,#00ff55 23.5px,#00ff82 26.5px,#00fffe 33.5px,#00afff 39.5px,#0081ff 44.5px,#006fff 48.5px,#0049ff 86.5px)"></div><div style="left:591px;width:1px;top:228px;height:87px;background:linear-gradient(#00ff11 0.5px,#00ff26 16.5px,#00ff39 22.5px,#00ff4d 25.5px,#00ffff 35.5px,#00a1ff 42.5px,#0070ff 48.5px,#004fff 82.5px,#004aff 86.5px)"></div><div style="left:592px;width:1px;top:228px;height:87px;background:linear-gradient(#00ff07 0.5px,#00ff1a 17.5px,#00ff26 20.5px,#00ff59 25.5px,#00ffba 30.5px,#00fffb 34.5px,#00cbff 38.5px,#0096ff 43.5px,#006fff 48.5px,#004cff 80.5px,#0043ff 86.5px)"></div><div style="left:593px;width:1px;top:228px;height:87px;background:linear-gradient(#08ff00 0.5px,#00ff04 15.5px,#00ff07 17.5px,#00ff0d 18.5px,#00ff2c 20.5px,#00ff8f 25.5px,#00ffd2 28.5px,#00fff4 30.5px,#00fcff 31.5px,#00b8ff 36.5px,#0082ff 43.5px,#0066ff 48.5px,#0046ff 78.5px,#0039ff 86.5px)"></div><div style="left:594px;width:1px;top:228px;height:87px;background:linear-gradient(#12ff00 0.5px,#07ff00 16.5px,#00ff00 17.5px,#00ff2e 19.5px,#00ffe9 26.5px,#00faff 27.5px,#00d3ff 29.5px,#0096ff 33.5px,#0077ff 36.5px,#0040ff 46.5px,#0039ff 53.5px,#0038ff 72.5px,#0028ff 86.5px)"></div><div style="left:595px;width:1px;top:228px;height:87px;background:linear-gradient(#17ff00 0.5px,#0cff00 15.5px,#03ff00 16.5px,#00ff16 17.5px,#00ffed 24.5px,#00f0ff 25.5px,#00b2ff 27.5px,#0083ff 29.5px,#004aff 32.5px,#0023ff 36.5px,#000bff 40.5px,#0200ff 43.5px,#0e00ff 47.5px,#0300ff 57.5px,#0012ff 66.5px,#0017ff 77.5px,#0011ff 86.5px)"></div><div style="left:596px;width:1px;top:228px;height:87px;background:linear-gradient(#19ff00 0.5px,#0eff00 14.5px,#05ff00 15.5px,#00ff17 16.5px,#00feff 23.5px,#006cff 27.5px,#0020ff 30.5px,#000bff 31.5px,#0200ff 32.5px,#3400ff 37.5px,#5500ff 45.5px,#4300ff 55.5px,#1500ff 64.5px,#0200ff 76.5px,#0300ff 86.5px)"></div><div style="left:597px;width:1px;top:228px;height:87px;background:linear-gradient(#19ff00 0.5px,#0fff00 13.5px,#09ff00 14.5px,#00ff12 15.5px,#00feff 22.5px,#0065ff 26.5px,#0011ff 29.5px,#0700ff 30.5px,#3b00ff 34.5px,#5b00ff 37.5px,#7300ff 44.5px,#5f00ff 55.5px,#2000ff 64.5px,#0800ff 75.5px,#0800ff 86.5px)"></div><div style="left:598px;width:1px;top:228px;height:87px;background:linear-gradient(#1aff00 0.5px,#10ff00 12.5px,#0bff00 13.5px,#00ff0a 14.5px,#00fff8 21.5px,#00e2ff 22.5px,#006eff 25.5px,#0013ff 28.5px,#0600ff 29.5px,#3700ff 32.5px,#7300ff 37.5px,#8100ff 44.5px,#7600ff 54.5px,#3900ff 61.5px,#1f00ff 64.5px,#0700ff 74.5px,#0700ff 86.5px)"></div><div style="left:599px;width:1px;top:228px;height:87px;background:linear-gradient(#1aff00 0.5px,#10ff00 12.5px,#00ff01 13.5px,#00ff64 16.5px,#00ffea 20.5px,#00f1ff 21.5px,#0059ff 25.5px,#0000ff 28.5px,#4800ff 32.5px,#8000ff 36.5px,#8800ff 37.5px,#8b00ff 47.5px,#8800ff 53.5px,#7a00ff 55.5px,#4700ff 60.5px,#2300ff 63.5px,#1900ff 65.5px,#0500ff 74.5px,#0500ff 86.5px)"></div><div style="left:600px;width:1px;top:228px;height:87px;background:linear-gradient(#1bff00 0.5px,#0eff00 12.5px,#00ff0f 13.5px,#00fff9 20.5px,#00dfff 21.5px,#006bff 24.5px,#000dff 27.5px,#0b00ff 28.5px,#5300ff 32.5px,#8e00ff 36.5px,#9000ff 53.5px,#5200ff 59.5px,#1d00ff 63.5px,#0300ff 73.5px,#0300ff 86.5px)"></div><div style="left:601px;width:1px;top:228px;height:87px;background:linear-gradient(#1cff00 0.5px,#11ff00 11.5px,#08ff00 12.5px,#00ff19 13.5px,#00ffe3 19.5px,#00f9ff 20.5px,#0060ff 24.5px,#0004ff 27.5px,#3700ff 30.5px,#8500ff 35.5px,#9000ff 36.5px,#8f00ff 53.5px,#4d00ff 59.5px,#1800ff 63.5px,#0000ff 73.5px,#0000ff 86.5px)"></div><div style="left:602px;width:1px;top:228px;height:87px;background:linear-gradient(#1cff00 0.5px,#11ff00 11.5px,#03ff00 12.5px,#00ffe9 19.5px,#00f2ff 20.5px,#005aff 24.5px,#0100ff 27.5px,#4c00ff 31.5px,#8700ff 35.5px,#9000ff 36.5px,#9000ff 52.5px,#8c00ff 53.5px,#5700ff 58.5px,#2000ff 62.5px,#1700ff 63.5px,#0000ff 72.5px,#0000ff 86.5px)"></div><div style="left:603px;width:1px;top:228px;height:87px;background:linear-gradient(#1cff00 0.5px,#11ff00 11.5px,#00ff00 12.5px,#00ffec 19.5px,#00efff 20.5px,#0058ff 24.5px,#001aff 26.5px,#0300ff 27.5px,#4d00ff 31.5px,#8900ff 35.5px,#9100ff 36.5px,#9100ff 52.5px,#8100ff 54.5px,#5700ff 58.5px,#2000ff 62.5px,#1400ff 64.5px,#0000ff 72.5px,#0000ff 86.5px)"></div><div style="left:604px;width:1px;top:228px;height:87px;background:linear-gradient(#1bff00 0.5px,#11ff00 11.5px,#02ff00 12.5px,#00ffea 19.5px,#00f1ff 20.5px,#0059ff 24.5px,#0100ff 27.5px,#4b00ff 31.5px,#8500ff 35.5px,#8e00ff 36.5px,#8e00ff 52.5px,#8000ff 54.5px,#4900ff 59.5px,#2100ff 62.5px,#1800ff 63.5px,#0100ff 73.5px,#0100ff 86.5px)"></div><div style="left:605px;width:1px;top:228px;height:87px;background:linear-gradient(#1bff00 0.5px,#10ff00 11.5px,#07ff00 12.5px,#00ff1a 13.5px,#00ffe4 19.5px,#00f8ff 20.5px,#005fff 24.5px,#0006ff 27.5px,#2100ff 29.5px,#5e00ff 33.5px,#8300ff 36.5px,#8700ff 45.5px,#8000ff 53.5px,#4500ff 59.5px,#1a00ff 63.5px,#0400ff 73.5px,#0400ff 86.5px)"></div><div style="left:606px;width:1px;top:228px;height:87px;background:linear-gradient(#1aff00 0.5px,#0dff00 12.5px,#00ff0f 13.5px,#00fffb 20.5px,#00b7ff 22.5px,#0069ff 24.5px,#0011ff 27.5px,#0700ff 28.5px,#4400ff 32.5px,#7200ff 36.5px,#7f00ff 43.5px,#7300ff 53.5px,#1d00ff 63.5px,#0600ff 73.5px,#0600ff 86.5px)"></div><div style="left:607px;width:1px;top:228px;height:87px;background:linear-gradient(#1aff00 0.5px,#0fff00 12.5px,#00ff01 13.5px,#00ff64 16.5px,#00ffea 20.5px,#00f0ff 21.5px,#007cff 24.5px,#0059ff 25.5px,#0007ff 28.5px,#0d00ff 29.5px,#5600ff 35.5px,#6700ff 38.5px,#7400ff 43.5px,#6400ff 53.5px,#1e00ff 63.5px,#0600ff 74.5px,#0600ff 86.5px)"></div><div style="left:608px;width:1px;top:228px;height:87px;background:linear-gradient(#1bff00 0.5px,#11ff00 12.5px,#0dff00 13.5px,#00ff09 14.5px,#00fff5 21.5px,#00e4ff 22.5px,#0071ff 25.5px,#0037ff 27.5px,#0005ff 29.5px,#1700ff 31.5px,#4900ff 36.5px,#6400ff 43.5px,#4f00ff 54.5px,#1c00ff 62.5px,#0200ff 74.5px,#0200ff 86.5px)"></div><div style="left:609px;width:1px;top:228px;height:87px;background:linear-gradient(#1cff00 0.5px,#12ff00 13.5px,#0cff00 14.5px,#00ff0f 15.5px,#00fffb 22.5px,#00b7ff 24.5px,#006cff 26.5px,#0006ff 30.5px,#1100ff 32.5px,#3800ff 36.5px,#5a00ff 44.5px,#3f00ff 55.5px,#1400ff 63.5px,#0003ff 74.5px,#0003ff 86.5px)"></div><div style="left:610px;width:1px;top:228px;height:87px;background:linear-gradient(#1dff00 0.5px,#13ff00 14.5px,#09ff00 15.5px,#00ff12 16.5px,#00fffd 23.5px,#006bff 27.5px,#001cff 30.5px,#0007ff 31.5px,#0600ff 32.5px,#3500ff 37.5px,#5600ff 45.5px,#4000ff 55.5px,#1100ff 64.5px,#0002ff 73.5px,#0005ff 86.5px)"></div><div style="left:611px;width:1px;top:228px;height:87px;background:linear-gradient(#1cff00 0.5px,#12ff00 15.5px,#09ff00 16.5px,#00ff12 17.5px,#00fffc 24.5px,#006dff 28.5px,#001eff 31.5px,#0008ff 32.5px,#0500ff 33.5px,#3500ff 38.5px,#5700ff 46.5px,#4100ff 56.5px,#1200ff 65.5px,#0003ff 75.5px,#0004ff 86.5px)"></div><div style="left:612px;width:1px;top:228px;height:87px;background:linear-gradient(#1bff00 0.5px,#11ff00 16.5px,#09ff00 17.5px,#00ff0f 18.5px,#00fff1 25.5px,#00e9ff 26.5px,#007dff 29.5px,#0030ff 32.5px,#001cff 33.5px,#0004ff 35.5px,#2800ff 40.5px,#4500ff 47.5px,#3400ff 57.5px,#0b00ff 66.5px,#0002ff 73.5px,#0008ff 78.5px,#0007ff 86.5px)"></div><div style="left:613px;width:1px;top:228px;height:87px;background:linear-gradient(#18ff00 0.5px,#0eff00 17.5px,#07ff00 18.5px,#00ff09 19.5px,#00ff3f 21.5px,#00ffef 27.5px,#00f0ff 28.5px,#00b5ff 30.5px,#0087ff 32.5px,#0064ff 34.5px,#0026ff 40.5px,#0004ff 47.5px,#0300ff 54.5px,#0003ff 59.5px,#0019ff 68.5px,#001fff 78.5px,#001aff 86.5px)"></div><div style="left:614px;width:1px;top:228px;height:87px;background:linear-gradient(#14ff00 0.5px,#0aff00 18.5px,#00ff02 20.5px,#00ff5e 24.5px,#00ffee 30.5px,#00faff 31.5px,#00d5ff 33.5px,#00a4ff 37.5px,#0075ff 42.5px,#004dff 51.5px,#0040ff 57.5px,#0041ff 73.5px,#0032ff 86.5px)"></div><div style="left:615px;width:1px;top:228px;height:87px;background:linear-gradient(#0fff00 0.5px,#03ff00 18.5px,#00ff00 20.5px,#00ff11 22.5px,#00ff7b 28.5px,#00ffda 33.5px,#00fdff 36.5px,#00c5ff 41.5px,#00a8ff 45.5px,#006bff 57.5px,#0056ff 77.5px,#0047ff 86.5px)"></div><div style="left:616px;width:1px;top:228px;height:87px;background:linear-gradient(#09ff00 0.5px,#00ff03 16.5px,#00ff11 22.5px,#00ff3d 27.5px,#00ffb6 34.5px,#00fffd 39.5px,#00d2ff 44.5px,#007bff 57.5px,#0064ff 77.5px,#0055ff 86.5px)"></div><div style="left:617px;width:1px;top:228px;height:87px;background:linear-gradient(#05ff00 0.5px,#00ff05 14.5px,#00ff21 24.5px,#00ff31 27.5px,#00fff2 39.5px,#00feff 40.5px,#007fff 57.5px,#0069ff 78.5px,#005dff 86.5px)"></div><div style="left:618px;width:1px;top:228px;height:87px;background:linear-gradient(#04ff00 0.5px,#00ff0d 14.5px,#00ff2b 23.5px,#00ff43 26.5px,#00ffbd 34.5px,#00fffd 39.5px,#0096ff 55.5px,#008dff 60.5px,#0075ff 84.5px,#0073ff 86.5px)"></div><div style="left:619px;width:1px;top:228px;height:87px;background:linear-gradient(#02ff00 0.5px,#00ff24 16.5px,#00ff39 20.5px,#00ff49 22.5px,#00ffab 28.5px,#00ffdb 32.5px,#00fffb 37.5px,#00ecff 43.5px,#00c9ff 55.5px,#00b6ff 86.5px)"></div><div style="left:620px;width:1px;top:228px;height:87px;background:linear-gradient(#00ff01 0.5px,#00ff37 16.5px,#00ff47 18.5px,#00ff54 19.5px,#00ffb3 24.5px,#00ffe8 28.5px,#00fff7 31.5px,#00fcff 36.5px,#00ecff 60.5px,#00e4ff 86.5px)"></div><div style="left:621px;width:1px;top:228px;height:87px;background:linear-gradient(#00ff01 0.5px,#00ff43 16.5px,#00ff7c 19.5px,#00ffaa 21.5px,#00ffe6 25.5px,#00fff2 26.5px,#00fffe 30.5px,#00f6ff 63.5px,#00f4ff 86.5px)"></div><div style="left:622px;width:1px;top:228px;height:87px;background:linear-gradient(#00ff00 0.5px,#00ff40 15.5px,#00ff4d 16.5px,#00ffa9 20.5px,#00ffc9 22.5px,#00fff1 25.5px,#00fff8 26.5px,#00fdff 43.5px,#00ffff 86.5px)"></div><div style="left:623px;width:1px;top:228px;height:87px;background:linear-gradient(#02ff00 0.5px,#00ff42 15.5px,#00ffb2 20.5px,#00fff3 25.5px,#00fffb 50.5px,#00fff7 86.5px)"></div><div style="left:624px;width:1px;top:228px;height:87px;background:linear-gradient(#06ff00 0.5px,#00ff0c 4.5px,#00ff37 14.5px,#00ff42 15.5px,#00ffaf 20.5px,#00ffeb 25.5px,#00fff7 39.5px,#00fbff 74.5px,#00f9ff 86.5px)"></div><div style="left:625px;width:1px;top:228px;height:87px;background:linear-gradient(#0cff00 0.5px,#00ff03 4.5px,#00ff28 14.5px,#00ff35 15.5px,#00ff9b 20.5px,#00ffd1 24.5px,#00ffee 29.5px,#00fdff 33.5px,#00f6ff 36.5px,#00e0ff 57.5px,#00ceff 70.5px,#00c4ff 86.5px)"></div><div style="left:626px;width:1px;top:228px;height:87px;background:linear-gradient(#10ff00 0.5px,#00ff01 6.5px,#00ff18 14.5px,#00ff20 15.5px,#00ff91 21.5px,#00ffc9 25.5px,#00fffa 30.5px,#00f2ff 32.5px,#00d9ff 35.5px,#00b5ff 56.5px,#0095ff 68.5px,#0083ff 86.5px)"></div><div style="left:627px;width:1px;top:228px;height:87px;background:linear-gradient(#0eff00 0.5px,#00ff03 8.5px,#00ff14 15.5px,#00ff1b 16.5px,#00ff9f 23.5px,#00ffff 30.5px,#00baff 36.5px,#008aff 58.5px,#0069ff 68.5px,#0055ff 86.5px)"></div><div style="left:628px;width:1px;top:228px;height:87px;background:linear-gradient(#0bff00 0.5px,#00ff05 8.5px,#00ff16 16.5px,#00ff1c 17.5px,#00ffa7 24.5px,#00fffe 30.5px,#00a6ff 37.5px,#007aff 58.5px,#0055ff 69.5px,#0043ff 86.5px)"></div><div style="left:629px;width:1px;top:228px;height:87px;background:linear-gradient(#0bff00 0.5px,#00ff05 8.5px,#00ff18 17.5px,#00ffa5 24.5px,#00fffd 30.5px,#00a5ff 37.5px,#0077ff 59.5px,#0057ff 69.5px,#0047ff 86.5px)"></div><div style="left:630px;width:1px;top:228px;height:87px;background:linear-gradient(#0cff00 0.5px,#00ff04 8.5px,#00ff18 17.5px,#00ffa4 24.5px,#00fffa 30.5px,#00e9ff 32.5px,#00a9ff 37.5px,#007eff 59.5px,#0061ff 69.5px,#0054ff 86.5px)"></div><div style="left:631px;width:1px;top:228px;height:87px;background:linear-gradient(#0eff00 0.5px,#00ff02 8.5px,#00ff12 16.5px,#00ff18 17.5px,#00ffa2 24.5px,#00fff7 30.5px,#00f9ff 31.5px,#00afff 37.5px,#0086ff 59.5px,#006aff 69.5px,#0060ff 86.5px)"></div><div style="left:632px;width:1px;top:228px;height:87px;background:linear-gradient(#10ff00 0.5px,#00ff03 9.5px,#00ff11 16.5px,#00ff1a 17.5px,#00ffa2 24.5px,#00fff5 30.5px,#00fbff 31.5px,#00bdff 36.5px,#00b5ff 37.5px,#008cff 59.5px,#0071ff 69.5px,#0066ff 86.5px)"></div><div style="left:633px;width:1px;top:228px;height:87px;background:linear-gradient(#11ff00 0.5px,#00ff03 10.5px,#00ff0f 16.5px,#00ff1b 17.5px,#00ffa0 24.5px,#00ffff 31.5px,#00c2ff 36.5px,#00b9ff 39.5px,#0095ff 58.5px,#0076ff 68.5px,#006aff 86.5px)"></div><div style="left:634px;width:1px;top:228px;height:87px;background:linear-gradient(#13ff00 0.5px,#00ff04 11.5px,#00ff0d 16.5px,#00ff17 17.5px,#00ff9b 24.5px,#00fff9 31.5px,#00edff 33.5px,#00c9ff 36.5px,#00c0ff 38.5px,#009aff 58.5px,#0079ff 69.5px,#006cff 86.5px)"></div><div style="left:635px;width:1px;top:228px;height:87px;background:linear-gradient(#13ff00 0.5px,#00ff02 11.5px,#00ff0f 17.5px,#00ff93 24.5px,#00fffe 32.5px,#00c6ff 37.5px,#009aff 59.5px,#007bff 69.5px,#006cff 86.5px)"></div><div style="left:636px;width:1px;top:228px;height:87px;background:linear-gradient(#14ff00 0.5px,#00ff03 12.5px,#00ff0c 17.5px,#00ff2d 19.5px,#00ff8c 24.5px,#00fff8 32.5px,#00faff 33.5px,#00cbff 37.5px,#009dff 59.5px,#007cff 69.5px,#006dff 86.5px)"></div><div style="left:637px;width:1px;top:228px;height:87px;background:linear-gradient(#14ff00 0.5px,#00ff03 12.5px,#00ff0c 17.5px,#00ff18 18.5px,#00ff8b 24.5px,#00fff7 32.5px,#00fbff 33.5px,#00ccff 37.5px,#00c0ff 42.5px,#009eff 59.5px,#007fff 69.5px,#0072ff 86.5px)"></div><div style="left:638px;width:1px;top:228px;height:87px;background:linear-gradient(#13ff00 0.5px,#00ff04 12.5px,#00ff0d 17.5px,#00ff2e 19.5px,#00ff8e 24.5px,#00fffa 32.5px,#00edff 34.5px,#00c9ff 37.5px,#009cff 60.5px,#0082ff 69.5px,#0078ff 86.5px)"></div><div style="left:639px;width:1px;top:228px;height:87px;background:linear-gradient(#12ff00 0.5px,#00ff04 11.5px,#00ff13 17.5px,#00ff98 24.5px,#00fff7 31.5px,#00fbff 32.5px,#00c1ff 37.5px,#009aff 59.5px,#0080ff 69.5px,#0079ff 86.5px)"></div><div style="left:640px;width:1px;top:228px;height:87px;background:linear-gradient(#0fff00 0.5px,#00ff04 9.5px,#00ff15 16.5px,#00ff38 18.5px,#00ff9a 23.5px,#00fffd 30.5px,#00b7ff 36.5px,#009eff 49.5px,#008cff 59.5px,#0075ff 68.5px,#006fff 86.5px)"></div><div style="left:641px;width:1px;top:228px;height:87px;background:linear-gradient(#0cff00 0.5px,#00ff03 7.5px,#00ff14 15.5px,#00ff21 16.5px,#00ffaa 23.5px,#00fdff 29.5px,#00b2ff 35.5px,#00a7ff 38.5px,#0084ff 58.5px,#006cff 68.5px,#0067ff 86.5px)"></div><div style="left:642px;width:1px;top:228px;height:87px;background:linear-gradient(#0fff00 0.5px,#00ff02 8.5px,#00ff11 15.5px,#00ff1f 16.5px,#00ff99 22.5px,#00fffe 29.5px,#00bfff 35.5px,#0091ff 58.5px,#007bff 67.5px,#0074ff 86.5px)"></div><div style="left:643px;width:1px;top:228px;height:87px;background:linear-gradient(#18ff00 0.5px,#00ff02 12.5px,#00ff08 15.5px,#00ff0e 16.5px,#00ff98 23.5px,#00fff4 30.5px,#00fbff 32.5px,#00e3ff 36.5px,#00ccff 51.5px,#00a6ff 64.5px,#0096ff 86.5px)"></div><div style="left:644px;width:1px;top:228px;height:87px;background:linear-gradient(#20ff00 0.5px,#00ff01 16.5px,#00ff0e 17.5px,#00ff87 23.5px,#00ffe1 30.5px,#00ffee 33.5px,#00fffc 41.5px,#00f6ff 50.5px,#00cbff 62.5px,#00b5ff 86.5px)"></div><div style="left:645px;width:1px;top:228px;height:87px;background:linear-gradient(#22ff00 0.5px,#00ff01 16.5px,#00ff25 18.5px,#00ff8d 23.5px,#00ffe7 30.5px,#00fff9 37.5px,#00fbff 45.5px,#00f1ff 51.5px,#00ccff 62.5px,#00b6ff 86.5px)"></div><div style="left:646px;width:1px;top:228px;height:87px;background:linear-gradient(#23ff00 0.5px,#00ff02 15.5px,#00ff0a 16.5px,#00ff8e 22.5px,#00ffd9 27.5px,#00fffc 30.5px,#00e8ff 36.5px,#00dbff 44.5px,#00d3ff 51.5px,#00baff 63.5px,#00a6ff 86.5px)"></div><div style="left:647px;width:1px;top:228px;height:87px;background:linear-gradient(#23ff00 0.5px,#00ff03 14.5px,#00ff05 15.5px,#00ff13 16.5px,#00ff9e 22.5px,#00fff9 28.5px,#00efff 30.5px,#00caff 35.5px,#00b9ff 42.5px,#00a9ff 65.5px,#00a0ff 79.5px,#0099ff 86.5px)"></div><div style="left:648px;width:1px;top:228px;height:87px;background:linear-gradient(#25ff00 0.5px,#00ff03 14.5px,#00ff05 15.5px,#00ff12 16.5px,#00ffa3 22.5px,#00fff4 27.5px,#00fcff 28.5px,#00b4ff 35.5px,#00a0ff 41.5px,#00a3ff 64.5px,#00a4ff 74.5px,#009aff 86.5px)"></div><div style="left:649px;width:1px;top:228px;height:87px;background:linear-gradient(#26ff00 0.5px,#00ff02 14.5px,#00ff0d 16.5px,#00ffa0 22.5px,#00fff3 27.5px,#00fbff 28.5px,#00aeff 34.5px,#0099ff 37.5px,#008fff 42.5px,#0091ff 53.5px,#00a5ff 72.5px,#009eff 86.5px)"></div><div style="left:650px;width:1px;top:228px;height:87px;background:linear-gradient(#26ff00 0.5px,#00ff01 14.5px,#00ff07 16.5px,#00ff99 22.5px,#00fdff 28.5px,#00aeff 33.5px,#008eff 36.5px,#0084ff 38.5px,#007fff 46.5px,#0083ff 53.5px,#00a4ff 71.5px,#00a0ff 86.5px)"></div><div style="left:651px;width:1px;top:228px;height:87px;background:linear-gradient(#26ff00 0.5px,#00ff02 15.5px,#00ff05 16.5px,#00ff14 17.5px,#00ff90 22.5px,#00fffc 28.5px,#0098ff 34.5px,#0078ff 37.5px,#0072ff 39.5px,#0072ff 52.5px,#0097ff 66.5px,#00a2ff 73.5px,#00a1ff 86.5px)"></div><div style="left:652px;width:1px;top:228px;height:87px;background:linear-gradient(#26ff00 0.5px,#00ff02 15.5px,#00ff05 16.5px,#00ff0e 17.5px,#00ffa1 23.5px,#00fff9 28.5px,#00f2ff 29.5px,#0092ff 34.5px,#0068ff 38.5px,#0069ff 52.5px,#0092ff 65.5px,#00a1ff 73.5px,#00a2ff 86.5px)"></div><div style="left:653px;width:1px;top:228px;height:87px;background:linear-gradient(#26ff00 0.5px,#00ff03 15.5px,#00ff05 16.5px,#00ff13 17.5px,#00ffa5 23.5px,#00fffe 28.5px,#009dff 33.5px,#0076ff 36.5px,#0065ff 38.5px,#0067ff 52.5px,#0090ff 65.5px,#009fff 73.5px,#00a0ff 86.5px)"></div><div style="left:654px;width:1px;top:228px;height:87px;background:linear-gradient(#25ff00 0.5px,#00ff01 14.5px,#00ff08 16.5px,#00ff9a 22.5px,#00fff4 27.5px,#00f7ff 28.5px,#0094ff 33.5px,#0065ff 37.5px,#0063ff 51.5px,#008fff 65.5px,#009dff 72.5px,#009eff 86.5px)"></div><div style="left:655px;width:1px;top:228px;height:87px;background:linear-gradient(#25ff00 0.5px,#00ff03 14.5px,#00ff0d 16.5px,#00ffa1 22.5px,#00fffb 27.5px,#00dcff 29.5px,#008fff 33.5px,#0063ff 37.5px,#0063ff 51.5px,#008cff 64.5px,#009cff 72.5px,#009cff 86.5px)"></div><div style="left:656px;width:1px;top:228px;height:87px;background:linear-gradient(#24ff00 0.5px,#00ff01 13.5px,#00ff0c 16.5px,#00ffa2 22.5px,#00fffb 27.5px,#00b8ff 31.5px,#0094ff 33.5px,#0069ff 37.5px,#0067ff 51.5px,#008fff 65.5px,#009bff 72.5px,#009cff 86.5px)"></div><div style="left:657px;width:1px;top:228px;height:87px;background:linear-gradient(#23ff00 0.5px,#00ff01 13.5px,#00ff0b 16.5px,#00ffa0 22.5px,#00fff9 27.5px,#00f3ff 28.5px,#00a1ff 33.5px,#0081ff 36.5px,#0076ff 38.5px,#0071ff 46.5px,#0074ff 52.5px,#009aff 70.5px,#009bff 86.5px)"></div><div style="left:658px;width:1px;top:228px;height:87px;background:linear-gradient(#23ff00 0.5px,#00ff01 13.5px,#00ff0a 16.5px,#00ff9f 22.5px,#00fff6 27.5px,#00f7ff 28.5px,#00a6ff 34.5px,#0093ff 36.5px,#0081ff 41.5px,#0085ff 53.5px,#009eff 72.5px,#009aff 86.5px)"></div><div style="left:659px;width:1px;top:228px;height:87px;background:linear-gradient(#23ff00 0.5px,#00ff03 14.5px,#00ff09 16.5px,#00ff9b 22.5px,#00fffe 28.5px,#00b0ff 35.5px,#0097ff 41.5px,#0099ff 56.5px,#00a2ff 73.5px,#009aff 86.5px)"></div><div style="left:660px;width:1px;top:228px;height:87px;background:linear-gradient(#25ff00 0.5px,#00ff02 15.5px,#00ff08 16.5px,#00ff88 22.5px,#00ffe2 28.5px,#00fcff 31.5px,#00d1ff 35.5px,#00b7ff 40.5px,#00aeff 54.5px,#00adff 74.5px,#00a4ff 86.5px)"></div><div style="left:661px;width:1px;top:228px;height:87px;background:linear-gradient(#27ff00 0.5px,#03ff00 15.5px,#00ff05 16.5px,#00ff6e 22.5px,#00ffbf 28.5px,#00fffc 34.5px,#00ddff 39.5px,#00c9ff 53.5px,#00c0ff 78.5px,#00baff 86.5px)"></div><div style="left:662px;width:1px;top:228px;height:87px;background:linear-gradient(#2aff00 0.5px,#08ff00 15.5px,#00ff00 16.5px,#00ff7c 25.5px,#00ffe1 35.5px,#00fffb 38.5px,#00f6ff 42.5px,#00e4ff 53.5px,#00d3ff 86.5px)"></div><div style="left:663px;width:1px;top:228px;height:87px;background:linear-gradient(#2aff00 0.5px,#0aff00 15.5px,#03ff00 16.5px,#00ff82 27.5px,#00ffeb 38.5px,#00fff9 42.5px,#00faff 47.5px,#00efff 55.5px,#00dbff 86.5px)"></div><div style="left:664px;width:1px;top:228px;height:87px;background:linear-gradient(#27ff00 0.5px,#02ff00 16.5px,#00ff84 27.5px,#00fffb 39.5px,#00f5ff 45.5px,#00e4ff 53.5px,#00c6ff 86.5px)"></div><div style="left:665px;width:1px;top:228px;height:87px;background:linear-gradient(#23ff00 0.5px,#01ff00 16.5px,#00ff8b 27.5px,#00ffff 38.5px,#00f1ff 40.5px,#00d0ff 54.5px,#00abff 86.5px)"></div><div style="left:666px;width:1px;top:228px;height:87px;background:linear-gradient(#20ff00 0.5px,#00ff01 16.5px,#00ff12 18.5px,#00ff96 28.5px,#00fffa 37.5px,#00f0ff 39.5px,#00e3ff 41.5px,#00c4ff 54.5px,#009fff 86.5px)"></div><div style="left:667px;width:1px;top:228px;height:87px;background:linear-gradient(#1eff00 0.5px,#00ff01 16.5px,#00ff0a 18.5px,#00ffa8 30.5px,#00fff7 37.5px,#00fcff 38.5px,#00e0ff 41.5px,#00beff 55.5px,#00a2ff 86.5px)"></div><div style="left:668px;width:1px;top:228px;height:87px;background:linear-gradient(#1dff00 0.5px,#00ff00 16.5px,#00ff0d 19.5px,#00ffa2 30.5px,#00fffd 38.5px,#00dbff 42.5px,#00beff 55.5px,#00adff 86.5px)"></div><div style="left:669px;width:1px;top:228px;height:87px;background:linear-gradient(#20ff00 0.5px,#00ff00 17.5px,#00ff0b 19.5px,#00ff9c 30.5px,#00fffe 39.5px,#00e5ff 42.5px,#00cbff 55.5px,#00c0ff 86.5px)"></div><div style="left:670px;width:1px;top:228px;height:87px;background:linear-gradient(#24ff00 0.5px,#00ff02 18.5px,#00ff8b 29.5px,#00fffc 40.5px,#00e8ff 48.5px,#00ddff 55.5px,#00d6ff 86.5px)"></div><div style="left:671px;width:1px;top:228px;height:87px;background:linear-gradient(#28ff00 0.5px,#06ff00 17.5px,#00ff03 18.5px,#00ff84 29.5px,#00ffef 40.5px,#00fcff 45.5px,#00e5ff 54.5px,#00e0ff 86.5px)"></div><div style="left:672px;width:1px;top:228px;height:87px;background:linear-gradient(#29ff00 0.5px,#08ff00 17.5px,#00ff00 18.5px,#00ff85 30.5px,#00ffe8 41.5px,#00fdff 46.5px,#00ddff 55.5px,#00d6ff 86.5px)"></div><div style="left:673px;width:1px;top:228px;height:87px;background:linear-gradient(#28ff00 0.5px,#09ff00 17.5px,#03ff00 18.5px,#00ffa5 34.5px,#00fff4 44.5px,#00ffff 46.5px,#00d1ff 55.5px,#00c8ff 86.5px)"></div><div style="left:674px;width:1px;top:228px;height:87px;background:linear-gradient(#29ff00 0.5px,#06ff00 17.5px,#00ff02 18.5px,#00ff9d 33.5px,#00fffb 45.5px,#00eaff 49.5px,#00ceff 54.5px,#00c3ff 86.5px)"></div><div style="left:675px;width:1px;top:228px;height:87px;background:linear-gradient(#29ff00 0.5px,#04ff00 16.5px,#00ff0e 18.5px,#00ff9c 32.5px,#00fffa 44.5px,#00f7ff 46.5px,#00cfff 53.5px,#00c8ff 86.5px)"></div><div style="left:676px;width:1px;top:228px;height:87px;background:linear-gradient(#2aff00 0.5px,#06ff00 15.5px,#00ff03 16.5px,#00ff9a 31.5px,#00fffd 44.5px,#00d2ff 52.5px,#00cdff 86.5px)"></div><div style="left:677px;width:1px;top:228px;height:87px;background:linear-gradient(#2bff00 0.5px,#09ff00 15.5px,#00ff00 16.5px,#00ff95 31.5px,#00fff6 44.5px,#00fbff 46.5px,#00d6ff 52.5px,#00cbff 86.5px)"></div><div style="left:678px;width:1px;top:228px;height:87px;background:linear-gradient(#2dff00 0.5px,#09ff00 16.5px,#00ff00 17.5px,#00ff91 32.5px,#00fff8 46.5px,#00ffff 47.5px,#00daff 53.5px,#00c5ff 86.5px)"></div><div style="left:679px;width:1px;top:228px;height:87px;background:linear-gradient(#2dff00 0.5px,#08ff00 17.5px,#00ff02 18.5px,#00ff8b 32.5px,#00fff4 46.5px,#00fdff 48.5px,#00d7ff 54.5px,#00bdff 86.5px)"></div><div style="left:680px;width:1px;top:228px;height:87px;background:linear-gradient(#2dff00 0.5px,#08ff00 17.5px,#00ff02 18.5px,#00ff9a 33.5px,#00ffff 46.5px,#00cbff 54.5px,#00b4ff 86.5px)"></div><div style="left:681px;width:1px;top:228px;height:87px;background:linear-gradient(#39ff00 0.5px,#09ff00 17.5px,#00ff02 18.5px,#00ffa1 33.5px,#00feff 44.5px,#00beff 54.5px,#00abff 86.5px)"></div><div style="left:682px;width:1px;top:228px;height:87px;background:linear-gradient(#54ff00 0.5px,#0eff00 17.5px,#03ff00 18.5px,#00ffa0 33.5px,#00fffd 43.5px,#00b8ff 54.5px,#00a6ff 86.5px)"></div><div style="left:683px;width:1px;top:228px;height:87px;background:linear-gradient(#6dff00 0.5px,#14ff00 17.5px,#00ff02 19.5px,#00ffc1 37.5px,#00fffd 43.5px,#00baff 54.5px,#00a5ff 86.5px)"></div>
<div class="cb" style="top:24px;height:93px"></div><div class="cb" style="top:124px;height:94px"></div><div class="cb" style="top:225px;height:93px"></div>
<svg width="780" height="780" viewBox="0 0 780 780" shape-rendering="crispEdges" role="img" aria-labelledby="t d">
<title id="t">STEREO-A IMPACT Summary Plot</title>
<desc id="d">Seven stacked panels for 2013 Jan 08 0000 to Jan 09 0000 (hhmm): SWEA (eV) e- Flux spectrogram; 650.7 eV and 246.6 eV e- Ph Sp Dens pitch-angle spectrograms; BR, BT, BN and |B| (nT) magnetic field line plots. Fri Jun 7 07:38:42 2013</desc>
<g fill="none" stroke="#000" stroke-width="1" stroke-linecap="square">
<path d="M60.5 43.5L61.5 42.5L62.5 41.5L62.5 50.5M70.5 41.5L69.5 41.5L68.5 43.5L68.5 45.5L68.5 46.5L68.5 48.5L69.5 49.5L70.5 50.5L71.5 50.5L72.5 49.5L73.5 48.5L73.5 46.5L73.5 45.5L73.5 43.5L72.5 41.5L71.5 41.5L70.5 41.5M78.5 41.5L77.5 41.5L76.5 43.5L76.5 45.5L76.5 46.5L76.5 48.5L77.5 49.5L78.5 50.5L79.5 50.5L81.5 49.5L81.5 48.5L82.5 46.5L82.5 45.5L81.5 43.5L81.5 41.5L79.5 41.5L78.5 41.5M87.5 41.5L86.5 41.5L85.5 43.5L84.5 45.5L84.5 46.5L85.5 48.5L86.5 49.5L87.5 50.5L88.5 50.5L89.5 49.5L90.5 48.5L90.5 46.5L90.5 45.5L90.5 43.5L89.5 41.5L88.5 41.5L87.5 41.5M69.5 110.5L70.5 109.5L71.5 108.5L71.5 117.5M78.5 108.5L77.5 108.5L76.5 110.5L76.5 112.5L76.5 113.5L76.5 115.5L77.5 116.5L78.5 117.5L79.5 117.5L81.5 116.5L81.5 115.5L82.5 113.5L82.5 112.5L81.5 110.5L81.5 108.5L79.5 108.5L78.5 108.5M87.5 108.5L86.5 108.5L85.5 110.5L84.5 112.5L84.5 113.5L85.5 115.5L86.5 116.5L87.5 117.5L88.5 117.5L89.5 116.5L90.5 115.5L90.5 113.5L90.5 112.5L90.5 110.5L89.5 108.5L88.5 108.5L87.5 108.5M39.5 97.5L38.5 98.5L37.5 99.5L37.5 101.5L38.5 102.5L39.5 103.5L40.5 102.5L41.5 102.5L41.5 101.5L42.5 98.5L43.5 97.5L44.5 97.5L45.5 97.5L46.5 98.5L46.5 99.5L46.5 101.5L46.5 102.5L45.5 103.5M37.5 95.5L46.5 93.5M37.5 90.5L46.5 93.5M37.5 90.5L46.5 88.5M37.5 86.5L46.5 88.5M37.5 84.5L46.5 84.5M37.5 84.5L37.5 78.5M42.5 84.5L42.5 80.5M46.5 84.5L46.5 78.5M37.5 74.5L46.5 77.5M37.5 74.5L46.5 70.5M43.5 76.5L43.5 71.5M36.5 58.5L36.5 59.5L38.5 60.5L39.5 61.5L42.5 61.5L43.5 61.5L45.5 61.5L47.5 60.5L48.5 59.5L49.5 58.5M43.5 56.5L43.5 51.5L42.5 51.5L41.5 51.5L41.5 52.5L40.5 53.5L40.5 54.5L41.5 55.5L42.5 55.5L43.5 56.5L44.5 56.5L45.5 55.5L46.5 55.5L46.5 54.5L46.5 53.5L46.5 52.5L45.5 51.5M37.5 49.5L46.5 46.5M37.5 42.5L46.5 46.5M36.5 41.5L36.5 40.5L38.5 39.5L39.5 38.5L42.5 38.5L43.5 38.5L45.5 38.5L47.5 39.5L48.5 40.5L49.5 41.5M69.5 137.5L70.5 136.5L71.5 135.5L71.5 144.5M81.5 135.5L77.5 135.5L76.5 139.5L77.5 138.5L78.5 138.5L79.5 138.5L81.5 138.5L81.5 139.5L82.5 140.5L82.5 141.5L81.5 143.5L79.5 144.5L78.5 144.5L77.5 143.5L76.5 143.5L76.5 142.5M87.5 135.5L86.5 135.5L85.5 137.5L84.5 139.5L84.5 140.5L85.5 142.5L86.5 143.5L87.5 144.5L88.5 144.5L89.5 143.5L90.5 142.5L90.5 140.5L90.5 139.5L90.5 137.5L89.5 135.5L88.5 135.5L87.5 135.5M69.5 163.5L70.5 162.5L71.5 161.5L71.5 170.5M78.5 161.5L77.5 161.5L76.5 163.5L76.5 165.5L76.5 166.5L76.5 168.5L77.5 169.5L78.5 170.5L79.5 170.5L81.5 169.5L81.5 168.5L82.5 166.5L82.5 165.5L81.5 163.5L81.5 161.5L79.5 161.5L78.5 161.5M87.5 161.5L86.5 161.5L85.5 163.5L84.5 165.5L84.5 166.5L85.5 168.5L86.5 169.5L87.5 170.5L88.5 170.5L89.5 169.5L90.5 168.5L90.5 166.5L90.5 165.5L90.5 163.5L89.5 161.5L88.5 161.5L87.5 161.5M81.5 187.5L77.5 187.5L76.5 191.5L77.5 190.5L78.5 190.5L79.5 190.5L81.5 190.5L81.5 191.5L82.5 192.5L82.5 193.5L81.5 195.5L79.5 196.5L78.5 196.5L77.5 195.5L76.5 195.5L76.5 194.5M87.5 187.5L86.5 187.5L85.5 189.5L84.5 191.5L84.5 192.5L85.5 194.5L86.5 195.5L87.5 196.5L88.5 196.5L89.5 195.5L90.5 194.5L90.5 192.5L90.5 191.5L90.5 189.5L89.5 187.5L88.5 187.5L87.5 187.5M87.5 209.5L86.5 209.5L85.5 211.5L84.5 213.5L84.5 214.5L85.5 216.5L86.5 217.5L87.5 218.5L88.5 218.5L89.5 217.5L90.5 216.5L90.5 214.5L90.5 213.5L90.5 211.5L89.5 209.5L88.5 209.5L87.5 209.5M47.5 190.5L46.5 191.5L46.5 192.5L46.5 193.5L46.5 194.5L47.5 195.5L50.5 196.5L52.5 196.5L53.5 195.5L54.5 194.5L55.5 193.5L54.5 191.5L53.5 190.5L52.5 190.5L50.5 190.5L50.5 191.5L49.5 193.5L50.5 194.5L50.5 195.5L52.5 196.5M46.5 182.5L46.5 187.5L50.5 187.5L49.5 187.5L49.5 185.5L49.5 184.5L49.5 183.5L50.5 182.5L51.5 182.5L52.5 182.5L53.5 182.5L54.5 183.5L55.5 184.5L55.5 185.5L54.5 187.5L53.5 188.5M46.5 177.5L46.5 178.5L47.5 179.5L50.5 179.5L51.5 179.5L53.5 179.5L54.5 178.5L55.5 177.5L55.5 176.5L54.5 174.5L53.5 174.5L51.5 173.5L50.5 173.5L47.5 174.5L46.5 174.5L46.5 176.5L46.5 177.5M54.5 170.5L55.5 170.5L54.5 169.5L54.5 170.5M46.5 161.5L55.5 165.5M46.5 166.5L46.5 161.5M51.5 151.5L51.5 146.5L50.5 146.5L50.5 147.5L49.5 147.5L49.5 148.5L49.5 149.5L49.5 150.5L50.5 151.5L51.5 151.5L52.5 151.5L53.5 151.5L54.5 150.5L55.5 149.5L55.5 148.5L54.5 147.5L53.5 146.5M46.5 145.5L55.5 141.5M46.5 138.5L55.5 141.5M69.5 237.5L70.5 236.5L71.5 235.5L71.5 244.5M81.5 235.5L77.5 235.5L76.5 239.5L77.5 238.5L78.5 238.5L79.5 238.5L81.5 238.5L81.5 239.5L82.5 240.5L82.5 241.5L81.5 243.5L79.5 244.5L78.5 244.5L77.5 243.5L76.5 243.5L76.5 242.5M87.5 235.5L86.5 235.5L85.5 237.5L84.5 239.5L84.5 240.5L85.5 242.5L86.5 243.5L87.5 244.5L88.5 244.5L89.5 243.5L90.5 242.5L90.5 240.5L90.5 239.5L90.5 237.5L89.5 235.5L88.5 235.5L87.5 235.5M69.5 263.5L70.5 262.5L71.5 261.5L71.5 270.5M78.5 261.5L77.5 261.5L76.5 263.5L76.5 265.5L76.5 266.5L76.5 268.5L77.5 269.5L78.5 270.5L79.5 270.5L81.5 269.5L81.5 268.5L82.5 266.5L82.5 265.5L81.5 263.5L81.5 261.5L79.5 261.5L78.5 261.5M87.5 261.5L86.5 261.5L85.5 263.5L84.5 265.5L84.5 266.5L85.5 268.5L86.5 269.5L87.5 270.5L88.5 270.5L89.5 269.5L90.5 268.5L90.5 266.5L90.5 265.5L90.5 263.5L89.5 261.5L88.5 261.5L87.5 261.5M81.5 288.5L77.5 288.5L76.5 292.5L77.5 291.5L78.5 291.5L79.5 291.5L81.5 291.5L81.5 292.5L82.5 293.5L82.5 294.5L81.5 296.5L79.5 297.5L78.5 297.5L77.5 296.5L76.5 296.5L76.5 295.5M87.5 288.5L86.5 288.5L85.5 290.5L84.5 292.5L84.5 293.5L85.5 295.5L86.5 296.5L87.5 297.5L88.5 297.5L89.5 296.5L90.5 295.5L90.5 293.5L90.5 292.5L90.5 290.5L89.5 288.5L88.5 288.5L87.5 288.5M87.5 309.5L86.5 309.5L85.5 311.5L84.5 313.5L84.5 314.5L85.5 316.5L86.5 317.5L87.5 318.5L88.5 318.5L89.5 317.5L90.5 316.5L90.5 314.5L90.5 313.5L90.5 311.5L89.5 309.5L88.5 309.5L87.5 309.5M48.5 296.5L47.5 296.5L46.5 295.5L46.5 294.5L46.5 293.5L46.5 292.5L47.5 291.5L48.5 291.5L49.5 291.5L50.5 292.5L55.5 296.5L55.5 291.5M46.5 284.5L52.5 288.5L52.5 282.5M46.5 284.5L55.5 284.5M47.5 274.5L46.5 275.5L46.5 276.5L46.5 277.5L46.5 278.5L47.5 279.5L50.5 279.5L52.5 279.5L53.5 279.5L54.5 278.5L55.5 277.5L55.5 276.5L54.5 275.5L53.5 274.5L52.5 274.5L50.5 274.5L50.5 275.5L49.5 276.5L49.5 277.5L50.5 278.5L50.5 279.5L52.5 279.5M54.5 270.5L54.5 271.5L55.5 270.5L54.5 270.5M47.5 261.5L46.5 262.5L46.5 263.5L46.5 264.5L46.5 265.5L47.5 266.5L50.5 267.5L52.5 267.5L53.5 266.5L54.5 265.5L55.5 264.5L54.5 262.5L53.5 261.5L52.5 261.5L50.5 261.5L50.5 262.5L49.5 264.5L50.5 265.5L50.5 266.5L52.5 267.5M51.5 252.5L51.5 247.5L50.5 247.5L49.5 248.5L49.5 250.5L49.5 251.5L50.5 251.5L51.5 252.5L52.5 252.5L53.5 251.5L54.5 251.5L55.5 250.5L55.5 248.5L54.5 248.5L53.5 247.5M46.5 245.5L55.5 242.5M46.5 238.5L55.5 242.5M77.5 326.5L78.5 325.5L79.5 324.5L79.5 333.5M87.5 324.5L86.5 324.5L85.5 326.5L84.5 328.5L84.5 329.5L85.5 331.5L86.5 332.5L87.5 333.5L88.5 333.5L89.5 332.5L90.5 331.5L90.5 329.5L90.5 328.5L90.5 326.5L89.5 324.5L88.5 324.5L87.5 324.5M89.5 343.5L85.5 343.5L85.5 347.5L85.5 346.5L86.5 346.5L88.5 346.5L89.5 346.5L90.5 347.5L90.5 348.5L90.5 349.5L90.5 351.5L89.5 351.5L88.5 352.5L86.5 352.5L85.5 351.5L84.5 350.5M87.5 367.5L86.5 367.5L85.5 369.5L84.5 371.5L84.5 372.5L85.5 374.5L86.5 375.5L87.5 376.5L88.5 376.5L89.5 375.5L90.5 374.5L90.5 372.5L90.5 371.5L90.5 369.5L89.5 367.5L88.5 367.5L87.5 367.5M74.5 396.5L81.5 396.5M89.5 391.5L85.5 391.5L85.5 395.5L85.5 394.5L86.5 394.5L88.5 394.5L89.5 394.5L90.5 395.5L90.5 396.5L90.5 397.5L90.5 399.5L89.5 399.5L88.5 400.5L86.5 400.5L85.5 399.5L84.5 398.5M65.5 414.5L73.5 414.5M77.5 411.5L78.5 410.5L79.5 409.5L79.5 418.5M87.5 409.5L86.5 409.5L85.5 411.5L84.5 413.5L84.5 414.5L85.5 416.5L86.5 417.5L87.5 418.5L88.5 418.5L89.5 417.5L90.5 416.5L90.5 414.5L90.5 413.5L90.5 411.5L89.5 409.5L88.5 409.5L87.5 409.5M43.5 394.5L52.5 394.5M43.5 394.5L43.5 390.5L44.5 389.5L44.5 388.5L45.5 388.5L46.5 388.5L47.5 388.5L47.5 389.5L47.5 390.5M47.5 394.5L47.5 390.5L48.5 389.5L48.5 388.5L49.5 388.5L50.5 388.5L51.5 388.5L52.5 389.5L52.5 390.5L52.5 394.5M50.5 386.5L56.5 386.5M50.5 386.5L50.5 383.5L51.5 382.5L52.5 382.5L53.5 382.5L53.5 383.5L53.5 386.5M53.5 384.5L56.5 382.5M42.5 370.5L42.5 371.5L44.5 371.5L45.5 372.5L47.5 373.5L49.5 373.5L51.5 372.5L53.5 371.5L54.5 371.5L55.5 370.5M46.5 367.5L52.5 367.5M48.5 367.5L47.5 366.5L46.5 365.5L46.5 363.5L47.5 363.5L48.5 362.5L52.5 362.5M43.5 357.5L52.5 357.5M43.5 360.5L43.5 354.5M42.5 353.5L42.5 352.5L44.5 351.5L45.5 350.5L47.5 350.5L49.5 350.5L51.5 350.5L53.5 351.5L54.5 352.5L55.5 353.5M77.5 426.5L78.5 425.5L79.5 424.5L79.5 433.5M87.5 424.5L86.5 424.5L85.5 426.5L84.5 428.5L84.5 429.5L85.5 431.5L86.5 432.5L87.5 433.5L88.5 433.5L89.5 432.5L90.5 431.5L90.5 429.5L90.5 428.5L90.5 426.5L89.5 424.5L88.5 424.5L87.5 424.5M89.5 444.5L85.5 444.5L85.5 448.5L85.5 447.5L86.5 447.5L88.5 447.5L89.5 447.5L90.5 448.5L90.5 449.5L90.5 450.5L90.5 452.5L89.5 452.5L88.5 453.5L86.5 453.5L85.5 452.5L84.5 451.5M87.5 467.5L86.5 467.5L85.5 469.5L84.5 471.5L84.5 472.5L85.5 474.5L86.5 475.5L87.5 476.5L88.5 476.5L89.5 475.5L90.5 474.5L90.5 472.5L90.5 471.5L90.5 469.5L89.5 467.5L88.5 467.5L87.5 467.5M74.5 496.5L81.5 496.5M89.5 491.5L85.5 491.5L85.5 495.5L85.5 494.5L86.5 494.5L88.5 494.5L89.5 494.5L90.5 495.5L90.5 496.5L90.5 497.5L90.5 499.5L89.5 499.5L88.5 500.5L86.5 500.5L85.5 499.5L84.5 498.5M65.5 514.5L73.5 514.5M77.5 511.5L78.5 510.5L79.5 509.5L79.5 518.5M87.5 509.5L86.5 509.5L85.5 511.5L84.5 513.5L84.5 514.5L85.5 516.5L86.5 517.5L87.5 518.5L88.5 518.5L89.5 517.5L90.5 516.5L90.5 514.5L90.5 513.5L90.5 511.5L89.5 509.5L88.5 509.5L87.5 509.5M43.5 493.5L52.5 493.5M43.5 493.5L43.5 489.5L44.5 488.5L45.5 487.5L46.5 487.5L47.5 488.5L47.5 489.5M47.5 493.5L47.5 489.5L48.5 488.5L49.5 487.5L50.5 487.5L51.5 488.5L52.5 488.5L52.5 489.5L52.5 493.5M50.5 484.5L56.5 484.5M50.5 486.5L50.5 482.5M42.5 470.5L42.5 471.5L44.5 472.5L45.5 473.5L47.5 473.5L49.5 473.5L51.5 473.5L53.5 472.5L54.5 471.5L55.5 470.5M46.5 468.5L52.5 468.5M48.5 468.5L47.5 466.5L46.5 465.5L46.5 464.5L47.5 463.5L48.5 463.5L52.5 463.5M43.5 458.5L52.5 458.5M43.5 461.5L43.5 455.5M42.5 453.5L42.5 452.5L44.5 451.5L45.5 451.5L47.5 450.5L49.5 450.5L51.5 451.5L53.5 451.5L54.5 452.5L55.5 453.5M77.5 526.5L78.5 525.5L79.5 524.5L79.5 533.5M87.5 524.5L86.5 524.5L85.5 526.5L84.5 528.5L84.5 529.5L85.5 531.5L86.5 532.5L87.5 533.5L88.5 533.5L89.5 532.5L90.5 531.5L90.5 529.5L90.5 528.5L90.5 526.5L89.5 524.5L88.5 524.5L87.5 524.5M89.5 544.5L85.5 544.5L85.5 548.5L85.5 547.5L86.5 547.5L88.5 547.5L89.5 547.5L90.5 548.5L90.5 549.5L90.5 550.5L90.5 552.5L89.5 552.5L88.5 553.5L86.5 553.5L85.5 552.5L84.5 551.5M87.5 568.5L86.5 568.5L85.5 570.5L84.5 572.5L84.5 573.5L85.5 575.5L86.5 576.5L87.5 577.5L88.5 577.5L89.5 576.5L90.5 575.5L90.5 573.5L90.5 572.5L90.5 570.5L89.5 568.5L88.5 568.5L87.5 568.5M74.5 596.5L81.5 596.5M89.5 591.5L85.5 591.5L85.5 595.5L85.5 594.5L86.5 594.5L88.5 594.5L89.5 594.5L90.5 595.5L90.5 596.5L90.5 597.5L90.5 599.5L89.5 599.5L88.5 600.5L86.5 600.5L85.5 599.5L84.5 598.5M65.5 615.5L73.5 615.5M77.5 612.5L78.5 611.5L79.5 610.5L79.5 619.5M87.5 610.5L86.5 610.5L85.5 612.5L84.5 614.5L84.5 615.5L85.5 617.5L86.5 618.5L87.5 619.5L88.5 619.5L89.5 618.5L90.5 617.5L90.5 615.5L90.5 614.5L90.5 612.5L89.5 610.5L88.5 610.5L87.5 610.5M43.5 594.5L52.5 594.5M43.5 594.5L43.5 591.5L44.5 589.5L45.5 589.5L46.5 589.5L47.5 589.5L47.5 591.5M47.5 594.5L47.5 591.5L48.5 589.5L49.5 589.5L50.5 589.5L51.5 589.5L52.5 589.5L52.5 591.5L52.5 594.5M50.5 586.5L56.5 586.5M50.5 586.5L56.5 583.5M50.5 583.5L56.5 583.5M42.5 570.5L42.5 571.5L44.5 572.5L45.5 573.5L47.5 573.5L49.5 573.5L51.5 573.5L53.5 572.5L54.5 571.5L55.5 570.5M46.5 567.5L52.5 567.5M48.5 567.5L47.5 566.5L46.5 565.5L46.5 564.5L47.5 563.5L48.5 563.5L52.5 563.5M43.5 558.5L52.5 558.5M43.5 560.5L43.5 555.5M42.5 553.5L42.5 552.5L44.5 551.5L45.5 550.5L47.5 550.5L49.5 550.5L51.5 550.5L53.5 551.5L54.5 552.5L55.5 553.5M76.5 627.5L77.5 626.5L77.5 625.5L78.5 625.5L80.5 625.5L81.5 625.5L81.5 626.5L81.5 627.5L81.5 628.5L80.5 630.5L76.5 634.5L82.5 634.5M87.5 625.5L86.5 625.5L85.5 627.5L84.5 629.5L84.5 630.5L85.5 632.5L86.5 633.5L87.5 634.5L88.5 634.5L89.5 633.5L90.5 632.5L90.5 630.5L90.5 629.5L90.5 627.5L89.5 625.5L88.5 625.5L87.5 625.5M77.5 646.5L78.5 645.5L79.5 644.5L79.5 653.5M89.5 644.5L85.5 644.5L85.5 648.5L85.5 647.5L86.5 647.5L88.5 647.5L89.5 647.5L90.5 648.5L90.5 649.5L90.5 650.5L90.5 652.5L89.5 652.5L88.5 653.5L86.5 653.5L85.5 652.5L84.5 651.5M77.5 670.5L78.5 669.5L79.5 668.5L79.5 677.5M87.5 668.5L86.5 668.5L85.5 670.5L84.5 672.5L84.5 673.5L85.5 675.5L86.5 676.5L87.5 677.5L88.5 677.5L89.5 676.5L90.5 675.5L90.5 673.5L90.5 672.5L90.5 670.5L89.5 668.5L88.5 668.5L87.5 668.5M89.5 691.5L85.5 691.5L85.5 695.5L85.5 694.5L86.5 694.5L88.5 694.5L89.5 694.5L90.5 695.5L90.5 696.5L90.5 697.5L90.5 699.5L89.5 699.5L88.5 700.5L86.5 700.5L85.5 699.5L84.5 698.5M87.5 710.5L86.5 710.5L85.5 712.5L84.5 714.5L84.5 715.5L85.5 717.5L86.5 718.5L87.5 719.5L88.5 719.5L89.5 718.5L90.5 717.5L90.5 715.5L90.5 714.5L90.5 712.5L89.5 710.5L88.5 710.5L87.5 710.5M53.5 695.5L63.5 695.5M54.5 691.5L63.5 691.5M54.5 691.5L54.5 688.5L55.5 686.5L56.5 685.5L57.5 685.5L58.5 686.5L58.5 688.5M58.5 691.5L58.5 688.5L59.5 686.5L60.5 685.5L61.5 685.5L62.5 686.5L63.5 686.5L63.5 688.5L63.5 691.5M53.5 683.5L63.5 683.5M52.5 669.5L53.5 670.5L55.5 671.5L56.5 672.5L58.5 672.5L60.5 672.5L62.5 672.5L64.5 671.5L65.5 670.5L66.5 669.5M57.5 667.5L63.5 667.5M59.5 667.5L58.5 665.5L57.5 664.5L57.5 663.5L58.5 662.5L59.5 662.5L63.5 662.5M54.5 657.5L63.5 657.5M54.5 660.5L54.5 654.5M52.5 652.5L53.5 651.5L55.5 651.5L56.5 650.5L58.5 649.5L60.5 649.5L62.5 650.5L64.5 651.5L65.5 651.5L66.5 652.5M256.5 7.5L255.5 5.5L254.5 5.5L252.5 5.5L250.5 5.5L249.5 7.5L249.5 8.5L249.5 9.5L250.5 9.5L251.5 10.5L254.5 11.5L255.5 11.5L256.5 12.5L256.5 13.5L256.5 14.5L255.5 15.5L254.5 16.5L252.5 16.5L250.5 15.5L249.5 14.5M262.5 5.5L262.5 16.5M258.5 5.5L266.5 5.5M268.5 5.5L268.5 16.5M268.5 5.5L275.5 5.5M268.5 10.5L273.5 10.5M268.5 16.5L275.5 16.5M278.5 5.5L278.5 16.5M278.5 5.5L283.5 5.5L285.5 5.5L285.5 6.5L286.5 7.5L286.5 8.5L285.5 9.5L285.5 10.5L283.5 10.5L278.5 10.5M282.5 10.5L286.5 16.5M290.5 5.5L290.5 16.5M290.5 5.5L296.5 5.5M290.5 10.5L294.5 10.5M290.5 16.5L296.5 16.5M302.5 5.5L301.5 5.5L300.5 7.5L300.5 8.5L299.5 9.5L299.5 12.5L300.5 13.5L300.5 14.5L301.5 15.5L302.5 16.5L304.5 16.5L305.5 15.5L306.5 14.5L307.5 13.5L307.5 12.5L307.5 9.5L307.5 8.5L306.5 7.5L305.5 5.5L304.5 5.5L302.5 5.5M311.5 11.5L321.5 11.5M327.5 5.5L323.5 16.5M327.5 5.5L332.5 16.5M325.5 12.5L330.5 12.5M343.5 5.5L343.5 16.5M347.5 5.5L347.5 16.5M347.5 5.5L351.5 16.5M355.5 5.5L351.5 16.5M355.5 5.5L355.5 16.5M360.5 5.5L360.5 16.5M360.5 5.5L364.5 5.5L366.5 5.5L367.5 6.5L367.5 7.5L367.5 9.5L367.5 10.5L366.5 10.5L364.5 11.5L360.5 11.5M373.5 5.5L369.5 16.5M373.5 5.5L378.5 16.5M371.5 12.5L376.5 12.5M388.5 8.5L387.5 7.5L386.5 5.5L385.5 5.5L383.5 5.5L382.5 5.5L381.5 7.5L380.5 8.5L380.5 9.5L380.5 12.5L380.5 13.5L381.5 14.5L382.5 15.5L383.5 16.5L385.5 16.5L386.5 15.5L387.5 14.5L388.5 13.5M393.5 5.5L393.5 16.5M390.5 5.5L397.5 5.5M415.5 7.5L414.5 5.5L412.5 5.5L410.5 5.5L409.5 5.5L408.5 7.5L408.5 8.5L408.5 9.5L409.5 9.5L410.5 10.5L413.5 11.5L414.5 11.5L415.5 12.5L415.5 13.5L415.5 14.5L414.5 15.5L412.5 16.5L410.5 16.5L409.5 15.5L408.5 14.5M419.5 9.5L419.5 14.5L419.5 15.5L420.5 16.5L422.5 16.5L423.5 15.5L425.5 14.5M425.5 9.5L425.5 16.5M429.5 9.5L429.5 16.5M429.5 11.5L430.5 9.5L431.5 9.5L433.5 9.5L434.5 9.5L435.5 11.5L435.5 16.5M435.5 11.5L436.5 9.5L437.5 9.5L439.5 9.5L440.5 9.5L440.5 11.5L440.5 16.5M445.5 9.5L445.5 16.5M445.5 11.5L446.5 9.5L447.5 9.5L449.5 9.5L450.5 9.5L450.5 11.5L450.5 16.5M450.5 11.5L452.5 9.5L453.5 9.5L455.5 9.5L456.5 9.5L456.5 11.5L456.5 16.5M466.5 9.5L466.5 16.5M466.5 10.5L465.5 9.5L464.5 9.5L463.5 9.5L461.5 9.5L460.5 10.5L460.5 12.5L460.5 13.5L460.5 14.5L461.5 15.5L463.5 16.5L464.5 16.5L465.5 15.5L466.5 14.5M470.5 9.5L470.5 16.5M470.5 12.5L471.5 10.5L472.5 9.5L473.5 9.5L475.5 9.5M476.5 9.5L479.5 16.5M483.5 9.5L479.5 16.5L478.5 18.5L477.5 19.5L476.5 20.5M494.5 5.5L494.5 16.5M494.5 5.5L499.5 5.5L501.5 5.5L501.5 6.5L502.5 7.5L502.5 9.5L501.5 10.5L499.5 11.5L494.5 11.5M505.5 5.5L505.5 16.5M512.5 9.5L511.5 9.5L509.5 10.5L509.5 12.5L509.5 13.5L509.5 14.5L511.5 15.5L512.5 16.5L513.5 16.5L514.5 15.5L515.5 14.5L516.5 13.5L516.5 12.5L515.5 10.5L514.5 9.5L513.5 9.5L512.5 9.5M520.5 5.5L520.5 14.5L521.5 15.5L522.5 16.5L523.5 16.5M518.5 9.5L522.5 9.5M8.5 728.5L8.5 737.5M8.5 733.5L9.5 732.5L10.5 731.5L11.5 731.5L12.5 732.5L13.5 733.5L13.5 737.5M16.5 728.5L16.5 737.5M16.5 733.5L17.5 732.5L18.5 731.5L19.5 731.5L20.5 732.5L21.5 733.5L21.5 737.5M24.5 731.5L24.5 737.5M24.5 733.5L25.5 732.5L26.5 731.5L27.5 731.5L28.5 732.5L29.5 733.5L29.5 737.5M29.5 733.5L30.5 732.5L31.5 731.5L32.5 731.5L33.5 732.5L33.5 733.5L33.5 737.5M37.5 731.5L37.5 737.5M37.5 733.5L38.5 732.5L39.5 731.5L40.5 731.5L41.5 732.5L41.5 733.5L41.5 737.5M41.5 733.5L43.5 732.5L43.5 731.5L45.5 731.5L45.5 732.5L46.5 733.5L46.5 737.5M8.5 742.5L8.5 741.5L9.5 741.5L10.5 740.5L11.5 740.5L12.5 741.5L13.5 741.5L13.5 742.5L13.5 743.5L13.5 744.5L12.5 745.5L8.5 749.5L13.5 749.5M19.5 740.5L17.5 741.5L16.5 742.5L16.5 744.5L16.5 745.5L16.5 747.5L17.5 749.5L19.5 749.5L21.5 749.5L21.5 747.5L22.5 745.5L22.5 744.5L21.5 742.5L21.5 741.5L19.5 740.5M26.5 742.5L27.5 741.5L28.5 740.5L28.5 749.5M34.5 740.5L38.5 740.5L36.5 744.5L37.5 744.5L38.5 744.5L39.5 746.5L38.5 748.5L37.5 749.5L36.5 749.5L35.5 749.5L34.5 749.5L33.5 748.5L33.5 747.5M82.5 728.5L81.5 729.5L80.5 730.5L80.5 732.5L80.5 733.5L80.5 735.5L81.5 737.5L82.5 737.5L83.5 737.5L85.5 737.5L85.5 735.5L86.5 733.5L86.5 732.5L85.5 730.5L85.5 729.5L83.5 728.5L82.5 728.5M91.5 728.5L90.5 729.5L89.5 730.5L88.5 732.5L88.5 733.5L89.5 735.5L90.5 737.5L91.5 737.5L92.5 737.5L93.5 737.5L94.5 735.5L94.5 733.5L94.5 732.5L94.5 730.5L93.5 729.5L92.5 728.5L91.5 728.5M99.5 728.5L98.5 729.5L97.5 730.5L97.5 732.5L97.5 733.5L97.5 735.5L98.5 737.5L99.5 737.5L100.5 737.5L101.5 737.5L102.5 735.5L103.5 733.5L103.5 732.5L102.5 730.5L101.5 729.5L100.5 728.5L99.5 728.5M108.5 728.5L106.5 729.5L106.5 730.5L105.5 732.5L105.5 733.5L106.5 735.5L106.5 737.5L108.5 737.5L109.5 737.5L110.5 737.5L111.5 735.5L111.5 733.5L111.5 732.5L111.5 730.5L110.5 729.5L109.5 728.5L108.5 728.5M77.5 740.5L77.5 747.5L77.5 748.5L77.5 749.5L76.5 749.5L75.5 749.5L74.5 749.5L74.5 748.5L73.5 747.5L73.5 746.5M85.5 743.5L85.5 749.5M85.5 744.5L84.5 743.5L82.5 743.5L82.5 744.5L81.5 744.5L80.5 746.5L81.5 748.5L82.5 749.5L84.5 749.5L85.5 749.5L85.5 748.5M89.5 743.5L89.5 749.5M89.5 745.5L90.5 744.5L91.5 743.5L92.5 743.5L93.5 744.5L93.5 745.5L93.5 749.5M106.5 740.5L104.5 741.5L104.5 742.5L103.5 744.5L103.5 745.5L104.5 747.5L104.5 749.5L106.5 749.5L108.5 749.5L109.5 747.5L109.5 745.5L109.5 744.5L109.5 742.5L108.5 741.5L106.5 740.5M114.5 740.5L112.5 741.5L112.5 742.5L112.5 743.5L113.5 744.5L115.5 744.5L116.5 744.5L117.5 745.5L117.5 746.5L117.5 747.5L117.5 748.5L117.5 749.5L115.5 749.5L114.5 749.5L112.5 749.5L112.5 748.5L112.5 747.5L112.5 746.5L112.5 745.5L113.5 744.5L114.5 744.5L116.5 744.5L117.5 743.5L117.5 742.5L117.5 741.5L115.5 740.5L114.5 740.5M278.5 728.5L277.5 729.5L276.5 730.5L276.5 732.5L276.5 733.5L276.5 735.5L277.5 737.5L278.5 737.5L279.5 737.5L281.5 737.5L281.5 735.5L282.5 733.5L282.5 732.5L281.5 730.5L281.5 729.5L279.5 728.5L278.5 728.5M286.5 728.5L285.5 729.5L285.5 730.5L285.5 731.5L286.5 732.5L288.5 732.5L289.5 732.5L290.5 733.5L290.5 734.5L290.5 735.5L290.5 736.5L289.5 737.5L288.5 737.5L286.5 737.5L285.5 737.5L285.5 736.5L284.5 735.5L284.5 734.5L285.5 733.5L286.5 732.5L287.5 732.5L289.5 732.5L289.5 731.5L290.5 730.5L290.5 729.5L289.5 729.5L288.5 728.5L286.5 728.5M295.5 728.5L294.5 729.5L293.5 730.5L293.5 732.5L293.5 733.5L293.5 735.5L294.5 737.5L295.5 737.5L296.5 737.5L297.5 737.5L298.5 735.5L299.5 733.5L299.5 732.5L298.5 730.5L297.5 729.5L296.5 728.5L295.5 728.5M304.5 728.5L302.5 729.5L302.5 730.5L301.5 732.5L301.5 733.5L302.5 735.5L302.5 737.5L304.5 737.5L305.5 737.5L306.5 737.5L307.5 735.5L307.5 733.5L307.5 732.5L307.5 730.5L306.5 729.5L305.5 728.5L304.5 728.5M473.5 730.5L474.5 729.5L475.5 728.5L475.5 737.5M486.5 729.5L485.5 729.5L484.5 728.5L483.5 728.5L482.5 729.5L481.5 730.5L481.5 732.5L481.5 734.5L481.5 736.5L482.5 737.5L483.5 737.5L484.5 737.5L485.5 737.5L486.5 736.5L486.5 734.5L486.5 733.5L485.5 732.5L484.5 732.5L483.5 732.5L482.5 732.5L481.5 733.5L481.5 734.5M491.5 728.5L490.5 729.5L489.5 730.5L489.5 732.5L489.5 733.5L489.5 735.5L490.5 737.5L491.5 737.5L492.5 737.5L493.5 737.5L494.5 735.5L495.5 733.5L495.5 732.5L494.5 730.5L493.5 729.5L492.5 728.5L491.5 728.5M500.5 728.5L498.5 729.5L498.5 730.5L497.5 732.5L497.5 733.5L498.5 735.5L498.5 737.5L500.5 737.5L501.5 737.5L502.5 737.5L503.5 735.5L503.5 733.5L503.5 732.5L503.5 730.5L502.5 729.5L501.5 728.5L500.5 728.5M670.5 728.5L669.5 729.5L668.5 730.5L668.5 732.5L668.5 733.5L668.5 735.5L669.5 737.5L670.5 737.5L671.5 737.5L673.5 737.5L673.5 735.5L674.5 733.5L674.5 732.5L673.5 730.5L673.5 729.5L671.5 728.5L670.5 728.5M679.5 728.5L678.5 729.5L677.5 730.5L676.5 732.5L676.5 733.5L677.5 735.5L678.5 737.5L679.5 737.5L680.5 737.5L681.5 737.5L682.5 735.5L682.5 733.5L682.5 732.5L682.5 730.5L681.5 729.5L680.5 728.5L679.5 728.5M687.5 728.5L686.5 729.5L685.5 730.5L685.5 732.5L685.5 733.5L685.5 735.5L686.5 737.5L687.5 737.5L688.5 737.5L689.5 737.5L690.5 735.5L691.5 733.5L691.5 732.5L690.5 730.5L689.5 729.5L688.5 728.5L687.5 728.5M696.5 728.5L694.5 729.5L694.5 730.5L693.5 732.5L693.5 733.5L694.5 735.5L694.5 737.5L696.5 737.5L697.5 737.5L698.5 737.5L699.5 735.5L699.5 733.5L699.5 732.5L699.5 730.5L698.5 729.5L697.5 728.5L696.5 728.5M665.5 740.5L665.5 747.5L665.5 748.5L665.5 749.5L664.5 749.5L663.5 749.5L662.5 749.5L662.5 748.5L661.5 747.5L661.5 746.5M673.5 743.5L673.5 749.5M673.5 744.5L672.5 743.5L670.5 743.5L670.5 744.5L669.5 744.5L668.5 746.5L669.5 748.5L670.5 749.5L672.5 749.5L673.5 749.5L673.5 748.5M677.5 743.5L677.5 749.5M677.5 745.5L678.5 744.5L679.5 743.5L680.5 743.5L681.5 744.5L681.5 745.5L681.5 749.5M694.5 740.5L692.5 741.5L692.5 742.5L691.5 744.5L691.5 745.5L692.5 747.5L692.5 749.5L694.5 749.5L696.5 749.5L697.5 747.5L697.5 745.5L697.5 744.5L697.5 742.5L696.5 741.5L694.5 740.5M705.5 743.5L705.5 744.5L704.5 745.5L702.5 746.5L701.5 745.5L700.5 744.5L700.5 743.5L700.5 741.5L701.5 741.5L702.5 740.5L704.5 741.5L705.5 741.5L705.5 743.5L705.5 745.5L705.5 747.5L704.5 749.5L702.5 749.5L700.5 749.5L700.5 748.5M706.5 31.5L707.5 31.5L708.5 29.5L708.5 38.5M716.5 29.5L715.5 30.5L714.5 31.5L713.5 33.5L713.5 34.5L714.5 37.5L715.5 38.5L716.5 38.5L717.5 38.5L718.5 38.5L719.5 37.5L719.5 34.5L719.5 33.5L719.5 31.5L718.5 30.5L717.5 29.5L716.5 29.5M724.5 29.5L723.5 30.5L722.5 31.5L722.5 33.5L722.5 34.5L722.5 37.5L723.5 38.5L724.5 38.5L725.5 38.5L726.5 38.5L727.5 37.5L728.5 34.5L728.5 33.5L727.5 31.5L726.5 30.5L725.5 29.5L724.5 29.5M733.5 29.5L731.5 30.5L731.5 31.5L730.5 33.5L730.5 34.5L731.5 37.5L731.5 38.5L733.5 38.5L734.5 38.5L735.5 38.5L736.5 37.5L736.5 34.5L736.5 33.5L736.5 31.5L735.5 30.5L734.5 29.5L733.5 29.5M741.5 29.5L740.5 30.5L739.5 31.5L739.5 33.5L739.5 34.5L739.5 37.5L740.5 38.5L741.5 38.5L742.5 38.5L743.5 38.5L744.5 37.5L745.5 34.5L745.5 33.5L744.5 31.5L743.5 30.5L742.5 29.5L741.5 29.5M706.5 57.5L707.5 57.5L708.5 55.5L708.5 64.5M716.5 55.5L715.5 56.5L714.5 57.5L713.5 59.5L713.5 60.5L714.5 63.5L715.5 64.5L716.5 64.5L717.5 64.5L718.5 64.5L719.5 63.5L719.5 60.5L719.5 59.5L719.5 57.5L718.5 56.5L717.5 55.5L716.5 55.5M724.5 55.5L723.5 56.5L722.5 57.5L722.5 59.5L722.5 60.5L722.5 63.5L723.5 64.5L724.5 64.5L725.5 64.5L726.5 64.5L727.5 63.5L728.5 60.5L728.5 59.5L727.5 57.5L726.5 56.5L725.5 55.5L724.5 55.5M733.5 55.5L731.5 56.5L731.5 57.5L730.5 59.5L730.5 60.5L731.5 63.5L731.5 64.5L733.5 64.5L734.5 64.5L735.5 64.5L736.5 63.5L736.5 60.5L736.5 59.5L736.5 57.5L735.5 56.5L734.5 55.5L733.5 55.5M706.5 83.5L707.5 83.5L708.5 81.5L708.5 90.5M716.5 81.5L715.5 82.5L714.5 83.5L713.5 85.5L713.5 86.5L714.5 89.5L715.5 90.5L716.5 90.5L717.5 90.5L718.5 90.5L719.5 89.5L719.5 86.5L719.5 85.5L719.5 83.5L718.5 82.5L717.5 81.5L716.5 81.5M724.5 81.5L723.5 82.5L722.5 83.5L722.5 85.5L722.5 86.5L722.5 89.5L723.5 90.5L724.5 90.5L725.5 90.5L726.5 90.5L727.5 89.5L728.5 86.5L728.5 85.5L727.5 83.5L726.5 82.5L725.5 81.5L724.5 81.5M706.5 109.5L707.5 109.5L708.5 107.5L708.5 116.5M716.5 107.5L715.5 108.5L714.5 109.5L713.5 111.5L713.5 112.5L714.5 115.5L715.5 116.5L716.5 116.5L717.5 116.5L718.5 116.5L719.5 115.5L719.5 112.5L719.5 111.5L719.5 109.5L718.5 108.5L717.5 107.5L716.5 107.5M757.5 95.5L757.5 90.5L756.5 90.5L755.5 90.5L755.5 91.5L754.5 91.5L754.5 93.5L755.5 94.5L757.5 95.5L758.5 95.5L759.5 94.5L760.5 94.5L760.5 93.5L760.5 91.5L759.5 90.5M756.5 87.5L756.5 79.5M751.5 69.5L760.5 69.5M751.5 69.5L751.5 64.5M755.5 69.5L755.5 66.5M751.5 62.5L760.5 62.5M754.5 58.5L758.5 58.5L760.5 58.5L760.5 57.5L760.5 56.5L760.5 55.5L758.5 54.5M754.5 54.5L760.5 54.5M754.5 51.5L760.5 46.5M754.5 46.5L760.5 51.5M707.5 123.5L706.5 124.5L705.5 125.5L705.5 127.5L705.5 128.5L705.5 131.5L706.5 132.5L707.5 132.5L708.5 132.5L710.5 132.5L710.5 131.5L711.5 128.5L711.5 127.5L710.5 125.5L710.5 124.5L708.5 123.5L707.5 123.5M714.5 131.5L714.5 132.5L715.5 132.5L714.5 131.5M719.5 125.5L720.5 125.5L721.5 123.5L721.5 132.5M729.5 123.5L727.5 124.5L726.5 125.5L726.5 127.5L726.5 128.5L726.5 131.5L727.5 132.5L729.5 132.5L731.5 132.5L731.5 131.5L732.5 128.5L732.5 127.5L731.5 125.5L731.5 124.5L729.5 123.5M737.5 123.5L736.5 124.5L735.5 125.5L734.5 127.5L734.5 128.5L735.5 131.5L736.5 132.5L737.5 132.5L738.5 132.5L739.5 132.5L740.5 131.5L740.5 128.5L740.5 127.5L740.5 125.5L739.5 124.5L738.5 123.5L737.5 123.5M707.5 166.5L706.5 167.5L705.5 168.5L705.5 170.5L705.5 171.5L705.5 174.5L706.5 175.5L707.5 175.5L708.5 175.5L710.5 175.5L710.5 174.5L711.5 171.5L711.5 170.5L710.5 168.5L710.5 167.5L708.5 166.5L707.5 166.5M714.5 174.5L714.5 175.5L715.5 175.5L714.5 174.5M720.5 166.5L719.5 167.5L718.5 168.5L718.5 170.5L718.5 171.5L718.5 174.5L719.5 175.5L720.5 175.5L721.5 175.5L722.5 175.5L723.5 174.5L723.5 171.5L723.5 170.5L723.5 168.5L722.5 167.5L721.5 166.5L720.5 166.5M727.5 168.5L728.5 168.5L729.5 166.5L729.5 175.5M737.5 166.5L736.5 167.5L735.5 168.5L734.5 170.5L734.5 171.5L735.5 174.5L736.5 175.5L737.5 175.5L738.5 175.5L739.5 175.5L740.5 174.5L740.5 171.5L740.5 170.5L740.5 168.5L739.5 167.5L738.5 166.5L737.5 166.5M707.5 209.5L706.5 210.5L705.5 211.5L705.5 213.5L705.5 214.5L705.5 217.5L706.5 218.5L707.5 218.5L708.5 218.5L710.5 218.5L710.5 217.5L711.5 214.5L711.5 213.5L710.5 211.5L710.5 210.5L708.5 209.5L707.5 209.5M714.5 217.5L714.5 218.5L715.5 218.5L714.5 217.5M720.5 209.5L719.5 210.5L718.5 211.5L718.5 213.5L718.5 214.5L718.5 217.5L719.5 218.5L720.5 218.5L721.5 218.5L722.5 218.5L723.5 217.5L723.5 214.5L723.5 213.5L723.5 211.5L722.5 210.5L721.5 209.5L720.5 209.5M729.5 209.5L727.5 210.5L726.5 211.5L726.5 213.5L726.5 214.5L726.5 217.5L727.5 218.5L729.5 218.5L731.5 218.5L731.5 217.5L732.5 214.5L732.5 213.5L731.5 211.5L731.5 210.5L729.5 209.5M736.5 211.5L737.5 211.5L738.5 209.5L738.5 218.5M753.5 221.5L753.5 216.5L752.5 216.5L751.5 217.5L750.5 218.5L750.5 219.5L751.5 220.5L751.5 221.5L753.5 221.5L755.5 221.5L756.5 220.5L756.5 219.5L756.5 218.5L756.5 217.5L755.5 216.5M752.5 213.5L752.5 206.5M747.5 196.5L756.5 196.5M747.5 196.5L747.5 192.5L748.5 191.5L748.5 190.5L749.5 190.5L750.5 190.5L751.5 190.5L751.5 191.5L752.5 192.5L752.5 196.5M747.5 187.5L756.5 187.5M752.5 187.5L751.5 186.5L750.5 185.5L750.5 184.5L751.5 183.5L752.5 182.5L756.5 182.5M748.5 167.5L748.5 168.5L747.5 169.5L747.5 170.5L748.5 172.5L748.5 173.5L749.5 173.5L750.5 172.5L751.5 172.5L751.5 171.5L752.5 168.5L753.5 167.5L755.5 167.5L756.5 168.5L756.5 169.5L756.5 170.5L756.5 172.5L755.5 173.5M750.5 164.5L759.5 164.5M751.5 164.5L751.5 163.5L750.5 162.5L750.5 161.5L751.5 160.5L751.5 159.5L753.5 159.5L755.5 159.5L756.5 160.5L756.5 161.5L756.5 162.5L756.5 163.5L755.5 164.5M747.5 149.5L756.5 149.5M747.5 149.5L747.5 146.5L748.5 145.5L748.5 144.5L749.5 144.5L751.5 143.5L753.5 143.5L754.5 144.5L755.5 144.5L756.5 145.5L756.5 146.5L756.5 149.5M753.5 141.5L753.5 135.5L752.5 135.5L751.5 136.5L750.5 137.5L750.5 138.5L751.5 139.5L751.5 140.5L753.5 141.5L755.5 140.5L756.5 139.5L756.5 138.5L756.5 137.5L756.5 136.5L755.5 135.5M750.5 133.5L756.5 133.5M752.5 133.5L751.5 131.5L750.5 130.5L750.5 129.5L751.5 128.5L752.5 128.5L756.5 128.5M751.5 120.5L751.5 121.5L750.5 122.5L750.5 123.5L751.5 125.5L752.5 125.5L753.5 124.5L753.5 122.5L753.5 121.5L754.5 120.5L755.5 120.5L756.5 121.5L756.5 122.5L756.5 123.5L756.5 125.5L755.5 125.5M706.5 225.5L707.5 225.5L708.5 223.5L708.5 232.5M716.5 223.5L715.5 224.5L714.5 225.5L713.5 227.5L713.5 228.5L714.5 231.5L715.5 232.5L716.5 232.5L717.5 232.5L718.5 232.5L719.5 231.5L719.5 228.5L719.5 227.5L719.5 225.5L718.5 224.5L717.5 223.5L716.5 223.5M723.5 231.5L722.5 232.5L723.5 232.5L723.5 231.5M729.5 223.5L727.5 224.5L726.5 225.5L726.5 227.5L726.5 228.5L726.5 231.5L727.5 232.5L729.5 232.5L731.5 232.5L731.5 231.5L732.5 228.5L732.5 227.5L731.5 225.5L731.5 224.5L729.5 223.5M706.5 269.5L707.5 269.5L708.5 267.5L708.5 276.5M714.5 275.5L714.5 276.5L715.5 276.5L714.5 275.5M720.5 267.5L719.5 268.5L718.5 269.5L718.5 271.5L718.5 272.5L718.5 275.5L719.5 276.5L720.5 276.5L721.5 276.5L722.5 276.5L723.5 275.5L723.5 272.5L723.5 271.5L723.5 269.5L722.5 268.5L721.5 267.5L720.5 267.5M707.5 309.5L706.5 310.5L705.5 311.5L705.5 313.5L705.5 314.5L705.5 317.5L706.5 318.5L707.5 318.5L708.5 318.5L710.5 318.5L710.5 317.5L711.5 314.5L711.5 313.5L710.5 311.5L710.5 310.5L708.5 309.5L707.5 309.5M714.5 317.5L714.5 318.5L715.5 318.5L714.5 317.5M719.5 311.5L720.5 311.5L721.5 309.5L721.5 318.5M744.5 322.5L744.5 317.5L743.5 317.5L742.5 317.5L741.5 318.5L741.5 319.5L742.5 320.5L742.5 321.5L744.5 322.5L745.5 322.5L746.5 321.5L747.5 320.5L747.5 319.5L747.5 318.5L747.5 317.5L746.5 317.5M743.5 314.5L743.5 306.5M738.5 296.5L747.5 296.5M738.5 296.5L738.5 292.5L739.5 291.5L739.5 290.5L740.5 290.5L741.5 290.5L742.5 290.5L742.5 291.5L743.5 292.5L743.5 296.5M738.5 287.5L747.5 287.5M743.5 287.5L742.5 286.5L741.5 285.5L741.5 284.5L742.5 283.5L743.5 282.5L747.5 282.5M740.5 267.5L739.5 268.5L738.5 269.5L738.5 271.5L739.5 272.5L740.5 273.5L741.5 272.5L742.5 272.5L742.5 271.5L743.5 268.5L744.5 267.5L745.5 267.5L746.5 267.5L747.5 268.5L747.5 269.5L747.5 271.5L747.5 272.5L746.5 273.5M741.5 264.5L750.5 264.5M742.5 264.5L742.5 263.5L741.5 262.5L741.5 261.5L742.5 260.5L742.5 259.5L744.5 259.5L745.5 259.5L746.5 259.5L747.5 260.5L747.5 261.5L747.5 262.5L747.5 263.5L746.5 264.5M738.5 249.5L747.5 249.5M738.5 249.5L738.5 246.5L739.5 245.5L740.5 244.5L742.5 243.5L744.5 243.5L745.5 244.5L746.5 244.5L747.5 245.5L747.5 246.5L747.5 249.5M744.5 241.5L744.5 236.5L743.5 236.5L742.5 236.5L741.5 237.5L741.5 239.5L742.5 239.5L742.5 240.5L744.5 241.5L745.5 241.5L746.5 240.5L747.5 239.5L747.5 237.5L747.5 236.5L746.5 236.5M741.5 233.5L747.5 233.5M743.5 233.5L742.5 231.5L741.5 231.5L741.5 229.5L742.5 228.5L743.5 228.5L747.5 228.5M742.5 220.5L742.5 221.5L741.5 222.5L741.5 223.5L742.5 225.5L743.5 225.5L744.5 224.5L744.5 222.5L745.5 221.5L745.5 220.5L746.5 220.5L747.5 221.5L747.5 222.5L747.5 223.5L747.5 225.5L746.5 225.5M687.5 719.5L691.5 719.5M687.5 719.5L687.5 716.5M689.5 719.5L689.5 717.5M688.5 715.5L691.5 715.5M689.5 715.5L688.5 714.5L688.5 713.5M687.5 712.5L686.5 712.5L687.5 712.5M688.5 712.5L691.5 712.5M687.5 705.5L690.5 705.5L691.5 706.5L691.5 707.5L690.5 707.5M688.5 704.5L690.5 704.5L691.5 703.5L691.5 702.5L690.5 701.5M688.5 701.5L691.5 701.5M688.5 700.5L691.5 700.5M689.5 700.5L688.5 699.5L688.5 698.5L688.5 697.5L689.5 697.5L691.5 697.5M687.5 686.5L691.5 688.5M687.5 689.5L687.5 686.5M687.5 680.5L687.5 681.5L688.5 681.5L689.5 681.5L690.5 681.5L691.5 681.5L691.5 680.5L691.5 679.5L690.5 679.5L689.5 678.5L688.5 678.5L687.5 679.5L687.5 680.5M687.5 674.5L691.5 676.5M687.5 677.5L687.5 674.5M688.5 672.5L688.5 673.5L688.5 672.5M691.5 672.5L691.5 673.5L691.5 672.5M687.5 670.5L687.5 668.5L688.5 669.5L688.5 668.5L689.5 668.5L690.5 668.5L691.5 668.5L691.5 669.5L691.5 670.5L691.5 671.5L690.5 671.5M687.5 665.5L687.5 666.5L688.5 666.5L688.5 665.5L689.5 664.5L690.5 664.5L691.5 664.5L691.5 665.5L691.5 666.5L690.5 667.5L689.5 666.5L688.5 665.5L688.5 664.5L687.5 664.5L687.5 665.5M688.5 662.5h.01M691.5 662.5h.01M687.5 658.5L690.5 660.5L690.5 657.5M687.5 658.5L691.5 658.5M688.5 656.5L687.5 656.5L687.5 655.5L687.5 654.5L687.5 653.5L688.5 653.5L689.5 654.5L691.5 656.5L691.5 653.5M688.5 648.5L687.5 648.5L687.5 647.5L687.5 646.5L688.5 646.5L689.5 646.5L691.5 648.5L691.5 645.5M687.5 643.5L687.5 644.5L688.5 644.5L689.5 644.5L690.5 644.5L691.5 643.5L691.5 642.5L690.5 641.5L689.5 641.5L688.5 641.5L687.5 641.5L687.5 642.5L687.5 643.5M687.5 639.5L687.5 638.5L691.5 638.5M687.5 635.5L687.5 633.5L688.5 634.5L688.5 633.5L689.5 633.5L690.5 633.5L691.5 633.5L691.5 634.5L691.5 635.5L690.5 636.5"/>
</g>
<g fill="none" stroke="#000" stroke-width="1" stroke-linecap="butt">
<path d="M96 23.5H685M96 117.5H685M96.5 23V118M684.5 23V118M121.5 24V25M121.5 116V117M145.5 24V25M145.5 116V117M170.5 24V25M170.5 116V117M194.5 24V25M194.5 116V117M219.5 24V25M219.5 116V117M243.5 24V25M243.5 116V117M268.5 24V25M268.5 116V117M292.5 24V26M292.5 115V117M317.5 24V25M317.5 116V117M341.5 24V25M341.5 116V117M366.5 24V25M366.5 116V117M390.5 24V25M390.5 116V117M415.5 24V25M415.5 116V117M439.5 24V25M439.5 116V117M464.5 24V25M464.5 116V117M488.5 24V26M488.5 115V117M513.5 24V25M513.5 116V117M537.5 24V25M537.5 116V117M562.5 24V25M562.5 116V117M586.5 24V25M586.5 116V117M611.5 24V25M611.5 116V117M635.5 24V25M635.5 116V117M660.5 24V25M660.5 116V117M97 45.5H109M672 45.5H684M97 95.5H103M678 95.5H684M97 83.5H103M678 83.5H684M97 74.5H103M678 74.5H684M97 67.5H103M678 67.5H684M97 61.5H103M678 61.5H684M97 56.5H103M678 56.5H684M97 52.5H103M678 52.5H684M97 48.5H103M678 48.5H684M96 123.5H685M96 218.5H685M96.5 123V219M684.5 123V219M121.5 124V125M121.5 217V218M145.5 124V125M145.5 217V218M170.5 124V125M170.5 217V218M194.5 124V125M194.5 217V218M219.5 124V125M219.5 217V218M243.5 124V125M243.5 217V218M268.5 124V125M268.5 217V218M292.5 124V126M292.5 216V218M317.5 124V125M317.5 217V218M341.5 124V125M341.5 217V218M366.5 124V125M366.5 217V218M390.5 124V125M390.5 217V218M415.5 124V125M415.5 217V218M439.5 124V125M439.5 217V218M464.5 124V125M464.5 217V218M488.5 124V126M488.5 216V218M513.5 124V125M513.5 217V218M537.5 124V125M537.5 217V218M562.5 124V125M562.5 217V218M586.5 124V125M586.5 217V218M611.5 124V125M611.5 217V218M635.5 124V125M635.5 217V218M660.5 124V125M660.5 217V218M97 191.5H109M672 191.5H684M97 165.5H109M672 165.5H684M97 139.5H109M672 139.5H684M97 212.5H103M678 212.5H684M97 207.5H103M678 207.5H684M97 202.5H103M678 202.5H684M97 197.5H103M678 197.5H684M97 186.5H103M678 186.5H684M97 181.5H103M678 181.5H684M97 176.5H103M678 176.5H684M97 170.5H103M678 170.5H684M97 160.5H103M678 160.5H684M97 155.5H103M678 155.5H684M97 149.5H103M678 149.5H684M97 144.5H103M678 144.5H684M97 134.5H103M678 134.5H684M97 129.5H103M678 129.5H684M96 224.5H685M96 318.5H685M96.5 224V319M684.5 224V319M121.5 225V226M121.5 317V318M145.5 225V226M145.5 317V318M170.5 225V226M170.5 317V318M194.5 225V226M194.5 317V318M219.5 225V226M219.5 317V318M243.5 225V226M243.5 317V318M268.5 225V226M268.5 317V318M292.5 225V226M292.5 316V318M317.5 225V226M317.5 317V318M341.5 225V226M341.5 317V318M366.5 225V226M366.5 317V318M390.5 225V226M390.5 317V318M415.5 225V226M415.5 317V318M439.5 225V226M439.5 317V318M464.5 225V226M464.5 317V318M488.5 225V226M488.5 316V318M513.5 225V226M513.5 317V318M537.5 225V226M537.5 317V318M562.5 225V226M562.5 317V318M586.5 225V226M586.5 317V318M611.5 225V226M611.5 317V318M635.5 225V226M635.5 317V318M660.5 225V226M660.5 317V318M97 292.5H109M672 292.5H684M97 265.5H109M672 265.5H684M97 239.5H109M672 239.5H684M97 313.5H103M678 313.5H684M97 307.5H103M678 307.5H684M97 302.5H103M678 302.5H684M97 297.5H103M678 297.5H684M97 286.5H103M678 286.5H684M97 281.5H103M678 281.5H684M97 276.5H103M678 276.5H684M97 271.5H103M678 271.5H684M97 260.5H103M678 260.5H684M97 255.5H103M678 255.5H684M97 250.5H103M678 250.5H684M97 245.5H103M678 245.5H684M97 234.5H103M678 234.5H684M97 229.5H103M678 229.5H684M96 324.5H685M96 418.5H685M96.5 324V419M684.5 324V419M121.5 325V326M121.5 417V418M145.5 325V326M145.5 417V418M170.5 325V326M170.5 417V418M194.5 325V326M194.5 417V418M219.5 325V326M219.5 417V418M243.5 325V326M243.5 417V418M268.5 325V326M268.5 417V418M292.5 325V327M292.5 416V418M317.5 325V326M317.5 417V418M341.5 325V326M341.5 417V418M366.5 325V326M366.5 417V418M390.5 325V326M390.5 417V418M415.5 325V326M415.5 417V418M439.5 325V326M439.5 417V418M464.5 325V326M464.5 417V418M488.5 325V327M488.5 416V418M513.5 325V326M513.5 417V418M537.5 325V326M537.5 417V418M562.5 325V326M562.5 417V418M586.5 325V326M586.5 417V418M611.5 325V326M611.5 417V418M635.5 325V326M635.5 417V418M660.5 325V326M660.5 417V418M97 395.5H109M672 395.5H684M97 371.5H109M672 371.5H684M97 347.5H109M672 347.5H684M97 413.5H103M678 413.5H684M97 409.5H103M678 409.5H684M97 404.5H103M678 404.5H684M97 399.5H103M678 399.5H684M97 390.5H103M678 390.5H684M97 385.5H103M678 385.5H684M97 380.5H103M678 380.5H684M97 376.5H103M678 376.5H684M97 366.5H103M678 366.5H684M97 362.5H103M678 362.5H684M97 357.5H103M678 357.5H684M97 352.5H103M678 352.5H684M97 343.5H103M678 343.5H684M97 338.5H103M678 338.5H684M97 333.5H103M678 333.5H684M97 329.5H103M678 329.5H684M96 424.5H685M96 518.5H685M96.5 424V519M684.5 424V519M121.5 425V426M121.5 517V518M145.5 425V426M145.5 517V518M170.5 425V426M170.5 517V518M194.5 425V426M194.5 517V518M219.5 425V426M219.5 517V518M243.5 425V426M243.5 517V518M268.5 425V426M268.5 517V518M292.5 425V427M292.5 517V518M317.5 425V426M317.5 517V518M341.5 425V426M341.5 517V518M366.5 425V426M366.5 517V518M390.5 425V426M390.5 517V518M415.5 425V426M415.5 517V518M439.5 425V426M439.5 517V518M464.5 425V426M464.5 517V518M488.5 425V427M488.5 517V518M513.5 425V426M513.5 517V518M537.5 425V426M537.5 517V518M562.5 425V426M562.5 517V518M586.5 425V426M586.5 517V518M611.5 425V426M611.5 517V518M635.5 425V426M635.5 517V518M660.5 425V426M660.5 517V518M97 495.5H109M672 495.5H684M97 471.5H109M672 471.5H684M97 448.5H109M672 448.5H684M97 514.5H103M678 514.5H684M97 509.5H103M678 509.5H684M97 504.5H103M678 504.5H684M97 500.5H103M678 500.5H684M97 490.5H103M678 490.5H684M97 485.5H103M678 485.5H684M97 481.5H103M678 481.5H684M97 476.5H103M678 476.5H684M97 467.5H103M678 467.5H684M97 462.5H103M678 462.5H684M97 457.5H103M678 457.5H684M97 452.5H103M678 452.5H684M97 443.5H103M678 443.5H684M97 438.5H103M678 438.5H684M97 434.5H103M678 434.5H684M97 429.5H103M678 429.5H684M96 524.5H685M96 619.5H685M96.5 524V620M684.5 524V620M121.5 525V526M121.5 618V619M145.5 525V526M145.5 618V619M170.5 525V526M170.5 618V619M194.5 525V526M194.5 618V619M219.5 525V526M219.5 618V619M243.5 525V526M243.5 618V619M268.5 525V526M268.5 618V619M292.5 525V527M292.5 617V619M317.5 525V526M317.5 618V619M341.5 525V526M341.5 618V619M366.5 525V526M366.5 618V619M390.5 525V526M390.5 618V619M415.5 525V526M415.5 618V619M439.5 525V526M439.5 618V619M464.5 525V526M464.5 618V619M488.5 525V527M488.5 617V619M513.5 525V526M513.5 618V619M537.5 525V526M537.5 618V619M562.5 525V526M562.5 618V619M586.5 525V526M586.5 618V619M611.5 525V526M611.5 618V619M635.5 525V526M635.5 618V619M660.5 525V526M660.5 618V619M97 595.5H109M672 595.5H684M97 572.5H109M672 572.5H684M97 548.5H109M672 548.5H684M97 614.5H103M678 614.5H684M97 609.5H103M678 609.5H684M97 605.5H103M678 605.5H684M97 600.5H103M678 600.5H684M97 590.5H103M678 590.5H684M97 586.5H103M678 586.5H684M97 581.5H103M678 581.5H684M97 576.5H103M678 576.5H684M97 567.5H103M678 567.5H684M97 562.5H103M678 562.5H684M97 557.5H103M678 557.5H684M97 553.5H103M678 553.5H684M97 543.5H103M678 543.5H684M97 539.5H103M678 539.5H684M97 534.5H103M678 534.5H684M97 529.5H103M678 529.5H684M96 625.5H685M96 719.5H685M96.5 625V720M684.5 625V720M121.5 626V627M121.5 718V719M145.5 626V627M145.5 718V719M170.5 626V627M170.5 718V719M194.5 626V627M194.5 718V719M219.5 626V627M219.5 718V719M243.5 626V627M243.5 718V719M268.5 626V627M268.5 718V719M292.5 626V628M292.5 717V719M317.5 626V627M317.5 718V719M341.5 626V627M341.5 718V719M366.5 626V627M366.5 718V719M390.5 626V627M390.5 718V719M415.5 626V627M415.5 718V719M439.5 626V627M439.5 718V719M464.5 626V627M464.5 718V719M488.5 626V628M488.5 717V719M513.5 626V627M513.5 718V719M537.5 626V627M537.5 718V719M562.5 626V627M562.5 718V719M586.5 626V627M586.5 718V719M611.5 626V627M611.5 718V719M635.5 626V627M635.5 718V719M660.5 626V627M660.5 718V719M97 695.5H109M672 695.5H684M97 672.5H109M672 672.5H684M97 648.5H109M672 648.5H684M97 714.5H103M678 714.5H684M97 710.5H103M678 710.5H684M97 705.5H103M678 705.5H684M97 700.5H103M678 700.5H684M97 691.5H103M678 691.5H684M97 686.5H103M678 686.5H684M97 681.5H103M678 681.5H684M97 677.5H103M678 677.5H684M97 667.5H103M678 667.5H684M97 662.5H103M678 662.5H684M97 658.5H103M678 658.5H684M97 653.5H103M678 653.5H684M97 644.5H103M678 644.5H684M97 639.5H103M678 639.5H684M97 634.5H103M678 634.5H684M97 630.5H103M678 630.5H684M692 23.5H701M692 117.5H701M692.5 23V118M700.5 23V118M692 123.5H701M692 218.5H701M692.5 123V219M700.5 123V219M692 224.5H701M692 318.5H701M692.5 224V319M700.5 224V319"/>
</g>
<clipPath id="cp"><rect x="96" y="320" width="589" height="400"/></clipPath>
<g fill="none" stroke="#000" stroke-width="1" stroke-linecap="square" stroke-linejoin="miter" clip-path="url(#cp)">
<path d="M470.5 377.5L473.5 378.5L475.5 378.5L478.5 382.5L481.5 373.5L483.5 370.5L486.5 368.5L489.5 369.5L491.5 371.5L494.5 372.5L497.5 372.5L499.5 373.5L502.5 374.5L505.5 374.5L507.5 376.5L510.5 376.5L513.5 375.5L515.5 376.5L518.5 375.5L521.5 376.5L523.5 376.5L526.5 377.5L529.5 376.5L531.5 375.5L534.5 375.5L537.5 375.5L539.5 374.5L542.5 373.5L545.5 364.5L547.5 367.5L550.5 368.5L553.5 368.5L555.5 371.5L558.5 377.5L561.5 383.5L563.5 374.5L566.5 377.5L569.5 380.5L571.5 380.5L574.5 380.5L577.5 383.5L579.5 383.5L582.5 382.5L585.5 382.5L587.5 383.5L590.5 384.5L593.5 385.5L595.5 385.5L598.5 386.5L601.5 387.5L603.5 385.5L606.5 384.5L609.5 384.5L611.5 383.5L614.5 384.5L617.5 386.5L619.5 379.5L622.5 367.5L625.5 378.5L627.5 385.5L630.5 385.5L633.5 386.5L635.5 386.5L638.5 387.5L641.5 386.5L643.5 386.5L646.5 385.5L649.5 385.5L651.5 386.5L654.5 386.5L657.5 387.5L659.5 388.5L662.5 389.5L665.5 387.5L667.5 385.5L670.5 384.5L673.5 385.5L675.5 387.5L678.5 387.5L681.5 387.5L683.5 388.5M466 377.5h9M470.5 373v9M469 378.5h9M473.5 374v9M471 378.5h9M475.5 374v9M474 382.5h9M478.5 378v9M477 373.5h9M481.5 369v9M479 370.5h9M483.5 366v9M482 368.5h9M486.5 364v9M485 369.5h9M489.5 365v9M487 371.5h9M491.5 367v9M490 372.5h9M494.5 368v9M493 372.5h9M497.5 368v9M495 373.5h9M499.5 369v9M498 374.5h9M502.5 370v9M501 374.5h9M505.5 370v9M503 376.5h9M507.5 372v9M506 376.5h9M510.5 372v9M509 375.5h9M513.5 371v9M511 376.5h9M515.5 372v9M514 375.5h9M518.5 371v9M517 376.5h9M521.5 372v9M519 376.5h9M523.5 372v9M522 377.5h9M526.5 373v9M525 376.5h9M529.5 372v9M527 375.5h9M531.5 371v9M530 375.5h9M534.5 371v9M533 375.5h9M537.5 371v9M535 374.5h9M539.5 370v9M538 373.5h9M542.5 369v9M541 364.5h9M545.5 360v9M543 367.5h9M547.5 363v9M546 368.5h9M550.5 364v9M549 368.5h9M553.5 364v9M551 371.5h9M555.5 367v9M554 377.5h9M558.5 373v9M557 383.5h9M561.5 379v9M559 374.5h9M563.5 370v9M562 377.5h9M566.5 373v9M565 380.5h9M569.5 376v9M567 380.5h9M571.5 376v9M570 380.5h9M574.5 376v9M573 383.5h9M577.5 379v9M575 383.5h9M579.5 379v9M578 382.5h9M582.5 378v9M581 382.5h9M585.5 378v9M583 383.5h9M587.5 379v9M586 384.5h9M590.5 380v9M589 385.5h9M593.5 381v9M591 385.5h9M595.5 381v9M594 386.5h9M598.5 382v9M597 387.5h9M601.5 383v9M599 385.5h9M603.5 381v9M602 384.5h9M606.5 380v9M605 384.5h9M609.5 380v9M607 383.5h9M611.5 379v9M610 384.5h9M614.5 380v9M613 386.5h9M617.5 382v9M615 379.5h9M619.5 375v9M618 367.5h9M622.5 363v9M621 378.5h9M625.5 374v9M623 385.5h9M627.5 381v9M626 385.5h9M630.5 381v9M629 386.5h9M633.5 382v9M631 386.5h9M635.5 382v9M634 387.5h9M638.5 383v9M637 386.5h9M641.5 382v9M639 386.5h9M643.5 382v9M642 385.5h9M646.5 381v9M645 385.5h9M649.5 381v9M647 386.5h9M651.5 382v9M650 386.5h9M654.5 382v9M653 387.5h9M657.5 383v9M655 388.5h9M659.5 384v9M658 389.5h9M662.5 385v9M661 387.5h9M665.5 383v9M663 385.5h9M667.5 381v9M666 384.5h9M670.5 380v9M669 385.5h9M673.5 381v9M671 387.5h9M675.5 383v9M674 387.5h9M678.5 383v9M677 387.5h9M681.5 383v9M679 388.5h9M683.5 384v9M470.5 458.5L473.5 457.5L475.5 457.5L478.5 462.5L481.5 471.5L483.5 473.5L486.5 464.5L489.5 458.5L491.5 458.5L494.5 458.5L497.5 470.5L499.5 465.5L502.5 462.5L505.5 459.5L507.5 455.5L510.5 453.5L513.5 452.5L515.5 454.5L518.5 458.5L521.5 456.5L523.5 453.5L526.5 452.5L529.5 455.5L531.5 454.5L534.5 451.5L537.5 450.5L539.5 449.5L542.5 449.5L545.5 450.5L547.5 449.5L550.5 448.5L553.5 448.5L555.5 450.5L558.5 452.5L561.5 454.5L563.5 449.5L566.5 451.5L569.5 453.5L571.5 450.5L574.5 452.5L577.5 455.5L579.5 461.5L582.5 474.5L585.5 465.5L587.5 453.5L590.5 453.5L593.5 453.5L595.5 451.5L598.5 451.5L601.5 450.5L603.5 449.5L606.5 448.5L609.5 449.5L611.5 449.5L614.5 452.5L617.5 460.5L619.5 473.5L622.5 478.5L625.5 467.5L627.5 455.5L630.5 454.5L633.5 452.5L635.5 452.5L638.5 452.5L641.5 454.5L643.5 454.5L646.5 453.5L649.5 453.5L651.5 457.5L654.5 458.5L657.5 458.5L659.5 462.5L662.5 468.5L665.5 454.5L667.5 450.5L670.5 449.5L673.5 451.5L675.5 453.5L678.5 452.5L681.5 453.5L683.5 452.5M466 458.5h9M470.5 454v9M469 457.5h9M473.5 453v9M471 457.5h9M475.5 453v9M474 462.5h9M478.5 458v9M477 471.5h9M481.5 467v9M479 473.5h9M483.5 469v9M482 464.5h9M486.5 460v9M485 458.5h9M489.5 454v9M487 458.5h9M491.5 454v9M490 458.5h9M494.5 454v9M493 470.5h9M497.5 466v9M495 465.5h9M499.5 461v9M498 462.5h9M502.5 458v9M501 459.5h9M505.5 455v9M503 455.5h9M507.5 451v9M506 453.5h9M510.5 449v9M509 452.5h9M513.5 448v9M511 454.5h9M515.5 450v9M514 458.5h9M518.5 454v9M517 456.5h9M521.5 452v9M519 453.5h9M523.5 449v9M522 452.5h9M526.5 448v9M525 455.5h9M529.5 451v9M527 454.5h9M531.5 450v9M530 451.5h9M534.5 447v9M533 450.5h9M537.5 446v9M535 449.5h9M539.5 445v9M538 449.5h9M542.5 445v9M541 450.5h9M545.5 446v9M543 449.5h9M547.5 445v9M546 448.5h9M550.5 444v9M549 448.5h9M553.5 444v9M551 450.5h9M555.5 446v9M554 452.5h9M558.5 448v9M557 454.5h9M561.5 450v9M559 449.5h9M563.5 445v9M562 451.5h9M566.5 447v9M565 453.5h9M569.5 449v9M567 450.5h9M571.5 446v9M570 452.5h9M574.5 448v9M573 455.5h9M577.5 451v9M575 461.5h9M579.5 457v9M578 474.5h9M582.5 470v9M581 465.5h9M585.5 461v9M583 453.5h9M587.5 449v9M586 453.5h9M590.5 449v9M589 453.5h9M593.5 449v9M591 451.5h9M595.5 447v9M594 451.5h9M598.5 447v9M597 450.5h9M601.5 446v9M599 449.5h9M603.5 445v9M602 448.5h9M606.5 444v9M605 449.5h9M609.5 445v9M607 449.5h9M611.5 445v9M610 452.5h9M614.5 448v9M613 460.5h9M617.5 456v9M615 473.5h9M619.5 469v9M618 478.5h9M622.5 474v9M621 467.5h9M625.5 463v9M623 455.5h9M627.5 451v9M626 454.5h9M630.5 450v9M629 452.5h9M633.5 448v9M631 452.5h9M635.5 448v9M634 452.5h9M638.5 448v9M637 454.5h9M641.5 450v9M639 454.5h9M643.5 450v9M642 453.5h9M646.5 449v9M645 453.5h9M649.5 449v9M647 457.5h9M651.5 453v9M650 458.5h9M654.5 454v9M653 458.5h9M657.5 454v9M655 462.5h9M659.5 458v9M658 468.5h9M662.5 464v9M661 454.5h9M665.5 450v9M663 450.5h9M667.5 446v9M666 449.5h9M670.5 445v9M669 451.5h9M673.5 447v9M671 453.5h9M675.5 449v9M674 452.5h9M678.5 448v9M677 453.5h9M681.5 449v9M679 452.5h9M683.5 448v9M470.5 586.5L473.5 587.5L475.5 585.5L478.5 580.5L481.5 556.5L483.5 556.5L486.5 559.5L489.5 562.5L491.5 563.5L494.5 561.5L497.5 555.5L499.5 556.5L502.5 557.5L505.5 558.5L507.5 562.5L510.5 563.5L513.5 568.5L515.5 579.5L518.5 586.5L521.5 584.5L523.5 580.5L526.5 571.5L529.5 565.5L531.5 565.5L534.5 568.5L537.5 569.5L539.5 570.5L542.5 572.5L545.5 576.5L547.5 579.5L550.5 577.5L553.5 577.5L555.5 576.5L558.5 569.5L561.5 566.5L563.5 569.5L566.5 565.5L569.5 562.5L571.5 569.5L574.5 566.5L577.5 560.5L579.5 555.5L582.5 550.5L585.5 557.5L587.5 564.5L590.5 569.5L593.5 578.5L595.5 568.5L598.5 565.5L601.5 569.5L603.5 572.5L606.5 574.5L609.5 576.5L611.5 578.5L614.5 565.5L617.5 562.5L619.5 556.5L622.5 557.5L625.5 560.5L627.5 562.5L630.5 563.5L633.5 565.5L635.5 565.5L638.5 564.5L641.5 562.5L643.5 564.5L646.5 565.5L649.5 564.5L651.5 562.5L654.5 560.5L657.5 557.5L659.5 557.5L662.5 557.5L665.5 560.5L667.5 571.5L670.5 569.5L673.5 568.5L675.5 566.5L678.5 564.5L681.5 562.5L683.5 558.5M466 586.5h9M470.5 582v9M469 587.5h9M473.5 583v9M471 585.5h9M475.5 581v9M474 580.5h9M478.5 576v9M477 556.5h9M481.5 552v9M479 556.5h9M483.5 552v9M482 559.5h9M486.5 555v9M485 562.5h9M489.5 558v9M487 563.5h9M491.5 559v9M490 561.5h9M494.5 557v9M493 555.5h9M497.5 551v9M495 556.5h9M499.5 552v9M498 557.5h9M502.5 553v9M501 558.5h9M505.5 554v9M503 562.5h9M507.5 558v9M506 563.5h9M510.5 559v9M509 568.5h9M513.5 564v9M511 579.5h9M515.5 575v9M514 586.5h9M518.5 582v9M517 584.5h9M521.5 580v9M519 580.5h9M523.5 576v9M522 571.5h9M526.5 567v9M525 565.5h9M529.5 561v9M527 565.5h9M531.5 561v9M530 568.5h9M534.5 564v9M533 569.5h9M537.5 565v9M535 570.5h9M539.5 566v9M538 572.5h9M542.5 568v9M541 576.5h9M545.5 572v9M543 579.5h9M547.5 575v9M546 577.5h9M550.5 573v9M549 577.5h9M553.5 573v9M551 576.5h9M555.5 572v9M554 569.5h9M558.5 565v9M557 566.5h9M561.5 562v9M559 569.5h9M563.5 565v9M562 565.5h9M566.5 561v9M565 562.5h9M569.5 558v9M567 569.5h9M571.5 565v9M570 566.5h9M574.5 562v9M573 560.5h9M577.5 556v9M575 555.5h9M579.5 551v9M578 550.5h9M582.5 546v9M581 557.5h9M585.5 553v9M583 564.5h9M587.5 560v9M586 569.5h9M590.5 565v9M589 578.5h9M593.5 574v9M591 568.5h9M595.5 564v9M594 565.5h9M598.5 561v9M597 569.5h9M601.5 565v9M599 572.5h9M603.5 568v9M602 574.5h9M606.5 570v9M605 576.5h9M609.5 572v9M607 578.5h9M611.5 574v9M610 565.5h9M614.5 561v9M613 562.5h9M617.5 558v9M615 556.5h9M619.5 552v9M618 557.5h9M622.5 553v9M621 560.5h9M625.5 556v9M623 562.5h9M627.5 558v9M626 563.5h9M630.5 559v9M629 565.5h9M633.5 561v9M631 565.5h9M635.5 561v9M634 564.5h9M638.5 560v9M637 562.5h9M641.5 558v9M639 564.5h9M643.5 560v9M642 565.5h9M646.5 561v9M645 564.5h9M649.5 560v9M647 562.5h9M651.5 558v9M650 560.5h9M654.5 556v9M653 557.5h9M657.5 553v9M655 557.5h9M659.5 553v9M658 557.5h9M662.5 553v9M661 560.5h9M665.5 556v9M663 571.5h9M667.5 567v9M666 569.5h9M670.5 565v9M669 568.5h9M673.5 564v9M671 566.5h9M675.5 562v9M674 564.5h9M678.5 560v9M677 562.5h9M681.5 558v9M679 558.5h9M683.5 554v9M470.5 698.5L473.5 697.5L475.5 698.5L478.5 707.5L481.5 705.5L483.5 704.5L486.5 704.5L489.5 704.5L491.5 704.5L494.5 703.5L497.5 702.5L499.5 701.5L502.5 700.5L505.5 700.5L507.5 699.5L510.5 700.5L513.5 699.5L515.5 699.5L518.5 700.5L521.5 699.5L523.5 699.5L526.5 699.5L529.5 700.5L531.5 700.5L534.5 699.5L537.5 698.5L539.5 697.5L542.5 699.5L545.5 696.5L547.5 694.5L550.5 695.5L553.5 696.5L555.5 696.5L558.5 698.5L561.5 698.5L563.5 699.5L566.5 699.5L569.5 696.5L571.5 696.5L574.5 697.5L577.5 697.5L579.5 697.5L582.5 697.5L585.5 698.5L587.5 696.5L590.5 695.5L593.5 695.5L595.5 692.5L598.5 692.5L601.5 692.5L603.5 692.5L606.5 692.5L609.5 692.5L611.5 693.5L614.5 694.5L617.5 697.5L619.5 699.5L622.5 703.5L625.5 704.5L627.5 697.5L630.5 694.5L633.5 694.5L635.5 693.5L638.5 692.5L641.5 694.5L643.5 694.5L646.5 695.5L649.5 696.5L651.5 697.5L654.5 697.5L657.5 695.5L659.5 696.5L662.5 694.5L665.5 693.5L667.5 694.5L670.5 693.5L673.5 693.5L675.5 693.5L678.5 692.5L681.5 693.5L683.5 692.5M466 698.5h9M470.5 694v9M469 697.5h9M473.5 693v9M471 698.5h9M475.5 694v9M474 707.5h9M478.5 703v9M477 705.5h9M481.5 701v9M479 704.5h9M483.5 700v9M482 704.5h9M486.5 700v9M485 704.5h9M489.5 700v9M487 704.5h9M491.5 700v9M490 703.5h9M494.5 699v9M493 702.5h9M497.5 698v9M495 701.5h9M499.5 697v9M498 700.5h9M502.5 696v9M501 700.5h9M505.5 696v9M503 699.5h9M507.5 695v9M506 700.5h9M510.5 696v9M509 699.5h9M513.5 695v9M511 699.5h9M515.5 695v9M514 700.5h9M518.5 696v9M517 699.5h9M521.5 695v9M519 699.5h9M523.5 695v9M522 699.5h9M526.5 695v9M525 700.5h9M529.5 696v9M527 700.5h9M531.5 696v9M530 699.5h9M534.5 695v9M533 698.5h9M537.5 694v9M535 697.5h9M539.5 693v9M538 699.5h9M542.5 695v9M541 696.5h9M545.5 692v9M543 694.5h9M547.5 690v9M546 695.5h9M550.5 691v9M549 696.5h9M553.5 692v9M551 696.5h9M555.5 692v9M554 698.5h9M558.5 694v9M557 698.5h9M561.5 694v9M559 699.5h9M563.5 695v9M562 699.5h9M566.5 695v9M565 696.5h9M569.5 692v9M567 696.5h9M571.5 692v9M570 697.5h9M574.5 693v9M573 697.5h9M577.5 693v9M575 697.5h9M579.5 693v9M578 697.5h9M582.5 693v9M581 698.5h9M585.5 694v9M583 696.5h9M587.5 692v9M586 695.5h9M590.5 691v9M589 695.5h9M593.5 691v9M591 692.5h9M595.5 688v9M594 692.5h9M598.5 688v9M597 692.5h9M601.5 688v9M599 692.5h9M603.5 688v9M602 692.5h9M606.5 688v9M605 692.5h9M609.5 688v9M607 693.5h9M611.5 689v9M610 694.5h9M614.5 690v9M613 697.5h9M617.5 693v9M615 699.5h9M619.5 695v9M618 703.5h9M622.5 699v9M621 704.5h9M625.5 700v9M623 697.5h9M627.5 693v9M626 694.5h9M630.5 690v9M629 694.5h9M633.5 690v9M631 693.5h9M635.5 689v9M634 692.5h9M638.5 688v9M637 694.5h9M641.5 690v9M639 694.5h9M643.5 690v9M642 695.5h9M646.5 691v9M645 696.5h9M649.5 692v9M647 697.5h9M651.5 693v9M650 697.5h9M654.5 693v9M653 695.5h9M657.5 691v9M655 696.5h9M659.5 692v9M658 694.5h9M662.5 690v9M661 693.5h9M665.5 689v9M663 694.5h9M667.5 690v9M666 693.5h9M670.5 689v9M669 693.5h9M673.5 689v9M671 693.5h9M675.5 689v9M674 692.5h9M678.5 688v9M677 693.5h9M681.5 689v9M679 692.5h9M683.5 688v9"/>
</g>
</svg>
</div></body></html>
